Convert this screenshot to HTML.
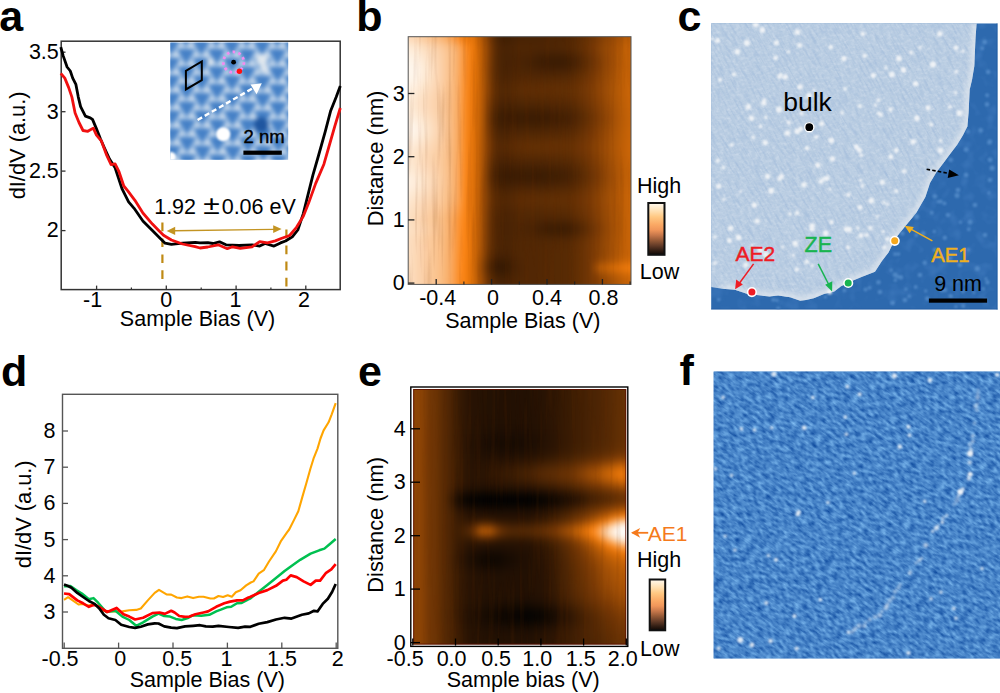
<!DOCTYPE html><html><head><meta charset="utf-8"><style>html,body{margin:0;padding:0;background:#fff;}svg{display:block;}</style></head><body>
<svg width="1000" height="693" viewBox="0 0 1000 693" font-family="'Liberation Sans', Arial, sans-serif">
<rect width="1000" height="693" fill="#fff"/>
<filter id="streak" x="0" y="0" width="100%" height="100%" color-interpolation-filters="sRGB"><feTurbulence type="fractalNoise" baseFrequency="0.25 0.012" numOctaves="2" seed="5"/><feColorMatrix type="matrix" values="0 0 0 0 0.45  0 0 0 0 0.2  0 0 0 0 0  -1.4 0 0 0 0.72"/></filter>
<text x="-0.8" y="30.8" font-size="43.0" font-weight="bold">a</text>
<text x="356.2" y="30.8" font-size="43.0" font-weight="bold">b</text>
<text x="677.6" y="31.0" font-size="43.0" font-weight="bold">c</text>
<text x="0.9" y="386.0" font-size="43.0" font-weight="bold">d</text>
<text x="358.0" y="385.6" font-size="43.0" font-weight="bold">e</text>
<text x="679.6" y="384.9" font-size="43.0" font-weight="bold">f</text>
<rect x="61.2" y="41.2" width="279" height="248.4" fill="none" stroke="#333" stroke-width="1.5"/>
<line x1="96.6" y1="289.6" x2="96.6" y2="285.6" stroke="#333" stroke-width="1.3"/>
<line x1="166.3" y1="289.6" x2="166.3" y2="285.6" stroke="#333" stroke-width="1.3"/>
<line x1="236.1" y1="289.6" x2="236.1" y2="285.6" stroke="#333" stroke-width="1.3"/>
<line x1="305.8" y1="289.6" x2="305.8" y2="285.6" stroke="#333" stroke-width="1.3"/>
<line x1="131.4" y1="289.6" x2="131.4" y2="287.4" stroke="#333" stroke-width="1.2"/>
<line x1="201.2" y1="289.6" x2="201.2" y2="287.4" stroke="#333" stroke-width="1.2"/>
<line x1="270.9" y1="289.6" x2="270.9" y2="287.4" stroke="#333" stroke-width="1.2"/>
<line x1="61.2" y1="230.6" x2="65.5" y2="230.6" stroke="#333" stroke-width="1.3"/>
<line x1="61.2" y1="171.1" x2="65.5" y2="171.1" stroke="#333" stroke-width="1.3"/>
<line x1="61.2" y1="111.7" x2="65.5" y2="111.7" stroke="#333" stroke-width="1.3"/>
<line x1="61.2" y1="52.2" x2="65.5" y2="52.2" stroke="#333" stroke-width="1.3"/>
<text x="92.6" y="307.3" font-size="21.5" text-anchor="middle">-1</text>
<text x="166.3" y="307.3" font-size="21.5" text-anchor="middle">0</text>
<text x="235.6" y="307.3" font-size="21.5" text-anchor="middle">1</text>
<text x="304.0" y="307.3" font-size="21.5" text-anchor="middle">2</text>
<text x="58.8" y="237.4" font-size="21.5" text-anchor="end">2</text>
<text x="58.8" y="177.9" font-size="21.5" text-anchor="end">2.5</text>
<text x="58.8" y="118.5" font-size="21.5" text-anchor="end">3</text>
<text x="58.8" y="59.0" font-size="21.5" text-anchor="end">3.5</text>
<text x="197.5" y="326.2" font-size="21.5" text-anchor="middle">Sample Bias (V)</text>
<text transform="translate(24.6,145.4) rotate(-90)" font-size="21.8" text-anchor="middle">dI/dV (a.u.)</text>
<line x1="162.4" y1="222.6" x2="162.4" y2="280" stroke="#bf8a14" stroke-width="2.2" stroke-dasharray="8.6,7.3"/>
<line x1="286.4" y1="229.4" x2="286.4" y2="287" stroke="#bf8a14" stroke-width="2.2" stroke-dasharray="8.8,7.3"/>
<line x1="174" y1="230.7" x2="274" y2="229.4" stroke="#c39422" stroke-width="1.4"/>
<polygon points="166.7,230.9 175.2,226.7 175.2,235.1" fill="#c39422"/>
<polygon points="281.6,229.1 273.2,225.3 273.2,233.0" fill="#c39422"/>
<text x="154.2" y="213.7" font-size="21.5">1.92</text>
<text transform="translate(203.2,213.6) scale(1.16,1)" font-size="26">±</text>
<text x="221.7" y="213.7" font-size="21.5">0.06 eV</text>
<polyline points="60.8,47.1 63.2,55.9 67.1,67.0 70.3,71.0 72.7,78.1 75.9,84.4 78.3,97.1 80.6,106.7 85.4,116.2 90.2,117.8 92.5,119.4 96.5,128.9 100.5,139.0 104.0,147.0 109.5,159.0 115.1,167.8 122.2,189.2 128.6,201.9 134.1,208.3 142.9,221.0 152.4,230.5 160.3,238.4 165.1,243.2 171.4,244.4 182.5,243.2 195.2,242.4 200.0,242.9 207.8,242.6 213.0,243.5 219.5,241.8 226.0,244.8 239.0,245.5 252.0,244.8 259.7,246.1 265.0,243.5 274.0,246.1 280.5,242.9 285.5,241.0 290.0,238.3 292.3,236.9 297.8,230.0 303.3,213.6 307.4,197.1 312.9,175.2 318.4,156.0 325.3,131.3 330.7,110.7 336.2,97.0 340.3,86.0" fill="none" stroke="#000" stroke-width="2.8" stroke-linejoin="round"/>
<polyline points="60.8,73.3 64.8,78.1 68.7,87.6 71.9,97.1 75.1,113.0 79.0,122.5 83.0,130.5 87.8,131.3 93.3,128.1 96.5,135.2 101.3,140.8 106.3,154.3 111.1,164.6 115.1,163.8 119.0,171.7 123.8,186.0 127.8,190.8 134.9,200.3 142.9,213.0 152.4,224.1 158.7,230.5 163.5,235.2 171.4,240.0 182.5,244.0 195.2,246.7 200.0,248.0 207.8,247.0 218.2,244.8 227.3,248.7 232.5,246.8 240.3,248.3 252.0,246.8 259.7,241.6 267.5,242.9 275.3,240.9 281.8,238.3 289.6,235.5 296.5,227.3 303.3,216.3 308.8,202.6 315.7,183.4 323.9,164.2 329.4,145.0 334.9,125.8 340.3,108.0" fill="none" stroke="#f01010" stroke-width="2.8" stroke-linejoin="round"/>
<clipPath id="cpin"><rect x="170.3" y="42.4" width="117.9" height="117.4"/></clipPath>
<g clip-path="url(#cpin)">
<rect x="170.3" y="42.4" width="117.9" height="117.4" fill="#a2c1e3"/>
<g filter="url(#blin)">
<g fill="#4580c6" stroke="#4580c6" stroke-width="3" stroke-linejoin="round"><path d="M149.0 32.8L162.2 32.8L155.6 43.7Z"/><path d="M149.2 50.4L162.4 50.4L155.8 61.3Z"/><path d="M149.4 68.0L162.6 68.0L156.0 78.9Z"/><path d="M149.6 85.6L162.8 85.6L156.2 96.5Z"/><path d="M149.8 103.2L163.0 103.2L156.4 114.1Z"/><path d="M150.0 120.8L163.2 120.8L156.6 131.7Z"/><path d="M150.2 138.4L163.4 138.4L156.8 149.3Z"/><path d="M150.4 156.0L163.6 156.0L157.0 166.9Z"/><path d="M164.1 24.0L177.3 24.0L170.7 34.9Z"/><path d="M164.3 41.6L177.5 41.6L170.9 52.5Z"/><path d="M164.5 59.2L177.7 59.2L171.1 70.2Z"/><path d="M164.7 76.8L177.9 76.8L171.3 87.8Z"/><path d="M164.9 94.5L178.1 94.5L171.5 105.4Z"/><path d="M165.1 112.1L178.3 112.1L171.7 123.0Z"/><path d="M165.3 129.7L178.5 129.7L171.9 140.6Z"/><path d="M165.5 147.2L178.7 147.2L172.1 158.2Z"/><path d="M165.7 164.9L178.9 164.9L172.3 175.8Z"/><path d="M179.4 32.9L192.6 32.9L186.0 43.8Z"/><path d="M179.6 50.5L192.8 50.5L186.2 61.4Z"/><path d="M179.8 68.1L193.0 68.1L186.4 79.0Z"/><path d="M180.0 85.7L193.2 85.7L186.6 96.6Z"/><path d="M180.2 103.3L193.4 103.3L186.8 114.2Z"/><path d="M180.4 120.9L193.6 120.9L187.0 131.8Z"/><path d="M180.6 138.5L193.8 138.5L187.2 149.4Z"/><path d="M180.8 156.1L194.0 156.1L187.4 167.0Z"/><path d="M194.5 24.1L207.7 24.1L201.1 35.0Z"/><path d="M194.7 41.8L207.9 41.8L201.3 52.6Z"/><path d="M194.9 59.4L208.1 59.4L201.5 70.2Z"/><path d="M195.1 77.0L208.3 77.0L201.7 87.9Z"/><path d="M195.3 94.6L208.5 94.6L201.9 105.5Z"/><path d="M195.5 112.2L208.7 112.2L202.1 123.1Z"/><path d="M195.7 129.8L208.9 129.8L202.3 140.7Z"/><path d="M195.9 147.3L209.1 147.3L202.5 158.2Z"/><path d="M196.1 165.0L209.3 165.0L202.7 175.9Z"/><path d="M209.8 33.0L223.0 33.0L216.4 43.9Z"/><path d="M210.0 50.6L223.2 50.6L216.6 61.5Z"/><path d="M210.2 68.2L223.4 68.2L216.8 79.1Z"/><path d="M210.4 85.8L223.6 85.8L217.0 96.7Z"/><path d="M210.6 103.4L223.8 103.4L217.2 114.3Z"/><path d="M210.8 121.0L224.0 121.0L217.4 131.9Z"/><path d="M211.0 138.6L224.2 138.6L217.6 149.5Z"/><path d="M211.2 156.2L224.4 156.2L217.8 167.1Z"/><path d="M224.9 24.2L238.1 24.2L231.5 35.1Z"/><path d="M225.1 41.8L238.3 41.8L231.7 52.7Z"/><path d="M225.3 59.4L238.5 59.4L231.9 70.3Z"/><path d="M225.5 77.0L238.7 77.0L232.1 88.0Z"/><path d="M225.7 94.7L238.9 94.7L232.3 105.6Z"/><path d="M225.9 112.2L239.1 112.2L232.5 123.2Z"/><path d="M226.1 129.8L239.3 129.8L232.7 140.8Z"/><path d="M226.3 147.4L239.5 147.4L232.9 158.3Z"/><path d="M226.5 165.1L239.7 165.1L233.1 176.0Z"/><path d="M240.2 33.1L253.4 33.1L246.8 44.0Z"/><path d="M240.4 50.7L253.6 50.7L247.0 61.6Z"/><path d="M240.6 68.3L253.8 68.3L247.2 79.2Z"/><path d="M240.8 85.9L254.0 85.9L247.4 96.8Z"/><path d="M241.0 103.5L254.2 103.5L247.6 114.4Z"/><path d="M241.2 121.1L254.4 121.1L247.8 132.0Z"/><path d="M241.4 138.7L254.6 138.7L248.0 149.6Z"/><path d="M241.6 156.3L254.8 156.3L248.2 167.2Z"/><path d="M255.3 24.3L268.5 24.3L261.9 35.2Z"/><path d="M255.5 41.9L268.7 41.9L262.1 52.8Z"/><path d="M255.7 59.5L268.9 59.5L262.3 70.5Z"/><path d="M255.9 77.2L269.1 77.2L262.5 88.1Z"/><path d="M256.1 94.8L269.3 94.8L262.7 105.7Z"/><path d="M256.3 112.3L269.5 112.3L262.9 123.2Z"/><path d="M256.5 129.9L269.7 129.9L263.1 140.8Z"/><path d="M256.7 147.6L269.9 147.6L263.3 158.5Z"/><path d="M256.9 165.2L270.1 165.2L263.5 176.1Z"/><path d="M270.6 33.2L283.8 33.2L277.2 44.1Z"/><path d="M270.8 50.8L284.0 50.8L277.4 61.7Z"/><path d="M271.0 68.4L284.2 68.4L277.6 79.3Z"/><path d="M271.2 86.0L284.4 86.0L277.8 96.9Z"/><path d="M271.4 103.6L284.6 103.6L278.0 114.5Z"/><path d="M271.6 121.2L284.8 121.2L278.2 132.1Z"/><path d="M271.8 138.8L285.0 138.8L278.4 149.7Z"/><path d="M272.0 156.4L285.2 156.4L278.6 167.3Z"/><path d="M285.7 24.4L298.9 24.4L292.3 35.3Z"/><path d="M285.9 42.0L299.1 42.0L292.5 52.9Z"/><path d="M286.1 59.6L299.3 59.6L292.7 70.5Z"/><path d="M286.3 77.2L299.5 77.2L292.9 88.1Z"/><path d="M286.5 94.8L299.7 94.8L293.1 105.8Z"/><path d="M286.7 112.4L299.9 112.4L293.3 123.3Z"/><path d="M286.9 130.0L300.1 130.0L293.5 140.9Z"/><path d="M287.1 147.6L300.3 147.6L293.7 158.5Z"/><path d="M287.3 165.2L300.5 165.2L293.9 176.2Z"/></g>
<g fill="#cddcec"><circle cx="160.7" cy="46.1" r="3.0"/><circle cx="150.5" cy="46.1" r="2.4"/><circle cx="160.9" cy="63.7" r="3.0"/><circle cx="150.7" cy="63.7" r="2.4"/><circle cx="161.1" cy="81.3" r="3.0"/><circle cx="150.9" cy="81.3" r="2.4"/><circle cx="161.3" cy="98.9" r="3.0"/><circle cx="151.1" cy="98.9" r="2.4"/><circle cx="161.5" cy="116.5" r="3.0"/><circle cx="151.3" cy="116.5" r="2.4"/><circle cx="161.7" cy="134.1" r="3.0"/><circle cx="151.5" cy="134.1" r="2.4"/><circle cx="161.9" cy="151.7" r="3.0"/><circle cx="151.7" cy="151.7" r="2.4"/><circle cx="162.1" cy="169.3" r="3.0"/><circle cx="151.9" cy="169.3" r="2.4"/><circle cx="175.8" cy="37.3" r="3.0"/><circle cx="165.6" cy="37.3" r="2.4"/><circle cx="176.0" cy="55.0" r="3.0"/><circle cx="165.8" cy="55.0" r="2.4"/><circle cx="176.2" cy="72.5" r="3.0"/><circle cx="166.0" cy="72.5" r="2.4"/><circle cx="176.4" cy="90.1" r="3.0"/><circle cx="166.2" cy="90.1" r="2.4"/><circle cx="176.6" cy="107.8" r="3.0"/><circle cx="166.4" cy="107.8" r="2.4"/><circle cx="176.8" cy="125.4" r="3.0"/><circle cx="166.6" cy="125.4" r="2.4"/><circle cx="177.0" cy="143.0" r="3.0"/><circle cx="166.8" cy="143.0" r="2.4"/><circle cx="177.2" cy="160.6" r="3.0"/><circle cx="167.0" cy="160.6" r="2.4"/><circle cx="177.4" cy="178.2" r="3.0"/><circle cx="167.2" cy="178.2" r="2.4"/><circle cx="191.1" cy="46.2" r="3.0"/><circle cx="180.9" cy="46.2" r="2.4"/><circle cx="191.3" cy="63.8" r="3.0"/><circle cx="181.1" cy="63.8" r="2.4"/><circle cx="191.5" cy="81.4" r="3.0"/><circle cx="181.3" cy="81.4" r="2.4"/><circle cx="191.7" cy="99.0" r="3.0"/><circle cx="181.5" cy="99.0" r="2.4"/><circle cx="191.9" cy="116.6" r="3.0"/><circle cx="181.7" cy="116.6" r="2.4"/><circle cx="192.1" cy="134.2" r="3.0"/><circle cx="181.9" cy="134.2" r="2.4"/><circle cx="192.3" cy="151.8" r="3.0"/><circle cx="182.1" cy="151.8" r="2.4"/><circle cx="192.5" cy="169.4" r="3.0"/><circle cx="182.3" cy="169.4" r="2.4"/><circle cx="206.2" cy="37.5" r="3.0"/><circle cx="196.0" cy="37.5" r="2.4"/><circle cx="206.4" cy="55.0" r="3.0"/><circle cx="196.2" cy="55.0" r="2.4"/><circle cx="206.6" cy="72.7" r="3.0"/><circle cx="196.4" cy="72.7" r="2.4"/><circle cx="206.8" cy="90.2" r="3.0"/><circle cx="196.6" cy="90.2" r="2.4"/><circle cx="207.0" cy="107.9" r="3.0"/><circle cx="196.8" cy="107.9" r="2.4"/><circle cx="207.2" cy="125.5" r="3.0"/><circle cx="197.0" cy="125.5" r="2.4"/><circle cx="207.4" cy="143.1" r="3.0"/><circle cx="197.2" cy="143.1" r="2.4"/><circle cx="207.6" cy="160.7" r="3.0"/><circle cx="197.4" cy="160.7" r="2.4"/><circle cx="207.8" cy="178.3" r="3.0"/><circle cx="197.6" cy="178.3" r="2.4"/><circle cx="221.5" cy="46.3" r="3.0"/><circle cx="211.3" cy="46.3" r="2.4"/><circle cx="221.7" cy="63.9" r="3.0"/><circle cx="211.5" cy="63.9" r="2.4"/><circle cx="221.9" cy="81.5" r="3.0"/><circle cx="211.7" cy="81.5" r="2.4"/><circle cx="222.1" cy="99.1" r="3.0"/><circle cx="211.9" cy="99.1" r="2.4"/><circle cx="222.3" cy="116.7" r="3.0"/><circle cx="212.1" cy="116.7" r="2.4"/><circle cx="222.5" cy="134.3" r="3.0"/><circle cx="212.3" cy="134.3" r="2.4"/><circle cx="222.7" cy="151.9" r="3.0"/><circle cx="212.5" cy="151.9" r="2.4"/><circle cx="222.9" cy="169.5" r="3.0"/><circle cx="212.7" cy="169.5" r="2.4"/><circle cx="236.6" cy="37.5" r="3.0"/><circle cx="226.4" cy="37.5" r="2.4"/><circle cx="236.8" cy="55.1" r="3.0"/><circle cx="226.6" cy="55.1" r="2.4"/><circle cx="237.0" cy="72.8" r="3.0"/><circle cx="226.8" cy="72.8" r="2.4"/><circle cx="237.2" cy="90.3" r="3.0"/><circle cx="227.0" cy="90.3" r="2.4"/><circle cx="237.4" cy="108.0" r="3.0"/><circle cx="227.2" cy="108.0" r="2.4"/><circle cx="237.6" cy="125.5" r="3.0"/><circle cx="227.4" cy="125.5" r="2.4"/><circle cx="237.8" cy="143.2" r="3.0"/><circle cx="227.6" cy="143.2" r="2.4"/><circle cx="238.0" cy="160.8" r="3.0"/><circle cx="227.8" cy="160.8" r="2.4"/><circle cx="238.2" cy="178.4" r="3.0"/><circle cx="228.0" cy="178.4" r="2.4"/><circle cx="251.9" cy="46.4" r="3.0"/><circle cx="241.7" cy="46.4" r="2.4"/><circle cx="252.1" cy="64.0" r="3.0"/><circle cx="241.9" cy="64.0" r="2.4"/><circle cx="252.3" cy="81.6" r="3.0"/><circle cx="242.1" cy="81.6" r="2.4"/><circle cx="252.5" cy="99.2" r="3.0"/><circle cx="242.3" cy="99.2" r="2.4"/><circle cx="252.7" cy="116.8" r="3.0"/><circle cx="242.5" cy="116.8" r="2.4"/><circle cx="252.9" cy="134.4" r="3.0"/><circle cx="242.7" cy="134.4" r="2.4"/><circle cx="253.1" cy="152.0" r="3.0"/><circle cx="242.9" cy="152.0" r="2.4"/><circle cx="253.3" cy="169.6" r="3.0"/><circle cx="243.1" cy="169.6" r="2.4"/><circle cx="267.0" cy="37.6" r="3.0"/><circle cx="256.8" cy="37.6" r="2.4"/><circle cx="267.2" cy="55.2" r="3.0"/><circle cx="257.0" cy="55.2" r="2.4"/><circle cx="267.4" cy="72.8" r="3.0"/><circle cx="257.2" cy="72.8" r="2.4"/><circle cx="267.6" cy="90.5" r="3.0"/><circle cx="257.4" cy="90.5" r="2.4"/><circle cx="267.8" cy="108.0" r="3.0"/><circle cx="257.6" cy="108.0" r="2.4"/><circle cx="268.0" cy="125.6" r="3.0"/><circle cx="257.8" cy="125.6" r="2.4"/><circle cx="268.2" cy="143.2" r="3.0"/><circle cx="258.0" cy="143.2" r="2.4"/><circle cx="268.4" cy="160.9" r="3.0"/><circle cx="258.2" cy="160.9" r="2.4"/><circle cx="268.6" cy="178.5" r="3.0"/><circle cx="258.4" cy="178.5" r="2.4"/><circle cx="282.3" cy="46.5" r="3.0"/><circle cx="272.1" cy="46.5" r="2.4"/><circle cx="282.5" cy="64.1" r="3.0"/><circle cx="272.3" cy="64.1" r="2.4"/><circle cx="282.7" cy="81.7" r="3.0"/><circle cx="272.5" cy="81.7" r="2.4"/><circle cx="282.9" cy="99.3" r="3.0"/><circle cx="272.7" cy="99.3" r="2.4"/><circle cx="283.1" cy="116.9" r="3.0"/><circle cx="272.9" cy="116.9" r="2.4"/><circle cx="283.3" cy="134.5" r="3.0"/><circle cx="273.1" cy="134.5" r="2.4"/><circle cx="283.5" cy="152.1" r="3.0"/><circle cx="273.3" cy="152.1" r="2.4"/><circle cx="283.7" cy="169.7" r="3.0"/><circle cx="273.5" cy="169.7" r="2.4"/><circle cx="297.4" cy="37.7" r="3.0"/><circle cx="287.2" cy="37.7" r="2.4"/><circle cx="297.6" cy="55.3" r="3.0"/><circle cx="287.4" cy="55.3" r="2.4"/><circle cx="297.8" cy="72.9" r="3.0"/><circle cx="287.6" cy="72.9" r="2.4"/><circle cx="298.0" cy="90.5" r="3.0"/><circle cx="287.8" cy="90.5" r="2.4"/><circle cx="298.2" cy="108.1" r="3.0"/><circle cx="288.0" cy="108.1" r="2.4"/><circle cx="298.4" cy="125.7" r="3.0"/><circle cx="288.2" cy="125.7" r="2.4"/><circle cx="298.6" cy="143.3" r="3.0"/><circle cx="288.4" cy="143.3" r="2.4"/><circle cx="298.8" cy="160.9" r="3.0"/><circle cx="288.6" cy="160.9" r="2.4"/><circle cx="299.0" cy="178.6" r="3.0"/><circle cx="288.8" cy="178.6" r="2.4"/></g>
<circle cx="261.2" cy="124.8" r="7.5" fill="#1f56a0"/>
<circle cx="262" cy="60" r="6" fill="#dfe7ee"/>
<circle cx="264" cy="68" r="4" fill="#dfe7ee"/>
<circle cx="210.8" cy="61.6" r="3.5" fill="#dfe7ee"/>
</g>
<filter id="blin" x="-10%" y="-10%" width="120%" height="120%" color-interpolation-filters="sRGB"><feGaussianBlur stdDeviation="2.0"/></filter>
<circle cx="223.3" cy="134.3" r="7" fill="#fff" filter="url(#blin2)"/>
<circle cx="171" cy="157" r="5" fill="#fff" filter="url(#blin2)"/>
<filter id="blin2" x="-50%" y="-50%" width="200%" height="200%"><feGaussianBlur stdDeviation="1.0"/></filter>
</g>
<polygon points="185.9,70.9 201.8,61.5 201.8,80.1 185.9,89.4" fill="none" stroke="#000" stroke-width="2"/>
<circle cx="233.6" cy="62.2" r="10.3" fill="none" stroke="#f48cf0" stroke-width="2.8" stroke-dasharray="2.6,3.3"/>
<circle cx="233.6" cy="62.2" r="2.4" fill="#000"/>
<circle cx="239.4" cy="71.2" r="2.7" fill="#ff1010"/>
<line x1="197.6" y1="120" x2="254" y2="87.6" stroke="#fff" stroke-width="2.4" stroke-dasharray="5.2,3"/>
<polygon points="261.8,83.2 250.5,84.6 256.6,94.2" fill="#fff"/>
<text x="243.6" y="143.4" font-size="18.5" stroke="#000" stroke-width="0.4">2 nm</text>
<rect x="243.4" y="150.6" width="38.4" height="4.2" fill="#000"/>
<style>.hb{width:6.6px;height:6.6px}</style>
<clipPath id="hbc"><rect x="408.2" y="36.7" width="222.8" height="247.7"/></clipPath>
<g clip-path="url(#hbc)"><g filter="url(#blhb)">
<rect class="hb" x="396.2" y="24.7" fill="#fcd8b7"/><rect class="hb" x="402.2" y="24.7" fill="#fcd8b7"/><rect class="hb" x="408.2" y="24.7" fill="#fcd8b6"/><rect class="hb" x="414.2" y="24.7" fill="#fbd1aa"/><rect class="hb" x="420.2" y="24.7" fill="#fac99a"/><rect class="hb" x="426.2" y="24.7" fill="#fac28d"/><rect class="hb" x="432.2" y="24.7" fill="#f9bb80"/><rect class="hb" x="438.2" y="24.7" fill="#f9b371"/><rect class="hb" x="444.2" y="24.7" fill="#f9a75d"/><rect class="hb" x="450.2" y="24.7" fill="#fa9a42"/><rect class="hb" x="456.2" y="24.7" fill="#fb891f"/><rect class="hb" x="462.2" y="24.7" fill="#e8750a"/><rect class="hb" x="468.2" y="24.7" fill="#e9760a"/><rect class="hb" x="474.2" y="24.7" fill="#cf6705"/><rect class="hb" x="480.2" y="24.7" fill="#a85204"/><rect class="hb" x="486.2" y="24.7" fill="#773803"/><rect class="hb" x="492.2" y="24.7" fill="#502602"/><rect class="hb" x="498.2" y="24.7" fill="#401e01"/><rect class="hb" x="504.2" y="24.7" fill="#3f1d01"/><rect class="hb" x="510.2" y="24.7" fill="#431f02"/><rect class="hb" x="516.2" y="24.7" fill="#462102"/><rect class="hb" x="522.2" y="24.7" fill="#472102"/><rect class="hb" x="528.2" y="24.7" fill="#472102"/><rect class="hb" x="534.2" y="24.7" fill="#472102"/><rect class="hb" x="540.2" y="24.7" fill="#482102"/><rect class="hb" x="546.2" y="24.7" fill="#492202"/><rect class="hb" x="552.2" y="24.7" fill="#4a2302"/><rect class="hb" x="558.2" y="24.7" fill="#4b2302"/><rect class="hb" x="564.2" y="24.7" fill="#4d2402"/><rect class="hb" x="570.2" y="24.7" fill="#512602"/><rect class="hb" x="576.2" y="24.7" fill="#592a02"/><rect class="hb" x="582.2" y="24.7" fill="#612d02"/><rect class="hb" x="588.2" y="24.7" fill="#6b3203"/><rect class="hb" x="594.2" y="24.7" fill="#763703"/><rect class="hb" x="600.2" y="24.7" fill="#823e03"/><rect class="hb" x="606.2" y="24.7" fill="#904503"/><rect class="hb" x="612.2" y="24.7" fill="#9d4c04"/><rect class="hb" x="618.2" y="24.7" fill="#ab5304"/><rect class="hb" x="624.2" y="24.7" fill="#b75a04"/><rect class="hb" x="630.2" y="24.7" fill="#bc5d04"/><rect class="hb" x="636.2" y="24.7" fill="#bc5d04"/><rect class="hb" x="642.2" y="24.7" fill="#bc5d04"/><rect class="hb" x="396.2" y="30.7" fill="#fcd8b7"/><rect class="hb" x="402.2" y="30.7" fill="#fcd8b7"/><rect class="hb" x="408.2" y="30.7" fill="#fcd8b6"/><rect class="hb" x="414.2" y="30.7" fill="#fbd1aa"/><rect class="hb" x="420.2" y="30.7" fill="#fac99a"/><rect class="hb" x="426.2" y="30.7" fill="#fac28d"/><rect class="hb" x="432.2" y="30.7" fill="#f9bb80"/><rect class="hb" x="438.2" y="30.7" fill="#f9b371"/><rect class="hb" x="444.2" y="30.7" fill="#f9a75d"/><rect class="hb" x="450.2" y="30.7" fill="#fa9a42"/><rect class="hb" x="456.2" y="30.7" fill="#fb891f"/><rect class="hb" x="462.2" y="30.7" fill="#e8750a"/><rect class="hb" x="468.2" y="30.7" fill="#e9760a"/><rect class="hb" x="474.2" y="30.7" fill="#cf6705"/><rect class="hb" x="480.2" y="30.7" fill="#a85204"/><rect class="hb" x="486.2" y="30.7" fill="#773803"/><rect class="hb" x="492.2" y="30.7" fill="#502602"/><rect class="hb" x="498.2" y="30.7" fill="#401e01"/><rect class="hb" x="504.2" y="30.7" fill="#3f1d01"/><rect class="hb" x="510.2" y="30.7" fill="#431f02"/><rect class="hb" x="516.2" y="30.7" fill="#462102"/><rect class="hb" x="522.2" y="30.7" fill="#472102"/><rect class="hb" x="528.2" y="30.7" fill="#472102"/><rect class="hb" x="534.2" y="30.7" fill="#472102"/><rect class="hb" x="540.2" y="30.7" fill="#482102"/><rect class="hb" x="546.2" y="30.7" fill="#492202"/><rect class="hb" x="552.2" y="30.7" fill="#4a2302"/><rect class="hb" x="558.2" y="30.7" fill="#4b2302"/><rect class="hb" x="564.2" y="30.7" fill="#4d2402"/><rect class="hb" x="570.2" y="30.7" fill="#512602"/><rect class="hb" x="576.2" y="30.7" fill="#592a02"/><rect class="hb" x="582.2" y="30.7" fill="#612d02"/><rect class="hb" x="588.2" y="30.7" fill="#6b3203"/><rect class="hb" x="594.2" y="30.7" fill="#763703"/><rect class="hb" x="600.2" y="30.7" fill="#823e03"/><rect class="hb" x="606.2" y="30.7" fill="#904503"/><rect class="hb" x="612.2" y="30.7" fill="#9d4c04"/><rect class="hb" x="618.2" y="30.7" fill="#ab5304"/><rect class="hb" x="624.2" y="30.7" fill="#b75a04"/><rect class="hb" x="630.2" y="30.7" fill="#bc5d04"/><rect class="hb" x="636.2" y="30.7" fill="#bc5d04"/><rect class="hb" x="642.2" y="30.7" fill="#bc5d04"/><rect class="hb" x="396.2" y="36.7" fill="#fcdbbb"/><rect class="hb" x="402.2" y="36.7" fill="#fcdbbb"/><rect class="hb" x="408.2" y="36.7" fill="#fcdaba"/><rect class="hb" x="414.2" y="36.7" fill="#fbd4af"/><rect class="hb" x="420.2" y="36.7" fill="#facca1"/><rect class="hb" x="426.2" y="36.7" fill="#fac593"/><rect class="hb" x="432.2" y="36.7" fill="#f9be86"/><rect class="hb" x="438.2" y="36.7" fill="#f9b779"/><rect class="hb" x="444.2" y="36.7" fill="#f9ab64"/><rect class="hb" x="450.2" y="36.7" fill="#f99e4c"/><rect class="hb" x="456.2" y="36.7" fill="#fb8d28"/><rect class="hb" x="462.2" y="36.7" fill="#ec780b"/><rect class="hb" x="468.2" y="36.7" fill="#ea770a"/><rect class="hb" x="474.2" y="36.7" fill="#d16805"/><rect class="hb" x="480.2" y="36.7" fill="#aa5304"/><rect class="hb" x="486.2" y="36.7" fill="#783803"/><rect class="hb" x="492.2" y="36.7" fill="#512602"/><rect class="hb" x="498.2" y="36.7" fill="#411e02"/><rect class="hb" x="504.2" y="36.7" fill="#401e01"/><rect class="hb" x="510.2" y="36.7" fill="#442002"/><rect class="hb" x="516.2" y="36.7" fill="#472102"/><rect class="hb" x="522.2" y="36.7" fill="#482202"/><rect class="hb" x="528.2" y="36.7" fill="#482202"/><rect class="hb" x="534.2" y="36.7" fill="#482202"/><rect class="hb" x="540.2" y="36.7" fill="#492202"/><rect class="hb" x="546.2" y="36.7" fill="#4a2302"/><rect class="hb" x="552.2" y="36.7" fill="#4b2302"/><rect class="hb" x="558.2" y="36.7" fill="#4c2402"/><rect class="hb" x="564.2" y="36.7" fill="#4e2402"/><rect class="hb" x="570.2" y="36.7" fill="#522702"/><rect class="hb" x="576.2" y="36.7" fill="#5a2a02"/><rect class="hb" x="582.2" y="36.7" fill="#622e02"/><rect class="hb" x="588.2" y="36.7" fill="#6c3303"/><rect class="hb" x="594.2" y="36.7" fill="#773803"/><rect class="hb" x="600.2" y="36.7" fill="#843f03"/><rect class="hb" x="606.2" y="36.7" fill="#914604"/><rect class="hb" x="612.2" y="36.7" fill="#9f4d04"/><rect class="hb" x="618.2" y="36.7" fill="#ac5404"/><rect class="hb" x="624.2" y="36.7" fill="#b95b04"/><rect class="hb" x="630.2" y="36.7" fill="#be5e04"/><rect class="hb" x="636.2" y="36.7" fill="#be5e04"/><rect class="hb" x="642.2" y="36.7" fill="#be5e04"/><rect class="hb" x="396.2" y="42.7" fill="#fde8d3"/><rect class="hb" x="402.2" y="42.7" fill="#fde8d3"/><rect class="hb" x="408.2" y="42.7" fill="#fde8d1"/><rect class="hb" x="414.2" y="42.7" fill="#fce2c7"/><rect class="hb" x="420.2" y="42.7" fill="#fcdbbb"/><rect class="hb" x="426.2" y="42.7" fill="#fbd5b0"/><rect class="hb" x="432.2" y="42.7" fill="#fbcea4"/><rect class="hb" x="438.2" y="42.7" fill="#fac798"/><rect class="hb" x="444.2" y="42.7" fill="#f9bf87"/><rect class="hb" x="450.2" y="42.7" fill="#f9b371"/><rect class="hb" x="456.2" y="42.7" fill="#f9a355"/><rect class="hb" x="462.2" y="42.7" fill="#fb891e"/><rect class="hb" x="468.2" y="42.7" fill="#f17b0c"/><rect class="hb" x="474.2" y="42.7" fill="#d86c05"/><rect class="hb" x="480.2" y="42.7" fill="#b25704"/><rect class="hb" x="486.2" y="42.7" fill="#803c03"/><rect class="hb" x="492.2" y="42.7" fill="#572902"/><rect class="hb" x="498.2" y="42.7" fill="#472102"/><rect class="hb" x="504.2" y="42.7" fill="#462102"/><rect class="hb" x="510.2" y="42.7" fill="#4a2202"/><rect class="hb" x="516.2" y="42.7" fill="#4d2402"/><rect class="hb" x="522.2" y="42.7" fill="#4d2402"/><rect class="hb" x="528.2" y="42.7" fill="#4d2402"/><rect class="hb" x="534.2" y="42.7" fill="#4d2402"/><rect class="hb" x="540.2" y="42.7" fill="#4d2402"/><rect class="hb" x="546.2" y="42.7" fill="#4e2402"/><rect class="hb" x="552.2" y="42.7" fill="#4e2502"/><rect class="hb" x="558.2" y="42.7" fill="#502502"/><rect class="hb" x="564.2" y="42.7" fill="#512602"/><rect class="hb" x="570.2" y="42.7" fill="#562802"/><rect class="hb" x="576.2" y="42.7" fill="#5e2c02"/><rect class="hb" x="582.2" y="42.7" fill="#673003"/><rect class="hb" x="588.2" y="42.7" fill="#723503"/><rect class="hb" x="594.2" y="42.7" fill="#7e3b03"/><rect class="hb" x="600.2" y="42.7" fill="#8c4303"/><rect class="hb" x="606.2" y="42.7" fill="#994a04"/><rect class="hb" x="612.2" y="42.7" fill="#a75104"/><rect class="hb" x="618.2" y="42.7" fill="#b55904"/><rect class="hb" x="624.2" y="42.7" fill="#c26005"/><rect class="hb" x="630.2" y="42.7" fill="#c76205"/><rect class="hb" x="636.2" y="42.7" fill="#c76205"/><rect class="hb" x="642.2" y="42.7" fill="#c76205"/><rect class="hb" x="396.2" y="48.7" fill="#feeede"/><rect class="hb" x="402.2" y="48.7" fill="#feeede"/><rect class="hb" x="408.2" y="48.7" fill="#feeedd"/><rect class="hb" x="414.2" y="48.7" fill="#fde9d3"/><rect class="hb" x="420.2" y="48.7" fill="#fce2c7"/><rect class="hb" x="426.2" y="48.7" fill="#fcdbbb"/><rect class="hb" x="432.2" y="48.7" fill="#fbd4af"/><rect class="hb" x="438.2" y="48.7" fill="#fbcda3"/><rect class="hb" x="444.2" y="48.7" fill="#fac491"/><rect class="hb" x="450.2" y="48.7" fill="#f9b97d"/><rect class="hb" x="456.2" y="48.7" fill="#f9a961"/><rect class="hb" x="462.2" y="48.7" fill="#fb8f2c"/><rect class="hb" x="468.2" y="48.7" fill="#f27c0c"/><rect class="hb" x="474.2" y="48.7" fill="#da6d06"/><rect class="hb" x="480.2" y="48.7" fill="#b45804"/><rect class="hb" x="486.2" y="48.7" fill="#813d03"/><rect class="hb" x="492.2" y="48.7" fill="#582902"/><rect class="hb" x="498.2" y="48.7" fill="#492202"/><rect class="hb" x="504.2" y="48.7" fill="#472102"/><rect class="hb" x="510.2" y="48.7" fill="#4a2302"/><rect class="hb" x="516.2" y="48.7" fill="#4c2402"/><rect class="hb" x="522.2" y="48.7" fill="#4c2402"/><rect class="hb" x="528.2" y="48.7" fill="#4b2302"/><rect class="hb" x="534.2" y="48.7" fill="#492202"/><rect class="hb" x="540.2" y="48.7" fill="#482102"/><rect class="hb" x="546.2" y="48.7" fill="#482102"/><rect class="hb" x="552.2" y="48.7" fill="#482102"/><rect class="hb" x="558.2" y="48.7" fill="#492202"/><rect class="hb" x="564.2" y="48.7" fill="#4b2302"/><rect class="hb" x="570.2" y="48.7" fill="#502602"/><rect class="hb" x="576.2" y="48.7" fill="#592a02"/><rect class="hb" x="582.2" y="48.7" fill="#632e02"/><rect class="hb" x="588.2" y="48.7" fill="#6f3403"/><rect class="hb" x="594.2" y="48.7" fill="#7d3b03"/><rect class="hb" x="600.2" y="48.7" fill="#8c4303"/><rect class="hb" x="606.2" y="48.7" fill="#9a4b04"/><rect class="hb" x="612.2" y="48.7" fill="#a95204"/><rect class="hb" x="618.2" y="48.7" fill="#b75a04"/><rect class="hb" x="624.2" y="48.7" fill="#c46105"/><rect class="hb" x="630.2" y="48.7" fill="#c96405"/><rect class="hb" x="636.2" y="48.7" fill="#c96405"/><rect class="hb" x="642.2" y="48.7" fill="#c96405"/><rect class="hb" x="396.2" y="54.7" fill="#fef2e5"/><rect class="hb" x="402.2" y="54.7" fill="#fef2e5"/><rect class="hb" x="408.2" y="54.7" fill="#fef2e4"/><rect class="hb" x="414.2" y="54.7" fill="#fdeddb"/><rect class="hb" x="420.2" y="54.7" fill="#fde6cf"/><rect class="hb" x="426.2" y="54.7" fill="#fcdec1"/><rect class="hb" x="432.2" y="54.7" fill="#fbd6b3"/><rect class="hb" x="438.2" y="54.7" fill="#fbcfa6"/><rect class="hb" x="444.2" y="54.7" fill="#fac592"/><rect class="hb" x="450.2" y="54.7" fill="#f9ba7e"/><rect class="hb" x="456.2" y="54.7" fill="#f9a961"/><rect class="hb" x="462.2" y="54.7" fill="#fb8f2b"/><rect class="hb" x="468.2" y="54.7" fill="#f27c0c"/><rect class="hb" x="474.2" y="54.7" fill="#da6d06"/><rect class="hb" x="480.2" y="54.7" fill="#b35804"/><rect class="hb" x="486.2" y="54.7" fill="#803c03"/><rect class="hb" x="492.2" y="54.7" fill="#572902"/><rect class="hb" x="498.2" y="54.7" fill="#482202"/><rect class="hb" x="504.2" y="54.7" fill="#462102"/><rect class="hb" x="510.2" y="54.7" fill="#482202"/><rect class="hb" x="516.2" y="54.7" fill="#492202"/><rect class="hb" x="522.2" y="54.7" fill="#482102"/><rect class="hb" x="528.2" y="54.7" fill="#452002"/><rect class="hb" x="534.2" y="54.7" fill="#411e02"/><rect class="hb" x="540.2" y="54.7" fill="#3e1d01"/><rect class="hb" x="546.2" y="54.7" fill="#3d1c01"/><rect class="hb" x="552.2" y="54.7" fill="#3c1c01"/><rect class="hb" x="558.2" y="54.7" fill="#3d1c01"/><rect class="hb" x="564.2" y="54.7" fill="#3f1d01"/><rect class="hb" x="570.2" y="54.7" fill="#462002"/><rect class="hb" x="576.2" y="54.7" fill="#502502"/><rect class="hb" x="582.2" y="54.7" fill="#5b2b02"/><rect class="hb" x="588.2" y="54.7" fill="#6a3103"/><rect class="hb" x="594.2" y="54.7" fill="#773803"/><rect class="hb" x="600.2" y="54.7" fill="#884103"/><rect class="hb" x="606.2" y="54.7" fill="#984904"/><rect class="hb" x="612.2" y="54.7" fill="#a85204"/><rect class="hb" x="618.2" y="54.7" fill="#b65a04"/><rect class="hb" x="624.2" y="54.7" fill="#c46105"/><rect class="hb" x="630.2" y="54.7" fill="#c96405"/><rect class="hb" x="636.2" y="54.7" fill="#c96405"/><rect class="hb" x="642.2" y="54.7" fill="#c96405"/><rect class="hb" x="396.2" y="60.7" fill="#fef5eb"/><rect class="hb" x="402.2" y="60.7" fill="#fef5eb"/><rect class="hb" x="408.2" y="60.7" fill="#fef5ea"/><rect class="hb" x="414.2" y="60.7" fill="#fef0e2"/><rect class="hb" x="420.2" y="60.7" fill="#fdead5"/><rect class="hb" x="426.2" y="60.7" fill="#fce1c6"/><rect class="hb" x="432.2" y="60.7" fill="#fcd8b6"/><rect class="hb" x="438.2" y="60.7" fill="#fbd0a8"/><rect class="hb" x="444.2" y="60.7" fill="#fac593"/><rect class="hb" x="450.2" y="60.7" fill="#f9ba7e"/><rect class="hb" x="456.2" y="60.7" fill="#f9a960"/><rect class="hb" x="462.2" y="60.7" fill="#fb8e2a"/><rect class="hb" x="468.2" y="60.7" fill="#f17b0c"/><rect class="hb" x="474.2" y="60.7" fill="#d96d06"/><rect class="hb" x="480.2" y="60.7" fill="#b25704"/><rect class="hb" x="486.2" y="60.7" fill="#7f3c03"/><rect class="hb" x="492.2" y="60.7" fill="#572902"/><rect class="hb" x="498.2" y="60.7" fill="#482202"/><rect class="hb" x="504.2" y="60.7" fill="#462002"/><rect class="hb" x="510.2" y="60.7" fill="#482102"/><rect class="hb" x="516.2" y="60.7" fill="#492202"/><rect class="hb" x="522.2" y="60.7" fill="#462102"/><rect class="hb" x="528.2" y="60.7" fill="#431f02"/><rect class="hb" x="534.2" y="60.7" fill="#3f1d01"/><rect class="hb" x="540.2" y="60.7" fill="#3c1b01"/><rect class="hb" x="546.2" y="60.7" fill="#3a1a01"/><rect class="hb" x="552.2" y="60.7" fill="#391a01"/><rect class="hb" x="558.2" y="60.7" fill="#3a1a01"/><rect class="hb" x="564.2" y="60.7" fill="#3c1c01"/><rect class="hb" x="570.2" y="60.7" fill="#431f02"/><rect class="hb" x="576.2" y="60.7" fill="#4e2402"/><rect class="hb" x="582.2" y="60.7" fill="#592a02"/><rect class="hb" x="588.2" y="60.7" fill="#683103"/><rect class="hb" x="594.2" y="60.7" fill="#763703"/><rect class="hb" x="600.2" y="60.7" fill="#874003"/><rect class="hb" x="606.2" y="60.7" fill="#984904"/><rect class="hb" x="612.2" y="60.7" fill="#a75104"/><rect class="hb" x="618.2" y="60.7" fill="#b65904"/><rect class="hb" x="624.2" y="60.7" fill="#c46105"/><rect class="hb" x="630.2" y="60.7" fill="#c96405"/><rect class="hb" x="636.2" y="60.7" fill="#c96405"/><rect class="hb" x="642.2" y="60.7" fill="#c96405"/><rect class="hb" x="396.2" y="66.7" fill="#fef7ee"/><rect class="hb" x="402.2" y="66.7" fill="#fef7ee"/><rect class="hb" x="408.2" y="66.7" fill="#fef6ed"/><rect class="hb" x="414.2" y="66.7" fill="#fef2e6"/><rect class="hb" x="420.2" y="66.7" fill="#fdecd9"/><rect class="hb" x="426.2" y="66.7" fill="#fde3c9"/><rect class="hb" x="432.2" y="66.7" fill="#fcd9b8"/><rect class="hb" x="438.2" y="66.7" fill="#fbd0a9"/><rect class="hb" x="444.2" y="66.7" fill="#fac593"/><rect class="hb" x="450.2" y="66.7" fill="#f9ba7e"/><rect class="hb" x="456.2" y="66.7" fill="#f9a960"/><rect class="hb" x="462.2" y="66.7" fill="#fb8e29"/><rect class="hb" x="468.2" y="66.7" fill="#f17b0c"/><rect class="hb" x="474.2" y="66.7" fill="#d96c06"/><rect class="hb" x="480.2" y="66.7" fill="#b15704"/><rect class="hb" x="486.2" y="66.7" fill="#7e3b03"/><rect class="hb" x="492.2" y="66.7" fill="#572902"/><rect class="hb" x="498.2" y="66.7" fill="#492202"/><rect class="hb" x="504.2" y="66.7" fill="#472102"/><rect class="hb" x="510.2" y="66.7" fill="#4a2202"/><rect class="hb" x="516.2" y="66.7" fill="#4b2302"/><rect class="hb" x="522.2" y="66.7" fill="#4a2302"/><rect class="hb" x="528.2" y="66.7" fill="#482202"/><rect class="hb" x="534.2" y="66.7" fill="#462002"/><rect class="hb" x="540.2" y="66.7" fill="#441f02"/><rect class="hb" x="546.2" y="66.7" fill="#431f02"/><rect class="hb" x="552.2" y="66.7" fill="#431f02"/><rect class="hb" x="558.2" y="66.7" fill="#441f02"/><rect class="hb" x="564.2" y="66.7" fill="#462002"/><rect class="hb" x="570.2" y="66.7" fill="#4c2302"/><rect class="hb" x="576.2" y="66.7" fill="#552802"/><rect class="hb" x="582.2" y="66.7" fill="#602d02"/><rect class="hb" x="588.2" y="66.7" fill="#6d3303"/><rect class="hb" x="594.2" y="66.7" fill="#7a3903"/><rect class="hb" x="600.2" y="66.7" fill="#8a4203"/><rect class="hb" x="606.2" y="66.7" fill="#9a4a04"/><rect class="hb" x="612.2" y="66.7" fill="#a85204"/><rect class="hb" x="618.2" y="66.7" fill="#b75a04"/><rect class="hb" x="624.2" y="66.7" fill="#c46105"/><rect class="hb" x="630.2" y="66.7" fill="#c96405"/><rect class="hb" x="636.2" y="66.7" fill="#c96405"/><rect class="hb" x="642.2" y="66.7" fill="#c96405"/><rect class="hb" x="396.2" y="72.7" fill="#fef6ed"/><rect class="hb" x="402.2" y="72.7" fill="#fef6ed"/><rect class="hb" x="408.2" y="72.7" fill="#fef6ed"/><rect class="hb" x="414.2" y="72.7" fill="#fef2e5"/><rect class="hb" x="420.2" y="72.7" fill="#fdebd8"/><rect class="hb" x="426.2" y="72.7" fill="#fce2c8"/><rect class="hb" x="432.2" y="72.7" fill="#fcd9b8"/><rect class="hb" x="438.2" y="72.7" fill="#fbd0a9"/><rect class="hb" x="444.2" y="72.7" fill="#fac593"/><rect class="hb" x="450.2" y="72.7" fill="#f9b97d"/><rect class="hb" x="456.2" y="72.7" fill="#f9a85f"/><rect class="hb" x="462.2" y="72.7" fill="#fb8d27"/><rect class="hb" x="468.2" y="72.7" fill="#f07b0c"/><rect class="hb" x="474.2" y="72.7" fill="#d96c05"/><rect class="hb" x="480.2" y="72.7" fill="#b05604"/><rect class="hb" x="486.2" y="72.7" fill="#7e3c03"/><rect class="hb" x="492.2" y="72.7" fill="#572902"/><rect class="hb" x="498.2" y="72.7" fill="#4a2302"/><rect class="hb" x="504.2" y="72.7" fill="#492202"/><rect class="hb" x="510.2" y="72.7" fill="#4d2402"/><rect class="hb" x="516.2" y="72.7" fill="#4f2502"/><rect class="hb" x="522.2" y="72.7" fill="#502502"/><rect class="hb" x="528.2" y="72.7" fill="#4f2502"/><rect class="hb" x="534.2" y="72.7" fill="#4e2502"/><rect class="hb" x="540.2" y="72.7" fill="#4e2402"/><rect class="hb" x="546.2" y="72.7" fill="#4e2502"/><rect class="hb" x="552.2" y="72.7" fill="#4f2502"/><rect class="hb" x="558.2" y="72.7" fill="#502602"/><rect class="hb" x="564.2" y="72.7" fill="#512602"/><rect class="hb" x="570.2" y="72.7" fill="#562902"/><rect class="hb" x="576.2" y="72.7" fill="#5f2d02"/><rect class="hb" x="582.2" y="72.7" fill="#683103"/><rect class="hb" x="588.2" y="72.7" fill="#733603"/><rect class="hb" x="594.2" y="72.7" fill="#803c03"/><rect class="hb" x="600.2" y="72.7" fill="#8e4403"/><rect class="hb" x="606.2" y="72.7" fill="#9c4c04"/><rect class="hb" x="612.2" y="72.7" fill="#aa5304"/><rect class="hb" x="618.2" y="72.7" fill="#b85a04"/><rect class="hb" x="624.2" y="72.7" fill="#c56105"/><rect class="hb" x="630.2" y="72.7" fill="#ca6405"/><rect class="hb" x="636.2" y="72.7" fill="#ca6405"/><rect class="hb" x="642.2" y="72.7" fill="#ca6405"/><rect class="hb" x="396.2" y="78.7" fill="#fef4e9"/><rect class="hb" x="402.2" y="78.7" fill="#fef4e9"/><rect class="hb" x="408.2" y="78.7" fill="#fef4e8"/><rect class="hb" x="414.2" y="78.7" fill="#feefe0"/><rect class="hb" x="420.2" y="78.7" fill="#fde9d3"/><rect class="hb" x="426.2" y="78.7" fill="#fce0c4"/><rect class="hb" x="432.2" y="78.7" fill="#fbd7b5"/><rect class="hb" x="438.2" y="78.7" fill="#fbcfa7"/><rect class="hb" x="444.2" y="78.7" fill="#fac492"/><rect class="hb" x="450.2" y="78.7" fill="#f9b97d"/><rect class="hb" x="456.2" y="78.7" fill="#f9a85e"/><rect class="hb" x="462.2" y="78.7" fill="#fb8d26"/><rect class="hb" x="468.2" y="78.7" fill="#f07a0c"/><rect class="hb" x="474.2" y="78.7" fill="#d86c05"/><rect class="hb" x="480.2" y="78.7" fill="#af5604"/><rect class="hb" x="486.2" y="78.7" fill="#803d03"/><rect class="hb" x="492.2" y="78.7" fill="#5a2a02"/><rect class="hb" x="498.2" y="78.7" fill="#4d2402"/><rect class="hb" x="504.2" y="78.7" fill="#4d2402"/><rect class="hb" x="510.2" y="78.7" fill="#512602"/><rect class="hb" x="516.2" y="78.7" fill="#552802"/><rect class="hb" x="522.2" y="78.7" fill="#562802"/><rect class="hb" x="528.2" y="78.7" fill="#562902"/><rect class="hb" x="534.2" y="78.7" fill="#562902"/><rect class="hb" x="540.2" y="78.7" fill="#572902"/><rect class="hb" x="546.2" y="78.7" fill="#582902"/><rect class="hb" x="552.2" y="78.7" fill="#592a02"/><rect class="hb" x="558.2" y="78.7" fill="#592a02"/><rect class="hb" x="564.2" y="78.7" fill="#5a2a02"/><rect class="hb" x="570.2" y="78.7" fill="#5f2c02"/><rect class="hb" x="576.2" y="78.7" fill="#663002"/><rect class="hb" x="582.2" y="78.7" fill="#6e3303"/><rect class="hb" x="588.2" y="78.7" fill="#783803"/><rect class="hb" x="594.2" y="78.7" fill="#853f03"/><rect class="hb" x="600.2" y="78.7" fill="#924604"/><rect class="hb" x="606.2" y="78.7" fill="#9f4d04"/><rect class="hb" x="612.2" y="78.7" fill="#ac5404"/><rect class="hb" x="618.2" y="78.7" fill="#b95b04"/><rect class="hb" x="624.2" y="78.7" fill="#c56205"/><rect class="hb" x="630.2" y="78.7" fill="#cb6405"/><rect class="hb" x="636.2" y="78.7" fill="#cb6405"/><rect class="hb" x="642.2" y="78.7" fill="#cb6405"/><rect class="hb" x="396.2" y="84.7" fill="#fef1e3"/><rect class="hb" x="402.2" y="84.7" fill="#fef1e3"/><rect class="hb" x="408.2" y="84.7" fill="#fef0e2"/><rect class="hb" x="414.2" y="84.7" fill="#fdebd8"/><rect class="hb" x="420.2" y="84.7" fill="#fde5cc"/><rect class="hb" x="426.2" y="84.7" fill="#fcddbf"/><rect class="hb" x="432.2" y="84.7" fill="#fbd5b2"/><rect class="hb" x="438.2" y="84.7" fill="#fbcea4"/><rect class="hb" x="444.2" y="84.7" fill="#fac490"/><rect class="hb" x="450.2" y="84.7" fill="#f9b87c"/><rect class="hb" x="456.2" y="84.7" fill="#f9a75d"/><rect class="hb" x="462.2" y="84.7" fill="#fb8c24"/><rect class="hb" x="468.2" y="84.7" fill="#ef7a0c"/><rect class="hb" x="474.2" y="84.7" fill="#d86b05"/><rect class="hb" x="480.2" y="84.7" fill="#af5504"/><rect class="hb" x="486.2" y="84.7" fill="#833e03"/><rect class="hb" x="492.2" y="84.7" fill="#5c2b02"/><rect class="hb" x="498.2" y="84.7" fill="#512602"/><rect class="hb" x="504.2" y="84.7" fill="#512602"/><rect class="hb" x="510.2" y="84.7" fill="#562802"/><rect class="hb" x="516.2" y="84.7" fill="#5a2a02"/><rect class="hb" x="522.2" y="84.7" fill="#5c2b02"/><rect class="hb" x="528.2" y="84.7" fill="#5d2b02"/><rect class="hb" x="534.2" y="84.7" fill="#5d2c02"/><rect class="hb" x="540.2" y="84.7" fill="#5e2c02"/><rect class="hb" x="546.2" y="84.7" fill="#5f2c02"/><rect class="hb" x="552.2" y="84.7" fill="#5f2d02"/><rect class="hb" x="558.2" y="84.7" fill="#602d02"/><rect class="hb" x="564.2" y="84.7" fill="#602d02"/><rect class="hb" x="570.2" y="84.7" fill="#642f02"/><rect class="hb" x="576.2" y="84.7" fill="#6b3203"/><rect class="hb" x="582.2" y="84.7" fill="#723503"/><rect class="hb" x="588.2" y="84.7" fill="#7c3a03"/><rect class="hb" x="594.2" y="84.7" fill="#884103"/><rect class="hb" x="600.2" y="84.7" fill="#944704"/><rect class="hb" x="606.2" y="84.7" fill="#a14e04"/><rect class="hb" x="612.2" y="84.7" fill="#ad5504"/><rect class="hb" x="618.2" y="84.7" fill="#ba5c04"/><rect class="hb" x="624.2" y="84.7" fill="#c66205"/><rect class="hb" x="630.2" y="84.7" fill="#cb6505"/><rect class="hb" x="636.2" y="84.7" fill="#cb6505"/><rect class="hb" x="642.2" y="84.7" fill="#cb6505"/><rect class="hb" x="396.2" y="90.7" fill="#feeedd"/><rect class="hb" x="402.2" y="90.7" fill="#feeedd"/><rect class="hb" x="408.2" y="90.7" fill="#fdeddb"/><rect class="hb" x="414.2" y="90.7" fill="#fde7d1"/><rect class="hb" x="420.2" y="90.7" fill="#fce1c5"/><rect class="hb" x="426.2" y="90.7" fill="#fcdab9"/><rect class="hb" x="432.2" y="90.7" fill="#fbd3ae"/><rect class="hb" x="438.2" y="90.7" fill="#facca1"/><rect class="hb" x="444.2" y="90.7" fill="#fac38f"/><rect class="hb" x="450.2" y="90.7" fill="#f9b87a"/><rect class="hb" x="456.2" y="90.7" fill="#f9a75c"/><rect class="hb" x="462.2" y="90.7" fill="#fb8b23"/><rect class="hb" x="468.2" y="90.7" fill="#ef7a0b"/><rect class="hb" x="474.2" y="90.7" fill="#d76b05"/><rect class="hb" x="480.2" y="90.7" fill="#ae5504"/><rect class="hb" x="486.2" y="90.7" fill="#813d03"/><rect class="hb" x="492.2" y="90.7" fill="#5b2b02"/><rect class="hb" x="498.2" y="90.7" fill="#502602"/><rect class="hb" x="504.2" y="90.7" fill="#502602"/><rect class="hb" x="510.2" y="90.7" fill="#552802"/><rect class="hb" x="516.2" y="90.7" fill="#592a02"/><rect class="hb" x="522.2" y="90.7" fill="#5b2b02"/><rect class="hb" x="528.2" y="90.7" fill="#5b2b02"/><rect class="hb" x="534.2" y="90.7" fill="#5c2b02"/><rect class="hb" x="540.2" y="90.7" fill="#5c2b02"/><rect class="hb" x="546.2" y="90.7" fill="#5d2c02"/><rect class="hb" x="552.2" y="90.7" fill="#5e2c02"/><rect class="hb" x="558.2" y="90.7" fill="#5f2d02"/><rect class="hb" x="564.2" y="90.7" fill="#5f2d02"/><rect class="hb" x="570.2" y="90.7" fill="#632f02"/><rect class="hb" x="576.2" y="90.7" fill="#6a3203"/><rect class="hb" x="582.2" y="90.7" fill="#713503"/><rect class="hb" x="588.2" y="90.7" fill="#7b3a03"/><rect class="hb" x="594.2" y="90.7" fill="#884003"/><rect class="hb" x="600.2" y="90.7" fill="#944704"/><rect class="hb" x="606.2" y="90.7" fill="#a04e04"/><rect class="hb" x="612.2" y="90.7" fill="#ad5504"/><rect class="hb" x="618.2" y="90.7" fill="#ba5b04"/><rect class="hb" x="624.2" y="90.7" fill="#c66205"/><rect class="hb" x="630.2" y="90.7" fill="#cb6505"/><rect class="hb" x="636.2" y="90.7" fill="#cb6505"/><rect class="hb" x="642.2" y="90.7" fill="#cb6505"/><rect class="hb" x="396.2" y="96.7" fill="#fdecd9"/><rect class="hb" x="402.2" y="96.7" fill="#fdecd9"/><rect class="hb" x="408.2" y="96.7" fill="#fdead6"/><rect class="hb" x="414.2" y="96.7" fill="#fde4cc"/><rect class="hb" x="420.2" y="96.7" fill="#fcdec1"/><rect class="hb" x="426.2" y="96.7" fill="#fcd8b6"/><rect class="hb" x="432.2" y="96.7" fill="#fbd2ac"/><rect class="hb" x="438.2" y="96.7" fill="#facb9f"/><rect class="hb" x="444.2" y="96.7" fill="#fac28e"/><rect class="hb" x="450.2" y="96.7" fill="#f9b77a"/><rect class="hb" x="456.2" y="96.7" fill="#f9a75c"/><rect class="hb" x="462.2" y="96.7" fill="#fb8b22"/><rect class="hb" x="468.2" y="96.7" fill="#ee790b"/><rect class="hb" x="474.2" y="96.7" fill="#d76b05"/><rect class="hb" x="480.2" y="96.7" fill="#ad5404"/><rect class="hb" x="486.2" y="96.7" fill="#7b3a03"/><rect class="hb" x="492.2" y="96.7" fill="#562902"/><rect class="hb" x="498.2" y="96.7" fill="#4c2302"/><rect class="hb" x="504.2" y="96.7" fill="#4b2302"/><rect class="hb" x="510.2" y="96.7" fill="#4f2502"/><rect class="hb" x="516.2" y="96.7" fill="#522702"/><rect class="hb" x="522.2" y="96.7" fill="#532702"/><rect class="hb" x="528.2" y="96.7" fill="#542702"/><rect class="hb" x="534.2" y="96.7" fill="#542702"/><rect class="hb" x="540.2" y="96.7" fill="#542802"/><rect class="hb" x="546.2" y="96.7" fill="#562802"/><rect class="hb" x="552.2" y="96.7" fill="#572902"/><rect class="hb" x="558.2" y="96.7" fill="#582902"/><rect class="hb" x="564.2" y="96.7" fill="#592a02"/><rect class="hb" x="570.2" y="96.7" fill="#5e2c02"/><rect class="hb" x="576.2" y="96.7" fill="#652f02"/><rect class="hb" x="582.2" y="96.7" fill="#6d3303"/><rect class="hb" x="588.2" y="96.7" fill="#773803"/><rect class="hb" x="594.2" y="96.7" fill="#843e03"/><rect class="hb" x="600.2" y="96.7" fill="#914503"/><rect class="hb" x="606.2" y="96.7" fill="#9e4d04"/><rect class="hb" x="612.2" y="96.7" fill="#ab5404"/><rect class="hb" x="618.2" y="96.7" fill="#b85b04"/><rect class="hb" x="624.2" y="96.7" fill="#c56105"/><rect class="hb" x="630.2" y="96.7" fill="#ca6405"/><rect class="hb" x="636.2" y="96.7" fill="#ca6405"/><rect class="hb" x="642.2" y="96.7" fill="#ca6405"/><rect class="hb" x="396.2" y="102.7" fill="#fdebd8"/><rect class="hb" x="402.2" y="102.7" fill="#fdebd8"/><rect class="hb" x="408.2" y="102.7" fill="#fdead5"/><rect class="hb" x="414.2" y="102.7" fill="#fde4cb"/><rect class="hb" x="420.2" y="102.7" fill="#fcddc0"/><rect class="hb" x="426.2" y="102.7" fill="#fbd7b5"/><rect class="hb" x="432.2" y="102.7" fill="#fbd1ab"/><rect class="hb" x="438.2" y="102.7" fill="#facb9f"/><rect class="hb" x="444.2" y="102.7" fill="#fac28d"/><rect class="hb" x="450.2" y="102.7" fill="#f9b779"/><rect class="hb" x="456.2" y="102.7" fill="#f9a65b"/><rect class="hb" x="462.2" y="102.7" fill="#fb8a21"/><rect class="hb" x="468.2" y="102.7" fill="#ee790b"/><rect class="hb" x="474.2" y="102.7" fill="#d66b05"/><rect class="hb" x="480.2" y="102.7" fill="#ac5404"/><rect class="hb" x="486.2" y="102.7" fill="#753703"/><rect class="hb" x="492.2" y="102.7" fill="#512602"/><rect class="hb" x="498.2" y="102.7" fill="#462002"/><rect class="hb" x="504.2" y="102.7" fill="#442002"/><rect class="hb" x="510.2" y="102.7" fill="#472102"/><rect class="hb" x="516.2" y="102.7" fill="#4a2302"/><rect class="hb" x="522.2" y="102.7" fill="#4b2302"/><rect class="hb" x="528.2" y="102.7" fill="#4b2302"/><rect class="hb" x="534.2" y="102.7" fill="#4b2302"/><rect class="hb" x="540.2" y="102.7" fill="#4b2302"/><rect class="hb" x="546.2" y="102.7" fill="#4d2402"/><rect class="hb" x="552.2" y="102.7" fill="#4e2502"/><rect class="hb" x="558.2" y="102.7" fill="#502502"/><rect class="hb" x="564.2" y="102.7" fill="#512602"/><rect class="hb" x="570.2" y="102.7" fill="#562902"/><rect class="hb" x="576.2" y="102.7" fill="#5f2d02"/><rect class="hb" x="582.2" y="102.7" fill="#683003"/><rect class="hb" x="588.2" y="102.7" fill="#733603"/><rect class="hb" x="594.2" y="102.7" fill="#7f3c03"/><rect class="hb" x="600.2" y="102.7" fill="#8d4303"/><rect class="hb" x="606.2" y="102.7" fill="#9b4b04"/><rect class="hb" x="612.2" y="102.7" fill="#a95204"/><rect class="hb" x="618.2" y="102.7" fill="#b75a04"/><rect class="hb" x="624.2" y="102.7" fill="#c46105"/><rect class="hb" x="630.2" y="102.7" fill="#c96405"/><rect class="hb" x="636.2" y="102.7" fill="#c96405"/><rect class="hb" x="642.2" y="102.7" fill="#c96405"/><rect class="hb" x="396.2" y="108.7" fill="#feeddc"/><rect class="hb" x="402.2" y="108.7" fill="#feeddc"/><rect class="hb" x="408.2" y="108.7" fill="#fdecd9"/><rect class="hb" x="414.2" y="108.7" fill="#fde6cf"/><rect class="hb" x="420.2" y="108.7" fill="#fcdfc3"/><rect class="hb" x="426.2" y="108.7" fill="#fcd9b8"/><rect class="hb" x="432.2" y="108.7" fill="#fbd3ad"/><rect class="hb" x="438.2" y="108.7" fill="#facca0"/><rect class="hb" x="444.2" y="108.7" fill="#fac28e"/><rect class="hb" x="450.2" y="108.7" fill="#f9b779"/><rect class="hb" x="456.2" y="108.7" fill="#f9a65a"/><rect class="hb" x="462.2" y="108.7" fill="#fb8a20"/><rect class="hb" x="468.2" y="108.7" fill="#ed790b"/><rect class="hb" x="474.2" y="108.7" fill="#d56a05"/><rect class="hb" x="480.2" y="108.7" fill="#ab5304"/><rect class="hb" x="486.2" y="108.7" fill="#6f3403"/><rect class="hb" x="492.2" y="108.7" fill="#4a2302"/><rect class="hb" x="498.2" y="108.7" fill="#3f1d01"/><rect class="hb" x="504.2" y="108.7" fill="#3c1c01"/><rect class="hb" x="510.2" y="108.7" fill="#3f1d01"/><rect class="hb" x="516.2" y="108.7" fill="#411e01"/><rect class="hb" x="522.2" y="108.7" fill="#401e01"/><rect class="hb" x="528.2" y="108.7" fill="#401d01"/><rect class="hb" x="534.2" y="108.7" fill="#401d01"/><rect class="hb" x="540.2" y="108.7" fill="#401e01"/><rect class="hb" x="546.2" y="108.7" fill="#421e02"/><rect class="hb" x="552.2" y="108.7" fill="#441f02"/><rect class="hb" x="558.2" y="108.7" fill="#462102"/><rect class="hb" x="564.2" y="108.7" fill="#492202"/><rect class="hb" x="570.2" y="108.7" fill="#4e2502"/><rect class="hb" x="576.2" y="108.7" fill="#572902"/><rect class="hb" x="582.2" y="108.7" fill="#612e02"/><rect class="hb" x="588.2" y="108.7" fill="#6d3303"/><rect class="hb" x="594.2" y="108.7" fill="#7a3903"/><rect class="hb" x="600.2" y="108.7" fill="#894103"/><rect class="hb" x="606.2" y="108.7" fill="#984904"/><rect class="hb" x="612.2" y="108.7" fill="#a65104"/><rect class="hb" x="618.2" y="108.7" fill="#b55904"/><rect class="hb" x="624.2" y="108.7" fill="#c26005"/><rect class="hb" x="630.2" y="108.7" fill="#c86305"/><rect class="hb" x="636.2" y="108.7" fill="#c86305"/><rect class="hb" x="642.2" y="108.7" fill="#c86305"/><rect class="hb" x="396.2" y="114.7" fill="#fef1e2"/><rect class="hb" x="402.2" y="114.7" fill="#fef1e2"/><rect class="hb" x="408.2" y="114.7" fill="#feefe0"/><rect class="hb" x="414.2" y="114.7" fill="#fdebd7"/><rect class="hb" x="420.2" y="114.7" fill="#fde4cb"/><rect class="hb" x="426.2" y="114.7" fill="#fcdcbe"/><rect class="hb" x="432.2" y="114.7" fill="#fbd5b1"/><rect class="hb" x="438.2" y="114.7" fill="#fbcda3"/><rect class="hb" x="444.2" y="114.7" fill="#fac38f"/><rect class="hb" x="450.2" y="114.7" fill="#f9b779"/><rect class="hb" x="456.2" y="114.7" fill="#f9a65a"/><rect class="hb" x="462.2" y="114.7" fill="#fb8a1f"/><rect class="hb" x="468.2" y="114.7" fill="#ec780b"/><rect class="hb" x="474.2" y="114.7" fill="#d46a05"/><rect class="hb" x="480.2" y="114.7" fill="#aa5304"/><rect class="hb" x="486.2" y="114.7" fill="#6b3203"/><rect class="hb" x="492.2" y="114.7" fill="#462102"/><rect class="hb" x="498.2" y="114.7" fill="#3b1b01"/><rect class="hb" x="504.2" y="114.7" fill="#381901"/><rect class="hb" x="510.2" y="114.7" fill="#391a01"/><rect class="hb" x="516.2" y="114.7" fill="#3b1b01"/><rect class="hb" x="522.2" y="114.7" fill="#3a1b01"/><rect class="hb" x="528.2" y="114.7" fill="#3a1a01"/><rect class="hb" x="534.2" y="114.7" fill="#391a01"/><rect class="hb" x="540.2" y="114.7" fill="#3a1a01"/><rect class="hb" x="546.2" y="114.7" fill="#3b1b01"/><rect class="hb" x="552.2" y="114.7" fill="#3e1c01"/><rect class="hb" x="558.2" y="114.7" fill="#401e01"/><rect class="hb" x="564.2" y="114.7" fill="#431f02"/><rect class="hb" x="570.2" y="114.7" fill="#4a2202"/><rect class="hb" x="576.2" y="114.7" fill="#532702"/><rect class="hb" x="582.2" y="114.7" fill="#5d2c02"/><rect class="hb" x="588.2" y="114.7" fill="#6a3203"/><rect class="hb" x="594.2" y="114.7" fill="#773703"/><rect class="hb" x="600.2" y="114.7" fill="#864003"/><rect class="hb" x="606.2" y="114.7" fill="#964804"/><rect class="hb" x="612.2" y="114.7" fill="#a55004"/><rect class="hb" x="618.2" y="114.7" fill="#b45804"/><rect class="hb" x="624.2" y="114.7" fill="#c16005"/><rect class="hb" x="630.2" y="114.7" fill="#c76305"/><rect class="hb" x="636.2" y="114.7" fill="#c76305"/><rect class="hb" x="642.2" y="114.7" fill="#c76305"/><rect class="hb" x="396.2" y="120.7" fill="#fef4ea"/><rect class="hb" x="402.2" y="120.7" fill="#fef4ea"/><rect class="hb" x="408.2" y="120.7" fill="#fef4e8"/><rect class="hb" x="414.2" y="120.7" fill="#feefe0"/><rect class="hb" x="420.2" y="120.7" fill="#fde9d3"/><rect class="hb" x="426.2" y="120.7" fill="#fce0c4"/><rect class="hb" x="432.2" y="120.7" fill="#fbd7b5"/><rect class="hb" x="438.2" y="120.7" fill="#fbcfa5"/><rect class="hb" x="444.2" y="120.7" fill="#fac390"/><rect class="hb" x="450.2" y="120.7" fill="#f9b779"/><rect class="hb" x="456.2" y="120.7" fill="#f9a559"/><rect class="hb" x="462.2" y="120.7" fill="#fb891f"/><rect class="hb" x="468.2" y="120.7" fill="#ec780b"/><rect class="hb" x="474.2" y="120.7" fill="#d46905"/><rect class="hb" x="480.2" y="120.7" fill="#a95304"/><rect class="hb" x="486.2" y="120.7" fill="#6d3303"/><rect class="hb" x="492.2" y="120.7" fill="#492202"/><rect class="hb" x="498.2" y="120.7" fill="#3e1d01"/><rect class="hb" x="504.2" y="120.7" fill="#3c1b01"/><rect class="hb" x="510.2" y="120.7" fill="#3e1c01"/><rect class="hb" x="516.2" y="120.7" fill="#401d01"/><rect class="hb" x="522.2" y="120.7" fill="#3f1d01"/><rect class="hb" x="528.2" y="120.7" fill="#3f1d01"/><rect class="hb" x="534.2" y="120.7" fill="#3e1d01"/><rect class="hb" x="540.2" y="120.7" fill="#3f1d01"/><rect class="hb" x="546.2" y="120.7" fill="#411e01"/><rect class="hb" x="552.2" y="120.7" fill="#431f02"/><rect class="hb" x="558.2" y="120.7" fill="#452002"/><rect class="hb" x="564.2" y="120.7" fill="#482102"/><rect class="hb" x="570.2" y="120.7" fill="#4e2402"/><rect class="hb" x="576.2" y="120.7" fill="#572902"/><rect class="hb" x="582.2" y="120.7" fill="#612d02"/><rect class="hb" x="588.2" y="120.7" fill="#6d3303"/><rect class="hb" x="594.2" y="120.7" fill="#793903"/><rect class="hb" x="600.2" y="120.7" fill="#884103"/><rect class="hb" x="606.2" y="120.7" fill="#974904"/><rect class="hb" x="612.2" y="120.7" fill="#a65104"/><rect class="hb" x="618.2" y="120.7" fill="#b55904"/><rect class="hb" x="624.2" y="120.7" fill="#c26005"/><rect class="hb" x="630.2" y="120.7" fill="#c86305"/><rect class="hb" x="636.2" y="120.7" fill="#c86305"/><rect class="hb" x="642.2" y="120.7" fill="#c86305"/><rect class="hb" x="396.2" y="126.7" fill="#fef6ed"/><rect class="hb" x="402.2" y="126.7" fill="#fef6ed"/><rect class="hb" x="408.2" y="126.7" fill="#fef5ec"/><rect class="hb" x="414.2" y="126.7" fill="#fef1e4"/><rect class="hb" x="420.2" y="126.7" fill="#fdebd7"/><rect class="hb" x="426.2" y="126.7" fill="#fce2c7"/><rect class="hb" x="432.2" y="126.7" fill="#fcd8b7"/><rect class="hb" x="438.2" y="126.7" fill="#fbcfa7"/><rect class="hb" x="444.2" y="126.7" fill="#fac390"/><rect class="hb" x="450.2" y="126.7" fill="#f9b779"/><rect class="hb" x="456.2" y="126.7" fill="#f9a559"/><rect class="hb" x="462.2" y="126.7" fill="#fb891e"/><rect class="hb" x="468.2" y="126.7" fill="#eb780b"/><rect class="hb" x="474.2" y="126.7" fill="#d36905"/><rect class="hb" x="480.2" y="126.7" fill="#a85204"/><rect class="hb" x="486.2" y="126.7" fill="#723503"/><rect class="hb" x="492.2" y="126.7" fill="#4e2502"/><rect class="hb" x="498.2" y="126.7" fill="#452002"/><rect class="hb" x="504.2" y="126.7" fill="#431f02"/><rect class="hb" x="510.2" y="126.7" fill="#472102"/><rect class="hb" x="516.2" y="126.7" fill="#492202"/><rect class="hb" x="522.2" y="126.7" fill="#4a2202"/><rect class="hb" x="528.2" y="126.7" fill="#4a2202"/><rect class="hb" x="534.2" y="126.7" fill="#4a2202"/><rect class="hb" x="540.2" y="126.7" fill="#4a2302"/><rect class="hb" x="546.2" y="126.7" fill="#4c2302"/><rect class="hb" x="552.2" y="126.7" fill="#4d2402"/><rect class="hb" x="558.2" y="126.7" fill="#4f2502"/><rect class="hb" x="564.2" y="126.7" fill="#512602"/><rect class="hb" x="570.2" y="126.7" fill="#562802"/><rect class="hb" x="576.2" y="126.7" fill="#5e2c02"/><rect class="hb" x="582.2" y="126.7" fill="#673003"/><rect class="hb" x="588.2" y="126.7" fill="#723503"/><rect class="hb" x="594.2" y="126.7" fill="#7f3c03"/><rect class="hb" x="600.2" y="126.7" fill="#8d4303"/><rect class="hb" x="606.2" y="126.7" fill="#9b4b04"/><rect class="hb" x="612.2" y="126.7" fill="#a95204"/><rect class="hb" x="618.2" y="126.7" fill="#b75a04"/><rect class="hb" x="624.2" y="126.7" fill="#c46105"/><rect class="hb" x="630.2" y="126.7" fill="#c96405"/><rect class="hb" x="636.2" y="126.7" fill="#c96405"/><rect class="hb" x="642.2" y="126.7" fill="#c96405"/><rect class="hb" x="396.2" y="132.7" fill="#fef4ea"/><rect class="hb" x="402.2" y="132.7" fill="#fef4ea"/><rect class="hb" x="408.2" y="132.7" fill="#fef4e8"/><rect class="hb" x="414.2" y="132.7" fill="#feefe0"/><rect class="hb" x="420.2" y="132.7" fill="#fde9d4"/><rect class="hb" x="426.2" y="132.7" fill="#fce0c4"/><rect class="hb" x="432.2" y="132.7" fill="#fbd7b5"/><rect class="hb" x="438.2" y="132.7" fill="#fbcea5"/><rect class="hb" x="444.2" y="132.7" fill="#fac38f"/><rect class="hb" x="450.2" y="132.7" fill="#f9b778"/><rect class="hb" x="456.2" y="132.7" fill="#f9a558"/><rect class="hb" x="462.2" y="132.7" fill="#fb891d"/><rect class="hb" x="468.2" y="132.7" fill="#eb770a"/><rect class="hb" x="474.2" y="132.7" fill="#d26805"/><rect class="hb" x="480.2" y="132.7" fill="#a75204"/><rect class="hb" x="486.2" y="132.7" fill="#753703"/><rect class="hb" x="492.2" y="132.7" fill="#532702"/><rect class="hb" x="498.2" y="132.7" fill="#4b2302"/><rect class="hb" x="504.2" y="132.7" fill="#4a2302"/><rect class="hb" x="510.2" y="132.7" fill="#4e2502"/><rect class="hb" x="516.2" y="132.7" fill="#522602"/><rect class="hb" x="522.2" y="132.7" fill="#532702"/><rect class="hb" x="528.2" y="132.7" fill="#532702"/><rect class="hb" x="534.2" y="132.7" fill="#532702"/><rect class="hb" x="540.2" y="132.7" fill="#542702"/><rect class="hb" x="546.2" y="132.7" fill="#552802"/><rect class="hb" x="552.2" y="132.7" fill="#562902"/><rect class="hb" x="558.2" y="132.7" fill="#572902"/><rect class="hb" x="564.2" y="132.7" fill="#592a02"/><rect class="hb" x="570.2" y="132.7" fill="#5d2c02"/><rect class="hb" x="576.2" y="132.7" fill="#652f02"/><rect class="hb" x="582.2" y="132.7" fill="#6d3303"/><rect class="hb" x="588.2" y="132.7" fill="#773703"/><rect class="hb" x="594.2" y="132.7" fill="#843e03"/><rect class="hb" x="600.2" y="132.7" fill="#914503"/><rect class="hb" x="606.2" y="132.7" fill="#9e4c04"/><rect class="hb" x="612.2" y="132.7" fill="#ab5404"/><rect class="hb" x="618.2" y="132.7" fill="#b85b04"/><rect class="hb" x="624.2" y="132.7" fill="#c56105"/><rect class="hb" x="630.2" y="132.7" fill="#ca6405"/><rect class="hb" x="636.2" y="132.7" fill="#ca6405"/><rect class="hb" x="642.2" y="132.7" fill="#ca6405"/><rect class="hb" x="396.2" y="138.7" fill="#fef0e2"/><rect class="hb" x="402.2" y="138.7" fill="#fef0e2"/><rect class="hb" x="408.2" y="138.7" fill="#feefe0"/><rect class="hb" x="414.2" y="138.7" fill="#fdead6"/><rect class="hb" x="420.2" y="138.7" fill="#fde4cb"/><rect class="hb" x="426.2" y="138.7" fill="#fcdcbd"/><rect class="hb" x="432.2" y="138.7" fill="#fbd5b0"/><rect class="hb" x="438.2" y="138.7" fill="#fbcda2"/><rect class="hb" x="444.2" y="138.7" fill="#fac28e"/><rect class="hb" x="450.2" y="138.7" fill="#f9b677"/><rect class="hb" x="456.2" y="138.7" fill="#f9a457"/><rect class="hb" x="462.2" y="138.7" fill="#fb881c"/><rect class="hb" x="468.2" y="138.7" fill="#ea770a"/><rect class="hb" x="474.2" y="138.7" fill="#d16805"/><rect class="hb" x="480.2" y="138.7" fill="#a65104"/><rect class="hb" x="486.2" y="138.7" fill="#7a3903"/><rect class="hb" x="492.2" y="138.7" fill="#582902"/><rect class="hb" x="498.2" y="138.7" fill="#512602"/><rect class="hb" x="504.2" y="138.7" fill="#512602"/><rect class="hb" x="510.2" y="138.7" fill="#562802"/><rect class="hb" x="516.2" y="138.7" fill="#5b2b02"/><rect class="hb" x="522.2" y="138.7" fill="#5c2b02"/><rect class="hb" x="528.2" y="138.7" fill="#5d2c02"/><rect class="hb" x="534.2" y="138.7" fill="#5d2c02"/><rect class="hb" x="540.2" y="138.7" fill="#5e2c02"/><rect class="hb" x="546.2" y="138.7" fill="#5f2d02"/><rect class="hb" x="552.2" y="138.7" fill="#602d02"/><rect class="hb" x="558.2" y="138.7" fill="#602d02"/><rect class="hb" x="564.2" y="138.7" fill="#612d02"/><rect class="hb" x="570.2" y="138.7" fill="#642f02"/><rect class="hb" x="576.2" y="138.7" fill="#6b3203"/><rect class="hb" x="582.2" y="138.7" fill="#723503"/><rect class="hb" x="588.2" y="138.7" fill="#7c3a03"/><rect class="hb" x="594.2" y="138.7" fill="#884103"/><rect class="hb" x="600.2" y="138.7" fill="#944704"/><rect class="hb" x="606.2" y="138.7" fill="#a14e04"/><rect class="hb" x="612.2" y="138.7" fill="#ad5504"/><rect class="hb" x="618.2" y="138.7" fill="#ba5c04"/><rect class="hb" x="624.2" y="138.7" fill="#c66205"/><rect class="hb" x="630.2" y="138.7" fill="#cb6505"/><rect class="hb" x="636.2" y="138.7" fill="#cb6505"/><rect class="hb" x="642.2" y="138.7" fill="#cb6505"/><rect class="hb" x="396.2" y="144.7" fill="#fdecda"/><rect class="hb" x="402.2" y="144.7" fill="#fdecda"/><rect class="hb" x="408.2" y="144.7" fill="#fdead7"/><rect class="hb" x="414.2" y="144.7" fill="#fde5cd"/><rect class="hb" x="420.2" y="144.7" fill="#fcdec2"/><rect class="hb" x="426.2" y="144.7" fill="#fcd8b6"/><rect class="hb" x="432.2" y="144.7" fill="#fbd2ac"/><rect class="hb" x="438.2" y="144.7" fill="#facb9e"/><rect class="hb" x="444.2" y="144.7" fill="#f9c18c"/><rect class="hb" x="450.2" y="144.7" fill="#f9b576"/><rect class="hb" x="456.2" y="144.7" fill="#f9a456"/><rect class="hb" x="462.2" y="144.7" fill="#fb881c"/><rect class="hb" x="468.2" y="144.7" fill="#ea770a"/><rect class="hb" x="474.2" y="144.7" fill="#d06705"/><rect class="hb" x="480.2" y="144.7" fill="#a65104"/><rect class="hb" x="486.2" y="144.7" fill="#7b3a03"/><rect class="hb" x="492.2" y="144.7" fill="#5a2a02"/><rect class="hb" x="498.2" y="144.7" fill="#542702"/><rect class="hb" x="504.2" y="144.7" fill="#542802"/><rect class="hb" x="510.2" y="144.7" fill="#5a2a02"/><rect class="hb" x="516.2" y="144.7" fill="#5e2c02"/><rect class="hb" x="522.2" y="144.7" fill="#612d02"/><rect class="hb" x="528.2" y="144.7" fill="#622e02"/><rect class="hb" x="534.2" y="144.7" fill="#622e02"/><rect class="hb" x="540.2" y="144.7" fill="#632e02"/><rect class="hb" x="546.2" y="144.7" fill="#642f02"/><rect class="hb" x="552.2" y="144.7" fill="#642f02"/><rect class="hb" x="558.2" y="144.7" fill="#642f02"/><rect class="hb" x="564.2" y="144.7" fill="#642f02"/><rect class="hb" x="570.2" y="144.7" fill="#683103"/><rect class="hb" x="576.2" y="144.7" fill="#6e3303"/><rect class="hb" x="582.2" y="144.7" fill="#743603"/><rect class="hb" x="588.2" y="144.7" fill="#7f3c03"/><rect class="hb" x="594.2" y="144.7" fill="#8a4203"/><rect class="hb" x="600.2" y="144.7" fill="#964804"/><rect class="hb" x="606.2" y="144.7" fill="#a24f04"/><rect class="hb" x="612.2" y="144.7" fill="#ae5504"/><rect class="hb" x="618.2" y="144.7" fill="#bb5c04"/><rect class="hb" x="624.2" y="144.7" fill="#c76205"/><rect class="hb" x="630.2" y="144.7" fill="#cc6505"/><rect class="hb" x="636.2" y="144.7" fill="#cc6505"/><rect class="hb" x="642.2" y="144.7" fill="#cc6505"/><rect class="hb" x="396.2" y="150.7" fill="#fde9d4"/><rect class="hb" x="402.2" y="150.7" fill="#fde9d4"/><rect class="hb" x="408.2" y="150.7" fill="#fde7d1"/><rect class="hb" x="414.2" y="150.7" fill="#fce1c6"/><rect class="hb" x="420.2" y="150.7" fill="#fcdbbb"/><rect class="hb" x="426.2" y="150.7" fill="#fbd5b1"/><rect class="hb" x="432.2" y="150.7" fill="#fbd0a7"/><rect class="hb" x="438.2" y="150.7" fill="#fac99b"/><rect class="hb" x="444.2" y="150.7" fill="#f9c08b"/><rect class="hb" x="450.2" y="150.7" fill="#f9b575"/><rect class="hb" x="456.2" y="150.7" fill="#f9a355"/><rect class="hb" x="462.2" y="150.7" fill="#fb881b"/><rect class="hb" x="468.2" y="150.7" fill="#e9760a"/><rect class="hb" x="474.2" y="150.7" fill="#d06705"/><rect class="hb" x="480.2" y="150.7" fill="#a55004"/><rect class="hb" x="486.2" y="150.7" fill="#773703"/><rect class="hb" x="492.2" y="150.7" fill="#562802"/><rect class="hb" x="498.2" y="150.7" fill="#502502"/><rect class="hb" x="504.2" y="150.7" fill="#502502"/><rect class="hb" x="510.2" y="150.7" fill="#542802"/><rect class="hb" x="516.2" y="150.7" fill="#592a02"/><rect class="hb" x="522.2" y="150.7" fill="#5a2a02"/><rect class="hb" x="528.2" y="150.7" fill="#5b2b02"/><rect class="hb" x="534.2" y="150.7" fill="#5b2b02"/><rect class="hb" x="540.2" y="150.7" fill="#5c2b02"/><rect class="hb" x="546.2" y="150.7" fill="#5d2c02"/><rect class="hb" x="552.2" y="150.7" fill="#5e2c02"/><rect class="hb" x="558.2" y="150.7" fill="#5e2c02"/><rect class="hb" x="564.2" y="150.7" fill="#5f2d02"/><rect class="hb" x="570.2" y="150.7" fill="#632e02"/><rect class="hb" x="576.2" y="150.7" fill="#6a3103"/><rect class="hb" x="582.2" y="150.7" fill="#713503"/><rect class="hb" x="588.2" y="150.7" fill="#7b3a03"/><rect class="hb" x="594.2" y="150.7" fill="#874003"/><rect class="hb" x="600.2" y="150.7" fill="#944704"/><rect class="hb" x="606.2" y="150.7" fill="#a04e04"/><rect class="hb" x="612.2" y="150.7" fill="#ad5404"/><rect class="hb" x="618.2" y="150.7" fill="#ba5b04"/><rect class="hb" x="624.2" y="150.7" fill="#c66205"/><rect class="hb" x="630.2" y="150.7" fill="#cb6505"/><rect class="hb" x="636.2" y="150.7" fill="#cb6505"/><rect class="hb" x="642.2" y="150.7" fill="#cb6505"/><rect class="hb" x="396.2" y="156.7" fill="#fde8d3"/><rect class="hb" x="402.2" y="156.7" fill="#fde8d3"/><rect class="hb" x="408.2" y="156.7" fill="#fde6cf"/><rect class="hb" x="414.2" y="156.7" fill="#fce0c4"/><rect class="hb" x="420.2" y="156.7" fill="#fcdaba"/><rect class="hb" x="426.2" y="156.7" fill="#fbd4b0"/><rect class="hb" x="432.2" y="156.7" fill="#fbcfa6"/><rect class="hb" x="438.2" y="156.7" fill="#fac99a"/><rect class="hb" x="444.2" y="156.7" fill="#f9c08a"/><rect class="hb" x="450.2" y="156.7" fill="#f9b474"/><rect class="hb" x="456.2" y="156.7" fill="#f9a355"/><rect class="hb" x="462.2" y="156.7" fill="#fb871a"/><rect class="hb" x="468.2" y="156.7" fill="#e9760a"/><rect class="hb" x="474.2" y="156.7" fill="#cf6705"/><rect class="hb" x="480.2" y="156.7" fill="#a45004"/><rect class="hb" x="486.2" y="156.7" fill="#713503"/><rect class="hb" x="492.2" y="156.7" fill="#512602"/><rect class="hb" x="498.2" y="156.7" fill="#4a2202"/><rect class="hb" x="504.2" y="156.7" fill="#492202"/><rect class="hb" x="510.2" y="156.7" fill="#4d2402"/><rect class="hb" x="516.2" y="156.7" fill="#502502"/><rect class="hb" x="522.2" y="156.7" fill="#512602"/><rect class="hb" x="528.2" y="156.7" fill="#512602"/><rect class="hb" x="534.2" y="156.7" fill="#512602"/><rect class="hb" x="540.2" y="156.7" fill="#522602"/><rect class="hb" x="546.2" y="156.7" fill="#532702"/><rect class="hb" x="552.2" y="156.7" fill="#542802"/><rect class="hb" x="558.2" y="156.7" fill="#552802"/><rect class="hb" x="564.2" y="156.7" fill="#572902"/><rect class="hb" x="570.2" y="156.7" fill="#5b2b02"/><rect class="hb" x="576.2" y="156.7" fill="#632f02"/><rect class="hb" x="582.2" y="156.7" fill="#6b3203"/><rect class="hb" x="588.2" y="156.7" fill="#763703"/><rect class="hb" x="594.2" y="156.7" fill="#823e03"/><rect class="hb" x="600.2" y="156.7" fill="#904503"/><rect class="hb" x="606.2" y="156.7" fill="#9d4c04"/><rect class="hb" x="612.2" y="156.7" fill="#aa5304"/><rect class="hb" x="618.2" y="156.7" fill="#b85a04"/><rect class="hb" x="624.2" y="156.7" fill="#c56105"/><rect class="hb" x="630.2" y="156.7" fill="#ca6405"/><rect class="hb" x="636.2" y="156.7" fill="#ca6405"/><rect class="hb" x="642.2" y="156.7" fill="#ca6405"/><rect class="hb" x="396.2" y="162.7" fill="#fde9d5"/><rect class="hb" x="402.2" y="162.7" fill="#fde9d5"/><rect class="hb" x="408.2" y="162.7" fill="#fde8d1"/><rect class="hb" x="414.2" y="162.7" fill="#fce1c7"/><rect class="hb" x="420.2" y="162.7" fill="#fcdbbc"/><rect class="hb" x="426.2" y="162.7" fill="#fbd5b2"/><rect class="hb" x="432.2" y="162.7" fill="#fbd0a8"/><rect class="hb" x="438.2" y="162.7" fill="#fac99b"/><rect class="hb" x="444.2" y="162.7" fill="#f9c08a"/><rect class="hb" x="450.2" y="162.7" fill="#f9b474"/><rect class="hb" x="456.2" y="162.7" fill="#f9a254"/><rect class="hb" x="462.2" y="162.7" fill="#fc8719"/><rect class="hb" x="468.2" y="162.7" fill="#e8760a"/><rect class="hb" x="474.2" y="162.7" fill="#ce6605"/><rect class="hb" x="480.2" y="162.7" fill="#a34f04"/><rect class="hb" x="486.2" y="162.7" fill="#6b3203"/><rect class="hb" x="492.2" y="162.7" fill="#4b2302"/><rect class="hb" x="498.2" y="162.7" fill="#431f02"/><rect class="hb" x="504.2" y="162.7" fill="#421e02"/><rect class="hb" x="510.2" y="162.7" fill="#442002"/><rect class="hb" x="516.2" y="162.7" fill="#472102"/><rect class="hb" x="522.2" y="162.7" fill="#472102"/><rect class="hb" x="528.2" y="162.7" fill="#472102"/><rect class="hb" x="534.2" y="162.7" fill="#472102"/><rect class="hb" x="540.2" y="162.7" fill="#482102"/><rect class="hb" x="546.2" y="162.7" fill="#492202"/><rect class="hb" x="552.2" y="162.7" fill="#4b2302"/><rect class="hb" x="558.2" y="162.7" fill="#4d2402"/><rect class="hb" x="564.2" y="162.7" fill="#4e2502"/><rect class="hb" x="570.2" y="162.7" fill="#542702"/><rect class="hb" x="576.2" y="162.7" fill="#5c2b02"/><rect class="hb" x="582.2" y="162.7" fill="#653002"/><rect class="hb" x="588.2" y="162.7" fill="#713503"/><rect class="hb" x="594.2" y="162.7" fill="#7d3b03"/><rect class="hb" x="600.2" y="162.7" fill="#8c4303"/><rect class="hb" x="606.2" y="162.7" fill="#9a4a04"/><rect class="hb" x="612.2" y="162.7" fill="#a85204"/><rect class="hb" x="618.2" y="162.7" fill="#b65904"/><rect class="hb" x="624.2" y="162.7" fill="#c36105"/><rect class="hb" x="630.2" y="162.7" fill="#c96305"/><rect class="hb" x="636.2" y="162.7" fill="#c96305"/><rect class="hb" x="642.2" y="162.7" fill="#c96305"/><rect class="hb" x="396.2" y="168.7" fill="#fdecda"/><rect class="hb" x="402.2" y="168.7" fill="#fdecda"/><rect class="hb" x="408.2" y="168.7" fill="#fdebd7"/><rect class="hb" x="414.2" y="168.7" fill="#fde5ce"/><rect class="hb" x="420.2" y="168.7" fill="#fcdfc3"/><rect class="hb" x="426.2" y="168.7" fill="#fcd8b7"/><rect class="hb" x="432.2" y="168.7" fill="#fbd2ac"/><rect class="hb" x="438.2" y="168.7" fill="#faca9d"/><rect class="hb" x="444.2" y="168.7" fill="#f9c18b"/><rect class="hb" x="450.2" y="168.7" fill="#f9b474"/><rect class="hb" x="456.2" y="168.7" fill="#f9a254"/><rect class="hb" x="462.2" y="168.7" fill="#fc8619"/><rect class="hb" x="468.2" y="168.7" fill="#e8750a"/><rect class="hb" x="474.2" y="168.7" fill="#cd6605"/><rect class="hb" x="480.2" y="168.7" fill="#a24f04"/><rect class="hb" x="486.2" y="168.7" fill="#652f02"/><rect class="hb" x="492.2" y="168.7" fill="#452002"/><rect class="hb" x="498.2" y="168.7" fill="#3d1c01"/><rect class="hb" x="504.2" y="168.7" fill="#3a1a01"/><rect class="hb" x="510.2" y="168.7" fill="#3c1b01"/><rect class="hb" x="516.2" y="168.7" fill="#3e1c01"/><rect class="hb" x="522.2" y="168.7" fill="#3d1c01"/><rect class="hb" x="528.2" y="168.7" fill="#3d1c01"/><rect class="hb" x="534.2" y="168.7" fill="#3c1c01"/><rect class="hb" x="540.2" y="168.7" fill="#3d1c01"/><rect class="hb" x="546.2" y="168.7" fill="#3f1d01"/><rect class="hb" x="552.2" y="168.7" fill="#411e01"/><rect class="hb" x="558.2" y="168.7" fill="#431f02"/><rect class="hb" x="564.2" y="168.7" fill="#462002"/><rect class="hb" x="570.2" y="168.7" fill="#4c2402"/><rect class="hb" x="576.2" y="168.7" fill="#552802"/><rect class="hb" x="582.2" y="168.7" fill="#5f2d02"/><rect class="hb" x="588.2" y="168.7" fill="#6c3203"/><rect class="hb" x="594.2" y="168.7" fill="#783803"/><rect class="hb" x="600.2" y="168.7" fill="#884003"/><rect class="hb" x="606.2" y="168.7" fill="#974904"/><rect class="hb" x="612.2" y="168.7" fill="#a65104"/><rect class="hb" x="618.2" y="168.7" fill="#b45804"/><rect class="hb" x="624.2" y="168.7" fill="#c26005"/><rect class="hb" x="630.2" y="168.7" fill="#c86305"/><rect class="hb" x="636.2" y="168.7" fill="#c86305"/><rect class="hb" x="642.2" y="168.7" fill="#c86305"/><rect class="hb" x="396.2" y="174.7" fill="#feefe0"/><rect class="hb" x="402.2" y="174.7" fill="#feefe0"/><rect class="hb" x="408.2" y="174.7" fill="#feeede"/><rect class="hb" x="414.2" y="174.7" fill="#fde9d5"/><rect class="hb" x="420.2" y="174.7" fill="#fde3c9"/><rect class="hb" x="426.2" y="174.7" fill="#fcdbbc"/><rect class="hb" x="432.2" y="174.7" fill="#fbd4af"/><rect class="hb" x="438.2" y="174.7" fill="#facb9f"/><rect class="hb" x="444.2" y="174.7" fill="#f9c18c"/><rect class="hb" x="450.2" y="174.7" fill="#f9b474"/><rect class="hb" x="456.2" y="174.7" fill="#f9a253"/><rect class="hb" x="462.2" y="174.7" fill="#fc8618"/><rect class="hb" x="468.2" y="174.7" fill="#e77509"/><rect class="hb" x="474.2" y="174.7" fill="#cc6505"/><rect class="hb" x="480.2" y="174.7" fill="#a14e04"/><rect class="hb" x="486.2" y="174.7" fill="#632e02"/><rect class="hb" x="492.2" y="174.7" fill="#441f02"/><rect class="hb" x="498.2" y="174.7" fill="#3b1b01"/><rect class="hb" x="504.2" y="174.7" fill="#381a01"/><rect class="hb" x="510.2" y="174.7" fill="#3a1a01"/><rect class="hb" x="516.2" y="174.7" fill="#3b1b01"/><rect class="hb" x="522.2" y="174.7" fill="#3b1b01"/><rect class="hb" x="528.2" y="174.7" fill="#3a1b01"/><rect class="hb" x="534.2" y="174.7" fill="#3a1a01"/><rect class="hb" x="540.2" y="174.7" fill="#3a1b01"/><rect class="hb" x="546.2" y="174.7" fill="#3c1c01"/><rect class="hb" x="552.2" y="174.7" fill="#3e1d01"/><rect class="hb" x="558.2" y="174.7" fill="#411e01"/><rect class="hb" x="564.2" y="174.7" fill="#441f02"/><rect class="hb" x="570.2" y="174.7" fill="#4a2302"/><rect class="hb" x="576.2" y="174.7" fill="#542702"/><rect class="hb" x="582.2" y="174.7" fill="#5e2c02"/><rect class="hb" x="588.2" y="174.7" fill="#6a3203"/><rect class="hb" x="594.2" y="174.7" fill="#773803"/><rect class="hb" x="600.2" y="174.7" fill="#864003"/><rect class="hb" x="606.2" y="174.7" fill="#964804"/><rect class="hb" x="612.2" y="174.7" fill="#a55004"/><rect class="hb" x="618.2" y="174.7" fill="#b45804"/><rect class="hb" x="624.2" y="174.7" fill="#c26005"/><rect class="hb" x="630.2" y="174.7" fill="#c76305"/><rect class="hb" x="636.2" y="174.7" fill="#c76305"/><rect class="hb" x="642.2" y="174.7" fill="#c76305"/><rect class="hb" x="396.2" y="180.7" fill="#fef0e1"/><rect class="hb" x="402.2" y="180.7" fill="#fef0e1"/><rect class="hb" x="408.2" y="180.7" fill="#feefdf"/><rect class="hb" x="414.2" y="180.7" fill="#fdead6"/><rect class="hb" x="420.2" y="180.7" fill="#fde4cb"/><rect class="hb" x="426.2" y="180.7" fill="#fcdcbd"/><rect class="hb" x="432.2" y="180.7" fill="#fbd4b0"/><rect class="hb" x="438.2" y="180.7" fill="#facca0"/><rect class="hb" x="444.2" y="180.7" fill="#f9c18c"/><rect class="hb" x="450.2" y="180.7" fill="#f9b474"/><rect class="hb" x="456.2" y="180.7" fill="#f9a152"/><rect class="hb" x="462.2" y="180.7" fill="#fc8617"/><rect class="hb" x="468.2" y="180.7" fill="#e77509"/><rect class="hb" x="474.2" y="180.7" fill="#cc6505"/><rect class="hb" x="480.2" y="180.7" fill="#a04e04"/><rect class="hb" x="486.2" y="180.7" fill="#673003"/><rect class="hb" x="492.2" y="180.7" fill="#492202"/><rect class="hb" x="498.2" y="180.7" fill="#411e01"/><rect class="hb" x="504.2" y="180.7" fill="#3f1d01"/><rect class="hb" x="510.2" y="180.7" fill="#411e02"/><rect class="hb" x="516.2" y="180.7" fill="#431f02"/><rect class="hb" x="522.2" y="180.7" fill="#431f02"/><rect class="hb" x="528.2" y="180.7" fill="#431f02"/><rect class="hb" x="534.2" y="180.7" fill="#431f02"/><rect class="hb" x="540.2" y="180.7" fill="#431f02"/><rect class="hb" x="546.2" y="180.7" fill="#452002"/><rect class="hb" x="552.2" y="180.7" fill="#472102"/><rect class="hb" x="558.2" y="180.7" fill="#492202"/><rect class="hb" x="564.2" y="180.7" fill="#4b2302"/><rect class="hb" x="570.2" y="180.7" fill="#512602"/><rect class="hb" x="576.2" y="180.7" fill="#5a2a02"/><rect class="hb" x="582.2" y="180.7" fill="#632e02"/><rect class="hb" x="588.2" y="180.7" fill="#6f3403"/><rect class="hb" x="594.2" y="180.7" fill="#7b3a03"/><rect class="hb" x="600.2" y="180.7" fill="#8a4203"/><rect class="hb" x="606.2" y="180.7" fill="#994a04"/><rect class="hb" x="612.2" y="180.7" fill="#a75104"/><rect class="hb" x="618.2" y="180.7" fill="#b55904"/><rect class="hb" x="624.2" y="180.7" fill="#c36005"/><rect class="hb" x="630.2" y="180.7" fill="#c86305"/><rect class="hb" x="636.2" y="180.7" fill="#c86305"/><rect class="hb" x="642.2" y="180.7" fill="#c86305"/><rect class="hb" x="396.2" y="186.7" fill="#feeedd"/><rect class="hb" x="402.2" y="186.7" fill="#feeedd"/><rect class="hb" x="408.2" y="186.7" fill="#fdecda"/><rect class="hb" x="414.2" y="186.7" fill="#fde7d0"/><rect class="hb" x="420.2" y="186.7" fill="#fce1c5"/><rect class="hb" x="426.2" y="186.7" fill="#fcd9b9"/><rect class="hb" x="432.2" y="186.7" fill="#fbd3ad"/><rect class="hb" x="438.2" y="186.7" fill="#faca9d"/><rect class="hb" x="444.2" y="186.7" fill="#f9c08a"/><rect class="hb" x="450.2" y="186.7" fill="#f9b473"/><rect class="hb" x="456.2" y="186.7" fill="#f9a152"/><rect class="hb" x="462.2" y="186.7" fill="#fc8516"/><rect class="hb" x="468.2" y="186.7" fill="#e77509"/><rect class="hb" x="474.2" y="186.7" fill="#cb6405"/><rect class="hb" x="480.2" y="186.7" fill="#9f4d04"/><rect class="hb" x="486.2" y="186.7" fill="#6c3303"/><rect class="hb" x="492.2" y="186.7" fill="#4f2502"/><rect class="hb" x="498.2" y="186.7" fill="#492202"/><rect class="hb" x="504.2" y="186.7" fill="#482102"/><rect class="hb" x="510.2" y="186.7" fill="#4b2302"/><rect class="hb" x="516.2" y="186.7" fill="#4f2502"/><rect class="hb" x="522.2" y="186.7" fill="#4f2502"/><rect class="hb" x="528.2" y="186.7" fill="#502502"/><rect class="hb" x="534.2" y="186.7" fill="#502502"/><rect class="hb" x="540.2" y="186.7" fill="#502602"/><rect class="hb" x="546.2" y="186.7" fill="#512602"/><rect class="hb" x="552.2" y="186.7" fill="#532702"/><rect class="hb" x="558.2" y="186.7" fill="#542702"/><rect class="hb" x="564.2" y="186.7" fill="#552802"/><rect class="hb" x="570.2" y="186.7" fill="#5a2a02"/><rect class="hb" x="576.2" y="186.7" fill="#622e02"/><rect class="hb" x="582.2" y="186.7" fill="#6a3203"/><rect class="hb" x="588.2" y="186.7" fill="#753703"/><rect class="hb" x="594.2" y="186.7" fill="#823d03"/><rect class="hb" x="600.2" y="186.7" fill="#8f4503"/><rect class="hb" x="606.2" y="186.7" fill="#9d4c04"/><rect class="hb" x="612.2" y="186.7" fill="#aa5304"/><rect class="hb" x="618.2" y="186.7" fill="#b85a04"/><rect class="hb" x="624.2" y="186.7" fill="#c46105"/><rect class="hb" x="630.2" y="186.7" fill="#ca6405"/><rect class="hb" x="636.2" y="186.7" fill="#ca6405"/><rect class="hb" x="642.2" y="186.7" fill="#ca6405"/><rect class="hb" x="396.2" y="192.7" fill="#fdead6"/><rect class="hb" x="402.2" y="192.7" fill="#fdead6"/><rect class="hb" x="408.2" y="192.7" fill="#fde8d2"/><rect class="hb" x="414.2" y="192.7" fill="#fce2c8"/><rect class="hb" x="420.2" y="192.7" fill="#fcdcbe"/><rect class="hb" x="426.2" y="192.7" fill="#fbd6b3"/><rect class="hb" x="432.2" y="192.7" fill="#fbd0a8"/><rect class="hb" x="438.2" y="192.7" fill="#fac99a"/><rect class="hb" x="444.2" y="192.7" fill="#f9c089"/><rect class="hb" x="450.2" y="192.7" fill="#f9b372"/><rect class="hb" x="456.2" y="192.7" fill="#f9a051"/><rect class="hb" x="462.2" y="192.7" fill="#fc8516"/><rect class="hb" x="468.2" y="192.7" fill="#e67409"/><rect class="hb" x="474.2" y="192.7" fill="#ca6405"/><rect class="hb" x="480.2" y="192.7" fill="#9e4d04"/><rect class="hb" x="486.2" y="192.7" fill="#703503"/><rect class="hb" x="492.2" y="192.7" fill="#552802"/><rect class="hb" x="498.2" y="192.7" fill="#4f2502"/><rect class="hb" x="504.2" y="192.7" fill="#4f2502"/><rect class="hb" x="510.2" y="192.7" fill="#542702"/><rect class="hb" x="516.2" y="192.7" fill="#582902"/><rect class="hb" x="522.2" y="192.7" fill="#592a02"/><rect class="hb" x="528.2" y="192.7" fill="#5a2a02"/><rect class="hb" x="534.2" y="192.7" fill="#5a2a02"/><rect class="hb" x="540.2" y="192.7" fill="#5b2b02"/><rect class="hb" x="546.2" y="192.7" fill="#5c2b02"/><rect class="hb" x="552.2" y="192.7" fill="#5d2c02"/><rect class="hb" x="558.2" y="192.7" fill="#5e2c02"/><rect class="hb" x="564.2" y="192.7" fill="#5e2c02"/><rect class="hb" x="570.2" y="192.7" fill="#622e02"/><rect class="hb" x="576.2" y="192.7" fill="#693103"/><rect class="hb" x="582.2" y="192.7" fill="#703403"/><rect class="hb" x="588.2" y="192.7" fill="#7a3903"/><rect class="hb" x="594.2" y="192.7" fill="#874003"/><rect class="hb" x="600.2" y="192.7" fill="#934704"/><rect class="hb" x="606.2" y="192.7" fill="#a04e04"/><rect class="hb" x="612.2" y="192.7" fill="#ad5404"/><rect class="hb" x="618.2" y="192.7" fill="#ba5b04"/><rect class="hb" x="624.2" y="192.7" fill="#c66205"/><rect class="hb" x="630.2" y="192.7" fill="#cb6505"/><rect class="hb" x="636.2" y="192.7" fill="#cb6505"/><rect class="hb" x="642.2" y="192.7" fill="#cb6505"/><rect class="hb" x="396.2" y="198.7" fill="#fde7d0"/><rect class="hb" x="402.2" y="198.7" fill="#fde7d0"/><rect class="hb" x="408.2" y="198.7" fill="#fde5cc"/><rect class="hb" x="414.2" y="198.7" fill="#fcdec1"/><rect class="hb" x="420.2" y="198.7" fill="#fcd8b7"/><rect class="hb" x="426.2" y="198.7" fill="#fbd3ad"/><rect class="hb" x="432.2" y="198.7" fill="#fbcda3"/><rect class="hb" x="438.2" y="198.7" fill="#fac797"/><rect class="hb" x="444.2" y="198.7" fill="#f9be86"/><rect class="hb" x="450.2" y="198.7" fill="#f9b16f"/><rect class="hb" x="456.2" y="198.7" fill="#f99f4d"/><rect class="hb" x="462.2" y="198.7" fill="#fc8515"/><rect class="hb" x="468.2" y="198.7" fill="#e67409"/><rect class="hb" x="474.2" y="198.7" fill="#c96405"/><rect class="hb" x="480.2" y="198.7" fill="#9e4c04"/><rect class="hb" x="486.2" y="198.7" fill="#713503"/><rect class="hb" x="492.2" y="198.7" fill="#562902"/><rect class="hb" x="498.2" y="198.7" fill="#512602"/><rect class="hb" x="504.2" y="198.7" fill="#512602"/><rect class="hb" x="510.2" y="198.7" fill="#562802"/><rect class="hb" x="516.2" y="198.7" fill="#5a2a02"/><rect class="hb" x="522.2" y="198.7" fill="#5c2b02"/><rect class="hb" x="528.2" y="198.7" fill="#5d2c02"/><rect class="hb" x="534.2" y="198.7" fill="#5d2c02"/><rect class="hb" x="540.2" y="198.7" fill="#5e2c02"/><rect class="hb" x="546.2" y="198.7" fill="#5f2d02"/><rect class="hb" x="552.2" y="198.7" fill="#602d02"/><rect class="hb" x="558.2" y="198.7" fill="#602d02"/><rect class="hb" x="564.2" y="198.7" fill="#612d02"/><rect class="hb" x="570.2" y="198.7" fill="#642f02"/><rect class="hb" x="576.2" y="198.7" fill="#6b3203"/><rect class="hb" x="582.2" y="198.7" fill="#723503"/><rect class="hb" x="588.2" y="198.7" fill="#7c3a03"/><rect class="hb" x="594.2" y="198.7" fill="#884103"/><rect class="hb" x="600.2" y="198.7" fill="#944704"/><rect class="hb" x="606.2" y="198.7" fill="#a14e04"/><rect class="hb" x="612.2" y="198.7" fill="#ad5504"/><rect class="hb" x="618.2" y="198.7" fill="#ba5c04"/><rect class="hb" x="624.2" y="198.7" fill="#c66205"/><rect class="hb" x="630.2" y="198.7" fill="#cb6505"/><rect class="hb" x="636.2" y="198.7" fill="#cb6505"/><rect class="hb" x="642.2" y="198.7" fill="#cb6505"/><rect class="hb" x="396.2" y="204.7" fill="#fde3ca"/><rect class="hb" x="402.2" y="204.7" fill="#fde3ca"/><rect class="hb" x="408.2" y="204.7" fill="#fce1c6"/><rect class="hb" x="414.2" y="204.7" fill="#fcdbbb"/><rect class="hb" x="420.2" y="204.7" fill="#fbd5b1"/><rect class="hb" x="426.2" y="204.7" fill="#fbcfa7"/><rect class="hb" x="432.2" y="204.7" fill="#faca9d"/><rect class="hb" x="438.2" y="204.7" fill="#fac491"/><rect class="hb" x="444.2" y="204.7" fill="#f9bb80"/><rect class="hb" x="450.2" y="204.7" fill="#f9ad68"/><rect class="hb" x="456.2" y="204.7" fill="#fa9a44"/><rect class="hb" x="462.2" y="204.7" fill="#fc8414"/><rect class="hb" x="468.2" y="204.7" fill="#e57409"/><rect class="hb" x="474.2" y="204.7" fill="#c86305"/><rect class="hb" x="480.2" y="204.7" fill="#9d4c04"/><rect class="hb" x="486.2" y="204.7" fill="#6e3303"/><rect class="hb" x="492.2" y="204.7" fill="#542702"/><rect class="hb" x="498.2" y="204.7" fill="#4e2402"/><rect class="hb" x="504.2" y="204.7" fill="#4d2402"/><rect class="hb" x="510.2" y="204.7" fill="#522602"/><rect class="hb" x="516.2" y="204.7" fill="#562802"/><rect class="hb" x="522.2" y="204.7" fill="#572902"/><rect class="hb" x="528.2" y="204.7" fill="#582902"/><rect class="hb" x="534.2" y="204.7" fill="#582902"/><rect class="hb" x="540.2" y="204.7" fill="#582a02"/><rect class="hb" x="546.2" y="204.7" fill="#5a2a02"/><rect class="hb" x="552.2" y="204.7" fill="#5b2b02"/><rect class="hb" x="558.2" y="204.7" fill="#5b2b02"/><rect class="hb" x="564.2" y="204.7" fill="#5c2b02"/><rect class="hb" x="570.2" y="204.7" fill="#602d02"/><rect class="hb" x="576.2" y="204.7" fill="#683103"/><rect class="hb" x="582.2" y="204.7" fill="#6f3403"/><rect class="hb" x="588.2" y="204.7" fill="#793903"/><rect class="hb" x="594.2" y="204.7" fill="#863f03"/><rect class="hb" x="600.2" y="204.7" fill="#924604"/><rect class="hb" x="606.2" y="204.7" fill="#9f4d04"/><rect class="hb" x="612.2" y="204.7" fill="#ac5404"/><rect class="hb" x="618.2" y="204.7" fill="#b95b04"/><rect class="hb" x="624.2" y="204.7" fill="#c56205"/><rect class="hb" x="630.2" y="204.7" fill="#cb6405"/><rect class="hb" x="636.2" y="204.7" fill="#cb6405"/><rect class="hb" x="642.2" y="204.7" fill="#cb6405"/><rect class="hb" x="396.2" y="210.7" fill="#fce1c6"/><rect class="hb" x="402.2" y="210.7" fill="#fce1c6"/><rect class="hb" x="408.2" y="210.7" fill="#fcdfc2"/><rect class="hb" x="414.2" y="210.7" fill="#fcd8b7"/><rect class="hb" x="420.2" y="210.7" fill="#fbd3ad"/><rect class="hb" x="426.2" y="210.7" fill="#facca1"/><rect class="hb" x="432.2" y="210.7" fill="#fac797"/><rect class="hb" x="438.2" y="210.7" fill="#f9c18c"/><rect class="hb" x="444.2" y="210.7" fill="#f9b779"/><rect class="hb" x="450.2" y="210.7" fill="#f9a961"/><rect class="hb" x="456.2" y="210.7" fill="#fa963a"/><rect class="hb" x="462.2" y="210.7" fill="#fc8413"/><rect class="hb" x="468.2" y="210.7" fill="#e57409"/><rect class="hb" x="474.2" y="210.7" fill="#c86305"/><rect class="hb" x="480.2" y="210.7" fill="#9c4b04"/><rect class="hb" x="486.2" y="210.7" fill="#6b3203"/><rect class="hb" x="492.2" y="210.7" fill="#512602"/><rect class="hb" x="498.2" y="210.7" fill="#4b2302"/><rect class="hb" x="504.2" y="210.7" fill="#4a2202"/><rect class="hb" x="510.2" y="210.7" fill="#4e2402"/><rect class="hb" x="516.2" y="210.7" fill="#512602"/><rect class="hb" x="522.2" y="210.7" fill="#522702"/><rect class="hb" x="528.2" y="210.7" fill="#522702"/><rect class="hb" x="534.2" y="210.7" fill="#522702"/><rect class="hb" x="540.2" y="210.7" fill="#532702"/><rect class="hb" x="546.2" y="210.7" fill="#542702"/><rect class="hb" x="552.2" y="210.7" fill="#552802"/><rect class="hb" x="558.2" y="210.7" fill="#562802"/><rect class="hb" x="564.2" y="210.7" fill="#572902"/><rect class="hb" x="570.2" y="210.7" fill="#5c2b02"/><rect class="hb" x="576.2" y="210.7" fill="#642f02"/><rect class="hb" x="582.2" y="210.7" fill="#6c3203"/><rect class="hb" x="588.2" y="210.7" fill="#763703"/><rect class="hb" x="594.2" y="210.7" fill="#833e03"/><rect class="hb" x="600.2" y="210.7" fill="#904503"/><rect class="hb" x="606.2" y="210.7" fill="#9d4c04"/><rect class="hb" x="612.2" y="210.7" fill="#ab5304"/><rect class="hb" x="618.2" y="210.7" fill="#b85b04"/><rect class="hb" x="624.2" y="210.7" fill="#c56105"/><rect class="hb" x="630.2" y="210.7" fill="#ca6405"/><rect class="hb" x="636.2" y="210.7" fill="#ca6405"/><rect class="hb" x="642.2" y="210.7" fill="#ca6405"/><rect class="hb" x="396.2" y="216.7" fill="#fcdfc2"/><rect class="hb" x="402.2" y="216.7" fill="#fcdfc2"/><rect class="hb" x="408.2" y="216.7" fill="#fcddbe"/><rect class="hb" x="414.2" y="216.7" fill="#fbd6b3"/><rect class="hb" x="420.2" y="216.7" fill="#fbd0a8"/><rect class="hb" x="426.2" y="216.7" fill="#faca9c"/><rect class="hb" x="432.2" y="216.7" fill="#fac592"/><rect class="hb" x="438.2" y="216.7" fill="#f9be86"/><rect class="hb" x="444.2" y="216.7" fill="#f9b372"/><rect class="hb" x="450.2" y="216.7" fill="#f9a65a"/><rect class="hb" x="456.2" y="216.7" fill="#fa9130"/><rect class="hb" x="462.2" y="216.7" fill="#fc8413"/><rect class="hb" x="468.2" y="216.7" fill="#e47309"/><rect class="hb" x="474.2" y="216.7" fill="#c76205"/><rect class="hb" x="480.2" y="216.7" fill="#9b4b04"/><rect class="hb" x="486.2" y="216.7" fill="#6a3203"/><rect class="hb" x="492.2" y="216.7" fill="#502502"/><rect class="hb" x="498.2" y="216.7" fill="#4a2202"/><rect class="hb" x="504.2" y="216.7" fill="#492202"/><rect class="hb" x="510.2" y="216.7" fill="#4c2402"/><rect class="hb" x="516.2" y="216.7" fill="#4f2502"/><rect class="hb" x="522.2" y="216.7" fill="#4f2502"/><rect class="hb" x="528.2" y="216.7" fill="#4e2502"/><rect class="hb" x="534.2" y="216.7" fill="#4d2402"/><rect class="hb" x="540.2" y="216.7" fill="#4c2402"/><rect class="hb" x="546.2" y="216.7" fill="#4c2402"/><rect class="hb" x="552.2" y="216.7" fill="#4c2402"/><rect class="hb" x="558.2" y="216.7" fill="#4d2402"/><rect class="hb" x="564.2" y="216.7" fill="#4e2502"/><rect class="hb" x="570.2" y="216.7" fill="#532702"/><rect class="hb" x="576.2" y="216.7" fill="#5c2b02"/><rect class="hb" x="582.2" y="216.7" fill="#663002"/><rect class="hb" x="588.2" y="216.7" fill="#723503"/><rect class="hb" x="594.2" y="216.7" fill="#7f3c03"/><rect class="hb" x="600.2" y="216.7" fill="#8e4403"/><rect class="hb" x="606.2" y="216.7" fill="#9c4b04"/><rect class="hb" x="612.2" y="216.7" fill="#aa5304"/><rect class="hb" x="618.2" y="216.7" fill="#b85a04"/><rect class="hb" x="624.2" y="216.7" fill="#c46105"/><rect class="hb" x="630.2" y="216.7" fill="#ca6405"/><rect class="hb" x="636.2" y="216.7" fill="#ca6405"/><rect class="hb" x="642.2" y="216.7" fill="#ca6405"/><rect class="hb" x="396.2" y="222.7" fill="#fce1c6"/><rect class="hb" x="402.2" y="222.7" fill="#fce1c6"/><rect class="hb" x="408.2" y="222.7" fill="#fcdfc2"/><rect class="hb" x="414.2" y="222.7" fill="#fcd9b7"/><rect class="hb" x="420.2" y="222.7" fill="#fbd3ad"/><rect class="hb" x="426.2" y="222.7" fill="#facca0"/><rect class="hb" x="432.2" y="222.7" fill="#fac695"/><rect class="hb" x="438.2" y="222.7" fill="#f9bf88"/><rect class="hb" x="444.2" y="222.7" fill="#f9b373"/><rect class="hb" x="450.2" y="222.7" fill="#f9a55a"/><rect class="hb" x="456.2" y="222.7" fill="#fb902e"/><rect class="hb" x="462.2" y="222.7" fill="#fc8312"/><rect class="hb" x="468.2" y="222.7" fill="#e47308"/><rect class="hb" x="474.2" y="222.7" fill="#c66205"/><rect class="hb" x="480.2" y="222.7" fill="#9a4a04"/><rect class="hb" x="486.2" y="222.7" fill="#693103"/><rect class="hb" x="492.2" y="222.7" fill="#502502"/><rect class="hb" x="498.2" y="222.7" fill="#492202"/><rect class="hb" x="504.2" y="222.7" fill="#482102"/><rect class="hb" x="510.2" y="222.7" fill="#4b2302"/><rect class="hb" x="516.2" y="222.7" fill="#4d2402"/><rect class="hb" x="522.2" y="222.7" fill="#4b2302"/><rect class="hb" x="528.2" y="222.7" fill="#492202"/><rect class="hb" x="534.2" y="222.7" fill="#452002"/><rect class="hb" x="540.2" y="222.7" fill="#421e02"/><rect class="hb" x="546.2" y="222.7" fill="#3f1d01"/><rect class="hb" x="552.2" y="222.7" fill="#3d1c01"/><rect class="hb" x="558.2" y="222.7" fill="#3d1c01"/><rect class="hb" x="564.2" y="222.7" fill="#3f1d01"/><rect class="hb" x="570.2" y="222.7" fill="#452002"/><rect class="hb" x="576.2" y="222.7" fill="#502502"/><rect class="hb" x="582.2" y="222.7" fill="#5b2b02"/><rect class="hb" x="588.2" y="222.7" fill="#6a3203"/><rect class="hb" x="594.2" y="222.7" fill="#783803"/><rect class="hb" x="600.2" y="222.7" fill="#894103"/><rect class="hb" x="606.2" y="222.7" fill="#994a04"/><rect class="hb" x="612.2" y="222.7" fill="#a85204"/><rect class="hb" x="618.2" y="222.7" fill="#b75a04"/><rect class="hb" x="624.2" y="222.7" fill="#c46105"/><rect class="hb" x="630.2" y="222.7" fill="#ca6405"/><rect class="hb" x="636.2" y="222.7" fill="#ca6405"/><rect class="hb" x="642.2" y="222.7" fill="#ca6405"/><rect class="hb" x="396.2" y="228.7" fill="#fce2c7"/><rect class="hb" x="402.2" y="228.7" fill="#fce2c7"/><rect class="hb" x="408.2" y="228.7" fill="#fce0c3"/><rect class="hb" x="414.2" y="228.7" fill="#fcd9b9"/><rect class="hb" x="420.2" y="228.7" fill="#fbd4af"/><rect class="hb" x="426.2" y="228.7" fill="#fbcda2"/><rect class="hb" x="432.2" y="228.7" fill="#fac696"/><rect class="hb" x="438.2" y="228.7" fill="#f9bf88"/><rect class="hb" x="444.2" y="228.7" fill="#f9b372"/><rect class="hb" x="450.2" y="228.7" fill="#f9a559"/><rect class="hb" x="456.2" y="228.7" fill="#fb902d"/><rect class="hb" x="462.2" y="228.7" fill="#fc8311"/><rect class="hb" x="468.2" y="228.7" fill="#e37308"/><rect class="hb" x="474.2" y="228.7" fill="#c56105"/><rect class="hb" x="480.2" y="228.7" fill="#994a04"/><rect class="hb" x="486.2" y="228.7" fill="#693103"/><rect class="hb" x="492.2" y="228.7" fill="#502502"/><rect class="hb" x="498.2" y="228.7" fill="#492202"/><rect class="hb" x="504.2" y="228.7" fill="#482102"/><rect class="hb" x="510.2" y="228.7" fill="#4b2302"/><rect class="hb" x="516.2" y="228.7" fill="#4c2402"/><rect class="hb" x="522.2" y="228.7" fill="#4b2302"/><rect class="hb" x="528.2" y="228.7" fill="#482202"/><rect class="hb" x="534.2" y="228.7" fill="#442002"/><rect class="hb" x="540.2" y="228.7" fill="#411e01"/><rect class="hb" x="546.2" y="228.7" fill="#3e1d01"/><rect class="hb" x="552.2" y="228.7" fill="#3c1c01"/><rect class="hb" x="558.2" y="228.7" fill="#3c1c01"/><rect class="hb" x="564.2" y="228.7" fill="#3e1c01"/><rect class="hb" x="570.2" y="228.7" fill="#442002"/><rect class="hb" x="576.2" y="228.7" fill="#4f2502"/><rect class="hb" x="582.2" y="228.7" fill="#5b2b02"/><rect class="hb" x="588.2" y="228.7" fill="#6a3103"/><rect class="hb" x="594.2" y="228.7" fill="#783803"/><rect class="hb" x="600.2" y="228.7" fill="#894103"/><rect class="hb" x="606.2" y="228.7" fill="#994a04"/><rect class="hb" x="612.2" y="228.7" fill="#a85204"/><rect class="hb" x="618.2" y="228.7" fill="#b75a04"/><rect class="hb" x="624.2" y="228.7" fill="#c46105"/><rect class="hb" x="630.2" y="228.7" fill="#ca6405"/><rect class="hb" x="636.2" y="228.7" fill="#ca6405"/><rect class="hb" x="642.2" y="228.7" fill="#ca6405"/><rect class="hb" x="396.2" y="234.7" fill="#fcdec1"/><rect class="hb" x="402.2" y="234.7" fill="#fcdec1"/><rect class="hb" x="408.2" y="234.7" fill="#fcdcbe"/><rect class="hb" x="414.2" y="234.7" fill="#fbd6b2"/><rect class="hb" x="420.2" y="234.7" fill="#fbd0a7"/><rect class="hb" x="426.2" y="234.7" fill="#fac99b"/><rect class="hb" x="432.2" y="234.7" fill="#fac492"/><rect class="hb" x="438.2" y="234.7" fill="#f9be85"/><rect class="hb" x="444.2" y="234.7" fill="#f9b271"/><rect class="hb" x="450.2" y="234.7" fill="#f9a558"/><rect class="hb" x="456.2" y="234.7" fill="#fb8f2b"/><rect class="hb" x="462.2" y="234.7" fill="#fc8311"/><rect class="hb" x="468.2" y="234.7" fill="#e37208"/><rect class="hb" x="474.2" y="234.7" fill="#c46105"/><rect class="hb" x="480.2" y="234.7" fill="#984904"/><rect class="hb" x="486.2" y="234.7" fill="#683103"/><rect class="hb" x="492.2" y="234.7" fill="#502502"/><rect class="hb" x="498.2" y="234.7" fill="#4a2202"/><rect class="hb" x="504.2" y="234.7" fill="#482202"/><rect class="hb" x="510.2" y="234.7" fill="#4c2302"/><rect class="hb" x="516.2" y="234.7" fill="#4e2502"/><rect class="hb" x="522.2" y="234.7" fill="#4f2502"/><rect class="hb" x="528.2" y="234.7" fill="#4e2402"/><rect class="hb" x="534.2" y="234.7" fill="#4c2402"/><rect class="hb" x="540.2" y="234.7" fill="#4b2302"/><rect class="hb" x="546.2" y="234.7" fill="#4b2302"/><rect class="hb" x="552.2" y="234.7" fill="#4b2302"/><rect class="hb" x="558.2" y="234.7" fill="#4b2302"/><rect class="hb" x="564.2" y="234.7" fill="#4d2402"/><rect class="hb" x="570.2" y="234.7" fill="#522702"/><rect class="hb" x="576.2" y="234.7" fill="#5b2b02"/><rect class="hb" x="582.2" y="234.7" fill="#652f02"/><rect class="hb" x="588.2" y="234.7" fill="#713503"/><rect class="hb" x="594.2" y="234.7" fill="#7e3b03"/><rect class="hb" x="600.2" y="234.7" fill="#8d4303"/><rect class="hb" x="606.2" y="234.7" fill="#9c4b04"/><rect class="hb" x="612.2" y="234.7" fill="#aa5304"/><rect class="hb" x="618.2" y="234.7" fill="#b85a04"/><rect class="hb" x="624.2" y="234.7" fill="#c46105"/><rect class="hb" x="630.2" y="234.7" fill="#ca6405"/><rect class="hb" x="636.2" y="234.7" fill="#ca6405"/><rect class="hb" x="642.2" y="234.7" fill="#ca6405"/><rect class="hb" x="396.2" y="240.7" fill="#fcdec1"/><rect class="hb" x="402.2" y="240.7" fill="#fcdec1"/><rect class="hb" x="408.2" y="240.7" fill="#fcdcbd"/><rect class="hb" x="414.2" y="240.7" fill="#fbd5b2"/><rect class="hb" x="420.2" y="240.7" fill="#fbcfa7"/><rect class="hb" x="426.2" y="240.7" fill="#fac99b"/><rect class="hb" x="432.2" y="240.7" fill="#fac491"/><rect class="hb" x="438.2" y="240.7" fill="#f9be85"/><rect class="hb" x="444.2" y="240.7" fill="#f9b270"/><rect class="hb" x="450.2" y="240.7" fill="#f9a458"/><rect class="hb" x="456.2" y="240.7" fill="#fb8e2a"/><rect class="hb" x="462.2" y="240.7" fill="#fc8210"/><rect class="hb" x="468.2" y="240.7" fill="#e37208"/><rect class="hb" x="474.2" y="240.7" fill="#c36105"/><rect class="hb" x="480.2" y="240.7" fill="#974904"/><rect class="hb" x="486.2" y="240.7" fill="#683103"/><rect class="hb" x="492.2" y="240.7" fill="#502502"/><rect class="hb" x="498.2" y="240.7" fill="#4a2202"/><rect class="hb" x="504.2" y="240.7" fill="#492202"/><rect class="hb" x="510.2" y="240.7" fill="#4c2402"/><rect class="hb" x="516.2" y="240.7" fill="#502502"/><rect class="hb" x="522.2" y="240.7" fill="#502602"/><rect class="hb" x="528.2" y="240.7" fill="#502602"/><rect class="hb" x="534.2" y="240.7" fill="#502602"/><rect class="hb" x="540.2" y="240.7" fill="#512602"/><rect class="hb" x="546.2" y="240.7" fill="#522602"/><rect class="hb" x="552.2" y="240.7" fill="#532702"/><rect class="hb" x="558.2" y="240.7" fill="#542702"/><rect class="hb" x="564.2" y="240.7" fill="#552802"/><rect class="hb" x="570.2" y="240.7" fill="#5a2a02"/><rect class="hb" x="576.2" y="240.7" fill="#622e02"/><rect class="hb" x="582.2" y="240.7" fill="#6a3203"/><rect class="hb" x="588.2" y="240.7" fill="#753703"/><rect class="hb" x="594.2" y="240.7" fill="#823d03"/><rect class="hb" x="600.2" y="240.7" fill="#8f4503"/><rect class="hb" x="606.2" y="240.7" fill="#9d4c04"/><rect class="hb" x="612.2" y="240.7" fill="#aa5304"/><rect class="hb" x="618.2" y="240.7" fill="#b85a04"/><rect class="hb" x="624.2" y="240.7" fill="#c56105"/><rect class="hb" x="630.2" y="240.7" fill="#ca6405"/><rect class="hb" x="636.2" y="240.7" fill="#ca6405"/><rect class="hb" x="642.2" y="240.7" fill="#ca6405"/><rect class="hb" x="396.2" y="246.7" fill="#fcdec1"/><rect class="hb" x="402.2" y="246.7" fill="#fcdec1"/><rect class="hb" x="408.2" y="246.7" fill="#fcdcbd"/><rect class="hb" x="414.2" y="246.7" fill="#fbd5b2"/><rect class="hb" x="420.2" y="246.7" fill="#fbcfa7"/><rect class="hb" x="426.2" y="246.7" fill="#fac99b"/><rect class="hb" x="432.2" y="246.7" fill="#fac491"/><rect class="hb" x="438.2" y="246.7" fill="#f9bd85"/><rect class="hb" x="444.2" y="246.7" fill="#f9b270"/><rect class="hb" x="450.2" y="246.7" fill="#f9a457"/><rect class="hb" x="456.2" y="246.7" fill="#fb8e29"/><rect class="hb" x="462.2" y="246.7" fill="#fc820f"/><rect class="hb" x="468.2" y="246.7" fill="#e27208"/><rect class="hb" x="474.2" y="246.7" fill="#c26005"/><rect class="hb" x="480.2" y="246.7" fill="#964804"/><rect class="hb" x="486.2" y="246.7" fill="#663002"/><rect class="hb" x="492.2" y="246.7" fill="#4e2502"/><rect class="hb" x="498.2" y="246.7" fill="#492202"/><rect class="hb" x="504.2" y="246.7" fill="#482102"/><rect class="hb" x="510.2" y="246.7" fill="#4c2402"/><rect class="hb" x="516.2" y="246.7" fill="#502502"/><rect class="hb" x="522.2" y="246.7" fill="#512602"/><rect class="hb" x="528.2" y="246.7" fill="#512602"/><rect class="hb" x="534.2" y="246.7" fill="#512602"/><rect class="hb" x="540.2" y="246.7" fill="#522602"/><rect class="hb" x="546.2" y="246.7" fill="#532702"/><rect class="hb" x="552.2" y="246.7" fill="#542702"/><rect class="hb" x="558.2" y="246.7" fill="#552802"/><rect class="hb" x="564.2" y="246.7" fill="#562902"/><rect class="hb" x="570.2" y="246.7" fill="#5b2b02"/><rect class="hb" x="576.2" y="246.7" fill="#632e02"/><rect class="hb" x="582.2" y="246.7" fill="#6b3203"/><rect class="hb" x="588.2" y="246.7" fill="#763703"/><rect class="hb" x="594.2" y="246.7" fill="#823e03"/><rect class="hb" x="600.2" y="246.7" fill="#904503"/><rect class="hb" x="606.2" y="246.7" fill="#9d4c04"/><rect class="hb" x="612.2" y="246.7" fill="#aa5304"/><rect class="hb" x="618.2" y="246.7" fill="#b85a04"/><rect class="hb" x="624.2" y="246.7" fill="#c56105"/><rect class="hb" x="630.2" y="246.7" fill="#ca6405"/><rect class="hb" x="636.2" y="246.7" fill="#ca6405"/><rect class="hb" x="642.2" y="246.7" fill="#ca6405"/><rect class="hb" x="396.2" y="252.7" fill="#fcdec1"/><rect class="hb" x="402.2" y="252.7" fill="#fcdec1"/><rect class="hb" x="408.2" y="252.7" fill="#fcdcbd"/><rect class="hb" x="414.2" y="252.7" fill="#fbd5b1"/><rect class="hb" x="420.2" y="252.7" fill="#fbcfa7"/><rect class="hb" x="426.2" y="252.7" fill="#fac99a"/><rect class="hb" x="432.2" y="252.7" fill="#fac491"/><rect class="hb" x="438.2" y="252.7" fill="#f9bd84"/><rect class="hb" x="444.2" y="252.7" fill="#f9b16f"/><rect class="hb" x="450.2" y="252.7" fill="#f9a456"/><rect class="hb" x="456.2" y="252.7" fill="#fb8d27"/><rect class="hb" x="462.2" y="252.7" fill="#fb820f"/><rect class="hb" x="468.2" y="252.7" fill="#e17108"/><rect class="hb" x="474.2" y="252.7" fill="#bf5e04"/><rect class="hb" x="480.2" y="252.7" fill="#914503"/><rect class="hb" x="486.2" y="252.7" fill="#612d02"/><rect class="hb" x="492.2" y="252.7" fill="#492202"/><rect class="hb" x="498.2" y="252.7" fill="#441f02"/><rect class="hb" x="504.2" y="252.7" fill="#442002"/><rect class="hb" x="510.2" y="252.7" fill="#4a2202"/><rect class="hb" x="516.2" y="252.7" fill="#4f2502"/><rect class="hb" x="522.2" y="252.7" fill="#502602"/><rect class="hb" x="528.2" y="252.7" fill="#512602"/><rect class="hb" x="534.2" y="252.7" fill="#512602"/><rect class="hb" x="540.2" y="252.7" fill="#522602"/><rect class="hb" x="546.2" y="252.7" fill="#532702"/><rect class="hb" x="552.2" y="252.7" fill="#542802"/><rect class="hb" x="558.2" y="252.7" fill="#552802"/><rect class="hb" x="564.2" y="252.7" fill="#572902"/><rect class="hb" x="570.2" y="252.7" fill="#5b2b02"/><rect class="hb" x="576.2" y="252.7" fill="#632f02"/><rect class="hb" x="582.2" y="252.7" fill="#6b3203"/><rect class="hb" x="588.2" y="252.7" fill="#763703"/><rect class="hb" x="594.2" y="252.7" fill="#833e03"/><rect class="hb" x="600.2" y="252.7" fill="#904503"/><rect class="hb" x="606.2" y="252.7" fill="#9e4c04"/><rect class="hb" x="612.2" y="252.7" fill="#ab5304"/><rect class="hb" x="618.2" y="252.7" fill="#b85b04"/><rect class="hb" x="624.2" y="252.7" fill="#c56105"/><rect class="hb" x="630.2" y="252.7" fill="#ca6405"/><rect class="hb" x="636.2" y="252.7" fill="#ca6405"/><rect class="hb" x="642.2" y="252.7" fill="#ca6405"/><rect class="hb" x="396.2" y="258.7" fill="#fcdec0"/><rect class="hb" x="402.2" y="258.7" fill="#fcdec0"/><rect class="hb" x="408.2" y="258.7" fill="#fcdcbd"/><rect class="hb" x="414.2" y="258.7" fill="#fbd5b1"/><rect class="hb" x="420.2" y="258.7" fill="#fbcfa6"/><rect class="hb" x="426.2" y="258.7" fill="#fac99a"/><rect class="hb" x="432.2" y="258.7" fill="#fac491"/><rect class="hb" x="438.2" y="258.7" fill="#f9bd84"/><rect class="hb" x="444.2" y="258.7" fill="#f9b16f"/><rect class="hb" x="450.2" y="258.7" fill="#f9a356"/><rect class="hb" x="456.2" y="258.7" fill="#fb8c26"/><rect class="hb" x="462.2" y="258.7" fill="#fa810f"/><rect class="hb" x="468.2" y="258.7" fill="#df7007"/><rect class="hb" x="474.2" y="258.7" fill="#bb5c04"/><rect class="hb" x="480.2" y="258.7" fill="#884103"/><rect class="hb" x="486.2" y="258.7" fill="#562902"/><rect class="hb" x="492.2" y="258.7" fill="#3e1c01"/><rect class="hb" x="498.2" y="258.7" fill="#391a01"/><rect class="hb" x="504.2" y="258.7" fill="#3c1c01"/><rect class="hb" x="510.2" y="258.7" fill="#452002"/><rect class="hb" x="516.2" y="258.7" fill="#4d2402"/><rect class="hb" x="522.2" y="258.7" fill="#502502"/><rect class="hb" x="528.2" y="258.7" fill="#512602"/><rect class="hb" x="534.2" y="258.7" fill="#512602"/><rect class="hb" x="540.2" y="258.7" fill="#522602"/><rect class="hb" x="546.2" y="258.7" fill="#532702"/><rect class="hb" x="552.2" y="258.7" fill="#542802"/><rect class="hb" x="558.2" y="258.7" fill="#552802"/><rect class="hb" x="564.2" y="258.7" fill="#572902"/><rect class="hb" x="570.2" y="258.7" fill="#5b2b02"/><rect class="hb" x="576.2" y="258.7" fill="#632f02"/><rect class="hb" x="582.2" y="258.7" fill="#6b3203"/><rect class="hb" x="588.2" y="258.7" fill="#763703"/><rect class="hb" x="594.2" y="258.7" fill="#914503"/><rect class="hb" x="600.2" y="258.7" fill="#9e4d04"/><rect class="hb" x="606.2" y="258.7" fill="#ac5404"/><rect class="hb" x="612.2" y="258.7" fill="#b95b04"/><rect class="hb" x="618.2" y="258.7" fill="#c76205"/><rect class="hb" x="624.2" y="258.7" fill="#d36905"/><rect class="hb" x="630.2" y="258.7" fill="#d86c05"/><rect class="hb" x="636.2" y="258.7" fill="#d86c05"/><rect class="hb" x="642.2" y="258.7" fill="#d86c05"/><rect class="hb" x="396.2" y="264.7" fill="#fcdec0"/><rect class="hb" x="402.2" y="264.7" fill="#fcdec0"/><rect class="hb" x="408.2" y="264.7" fill="#fcdcbc"/><rect class="hb" x="414.2" y="264.7" fill="#fbd5b1"/><rect class="hb" x="420.2" y="264.7" fill="#fbcfa6"/><rect class="hb" x="426.2" y="264.7" fill="#fac99a"/><rect class="hb" x="432.2" y="264.7" fill="#fac491"/><rect class="hb" x="438.2" y="264.7" fill="#f9bd84"/><rect class="hb" x="444.2" y="264.7" fill="#f9b16e"/><rect class="hb" x="450.2" y="264.7" fill="#f9a355"/><rect class="hb" x="456.2" y="264.7" fill="#fb8c24"/><rect class="hb" x="462.2" y="264.7" fill="#fa800e"/><rect class="hb" x="468.2" y="264.7" fill="#de6f07"/><rect class="hb" x="474.2" y="264.7" fill="#b85a04"/><rect class="hb" x="480.2" y="264.7" fill="#833e03"/><rect class="hb" x="486.2" y="264.7" fill="#512602"/><rect class="hb" x="492.2" y="264.7" fill="#381901"/><rect class="hb" x="498.2" y="264.7" fill="#331701"/><rect class="hb" x="504.2" y="264.7" fill="#381a01"/><rect class="hb" x="510.2" y="264.7" fill="#431f02"/><rect class="hb" x="516.2" y="264.7" fill="#4b2302"/><rect class="hb" x="522.2" y="264.7" fill="#4f2502"/><rect class="hb" x="528.2" y="264.7" fill="#512602"/><rect class="hb" x="534.2" y="264.7" fill="#512602"/><rect class="hb" x="540.2" y="264.7" fill="#522602"/><rect class="hb" x="546.2" y="264.7" fill="#532702"/><rect class="hb" x="552.2" y="264.7" fill="#542802"/><rect class="hb" x="558.2" y="264.7" fill="#552802"/><rect class="hb" x="564.2" y="264.7" fill="#572902"/><rect class="hb" x="570.2" y="264.7" fill="#5b2b02"/><rect class="hb" x="576.2" y="264.7" fill="#632f02"/><rect class="hb" x="582.2" y="264.7" fill="#6b3203"/><rect class="hb" x="588.2" y="264.7" fill="#763703"/><rect class="hb" x="594.2" y="264.7" fill="#b45904"/><rect class="hb" x="600.2" y="264.7" fill="#c26005"/><rect class="hb" x="606.2" y="264.7" fill="#cf6705"/><rect class="hb" x="612.2" y="264.7" fill="#dc6e06"/><rect class="hb" x="618.2" y="264.7" fill="#e77509"/><rect class="hb" x="624.2" y="264.7" fill="#f17b0c"/><rect class="hb" x="630.2" y="264.7" fill="#f67e0d"/><rect class="hb" x="636.2" y="264.7" fill="#f67e0d"/><rect class="hb" x="642.2" y="264.7" fill="#f67e0d"/><rect class="hb" x="396.2" y="270.7" fill="#fcdec0"/><rect class="hb" x="402.2" y="270.7" fill="#fcdec0"/><rect class="hb" x="408.2" y="270.7" fill="#fcdbbc"/><rect class="hb" x="414.2" y="270.7" fill="#fbd5b1"/><rect class="hb" x="420.2" y="270.7" fill="#fbcfa6"/><rect class="hb" x="426.2" y="270.7" fill="#fac99a"/><rect class="hb" x="432.2" y="270.7" fill="#fac490"/><rect class="hb" x="438.2" y="270.7" fill="#f9bd83"/><rect class="hb" x="444.2" y="270.7" fill="#f9b16e"/><rect class="hb" x="450.2" y="270.7" fill="#f9a254"/><rect class="hb" x="456.2" y="270.7" fill="#fb8b23"/><rect class="hb" x="462.2" y="270.7" fill="#f9800e"/><rect class="hb" x="468.2" y="270.7" fill="#df7007"/><rect class="hb" x="474.2" y="270.7" fill="#ba5c04"/><rect class="hb" x="480.2" y="270.7" fill="#884103"/><rect class="hb" x="486.2" y="270.7" fill="#582902"/><rect class="hb" x="492.2" y="270.7" fill="#401e01"/><rect class="hb" x="498.2" y="270.7" fill="#3b1b01"/><rect class="hb" x="504.2" y="270.7" fill="#3e1d01"/><rect class="hb" x="510.2" y="270.7" fill="#462102"/><rect class="hb" x="516.2" y="270.7" fill="#4d2402"/><rect class="hb" x="522.2" y="270.7" fill="#502502"/><rect class="hb" x="528.2" y="270.7" fill="#512602"/><rect class="hb" x="534.2" y="270.7" fill="#512602"/><rect class="hb" x="540.2" y="270.7" fill="#522602"/><rect class="hb" x="546.2" y="270.7" fill="#532702"/><rect class="hb" x="552.2" y="270.7" fill="#542802"/><rect class="hb" x="558.2" y="270.7" fill="#552802"/><rect class="hb" x="564.2" y="270.7" fill="#572902"/><rect class="hb" x="570.2" y="270.7" fill="#5b2b02"/><rect class="hb" x="576.2" y="270.7" fill="#632f02"/><rect class="hb" x="582.2" y="270.7" fill="#6b3203"/><rect class="hb" x="588.2" y="270.7" fill="#763703"/><rect class="hb" x="594.2" y="270.7" fill="#954704"/><rect class="hb" x="600.2" y="270.7" fill="#a24f04"/><rect class="hb" x="606.2" y="270.7" fill="#af5604"/><rect class="hb" x="612.2" y="270.7" fill="#bd5d04"/><rect class="hb" x="618.2" y="270.7" fill="#ca6405"/><rect class="hb" x="624.2" y="270.7" fill="#d76b05"/><rect class="hb" x="630.2" y="270.7" fill="#db6e06"/><rect class="hb" x="636.2" y="270.7" fill="#db6e06"/><rect class="hb" x="642.2" y="270.7" fill="#db6e06"/><rect class="hb" x="396.2" y="276.7" fill="#fcddc0"/><rect class="hb" x="402.2" y="276.7" fill="#fcddc0"/><rect class="hb" x="408.2" y="276.7" fill="#fcdbbc"/><rect class="hb" x="414.2" y="276.7" fill="#fbd5b1"/><rect class="hb" x="420.2" y="276.7" fill="#fbcfa6"/><rect class="hb" x="426.2" y="276.7" fill="#fac89a"/><rect class="hb" x="432.2" y="276.7" fill="#fac390"/><rect class="hb" x="438.2" y="276.7" fill="#f9bd83"/><rect class="hb" x="444.2" y="276.7" fill="#f9b06d"/><rect class="hb" x="450.2" y="276.7" fill="#f9a254"/><rect class="hb" x="456.2" y="276.7" fill="#fb8b22"/><rect class="hb" x="462.2" y="276.7" fill="#f9800e"/><rect class="hb" x="468.2" y="276.7" fill="#df7007"/><rect class="hb" x="474.2" y="276.7" fill="#bd5d04"/><rect class="hb" x="480.2" y="276.7" fill="#8f4403"/><rect class="hb" x="486.2" y="276.7" fill="#612d02"/><rect class="hb" x="492.2" y="276.7" fill="#4b2302"/><rect class="hb" x="498.2" y="276.7" fill="#452002"/><rect class="hb" x="504.2" y="276.7" fill="#462002"/><rect class="hb" x="510.2" y="276.7" fill="#4b2302"/><rect class="hb" x="516.2" y="276.7" fill="#4f2502"/><rect class="hb" x="522.2" y="276.7" fill="#512602"/><rect class="hb" x="528.2" y="276.7" fill="#512602"/><rect class="hb" x="534.2" y="276.7" fill="#512602"/><rect class="hb" x="540.2" y="276.7" fill="#522602"/><rect class="hb" x="546.2" y="276.7" fill="#532702"/><rect class="hb" x="552.2" y="276.7" fill="#542802"/><rect class="hb" x="558.2" y="276.7" fill="#552802"/><rect class="hb" x="564.2" y="276.7" fill="#572902"/><rect class="hb" x="570.2" y="276.7" fill="#5b2b02"/><rect class="hb" x="576.2" y="276.7" fill="#632f02"/><rect class="hb" x="582.2" y="276.7" fill="#6b3203"/><rect class="hb" x="588.2" y="276.7" fill="#763703"/><rect class="hb" x="594.2" y="276.7" fill="#833e03"/><rect class="hb" x="600.2" y="276.7" fill="#904503"/><rect class="hb" x="606.2" y="276.7" fill="#9e4c04"/><rect class="hb" x="612.2" y="276.7" fill="#ab5404"/><rect class="hb" x="618.2" y="276.7" fill="#b95b04"/><rect class="hb" x="624.2" y="276.7" fill="#c56205"/><rect class="hb" x="630.2" y="276.7" fill="#cb6405"/><rect class="hb" x="636.2" y="276.7" fill="#cb6405"/><rect class="hb" x="642.2" y="276.7" fill="#cb6405"/><rect class="hb" x="396.2" y="282.7" fill="#fcddc0"/><rect class="hb" x="402.2" y="282.7" fill="#fcddc0"/><rect class="hb" x="408.2" y="282.7" fill="#fcdbbc"/><rect class="hb" x="414.2" y="282.7" fill="#fbd5b0"/><rect class="hb" x="420.2" y="282.7" fill="#fbcfa5"/><rect class="hb" x="426.2" y="282.7" fill="#fac89a"/><rect class="hb" x="432.2" y="282.7" fill="#fac390"/><rect class="hb" x="438.2" y="282.7" fill="#f9bc83"/><rect class="hb" x="444.2" y="282.7" fill="#f9b06d"/><rect class="hb" x="450.2" y="282.7" fill="#f9a253"/><rect class="hb" x="456.2" y="282.7" fill="#fb8a21"/><rect class="hb" x="462.2" y="282.7" fill="#f9800e"/><rect class="hb" x="468.2" y="282.7" fill="#df7007"/><rect class="hb" x="474.2" y="282.7" fill="#be5d04"/><rect class="hb" x="480.2" y="282.7" fill="#904503"/><rect class="hb" x="486.2" y="282.7" fill="#632e02"/><rect class="hb" x="492.2" y="282.7" fill="#4e2402"/><rect class="hb" x="498.2" y="282.7" fill="#482202"/><rect class="hb" x="504.2" y="282.7" fill="#482102"/><rect class="hb" x="510.2" y="282.7" fill="#4c2302"/><rect class="hb" x="516.2" y="282.7" fill="#502502"/><rect class="hb" x="522.2" y="282.7" fill="#512602"/><rect class="hb" x="528.2" y="282.7" fill="#512602"/><rect class="hb" x="534.2" y="282.7" fill="#512602"/><rect class="hb" x="540.2" y="282.7" fill="#522602"/><rect class="hb" x="546.2" y="282.7" fill="#532702"/><rect class="hb" x="552.2" y="282.7" fill="#542802"/><rect class="hb" x="558.2" y="282.7" fill="#552802"/><rect class="hb" x="564.2" y="282.7" fill="#572902"/><rect class="hb" x="570.2" y="282.7" fill="#5b2b02"/><rect class="hb" x="576.2" y="282.7" fill="#632f02"/><rect class="hb" x="582.2" y="282.7" fill="#6b3203"/><rect class="hb" x="588.2" y="282.7" fill="#763703"/><rect class="hb" x="594.2" y="282.7" fill="#823e03"/><rect class="hb" x="600.2" y="282.7" fill="#904503"/><rect class="hb" x="606.2" y="282.7" fill="#9d4c04"/><rect class="hb" x="612.2" y="282.7" fill="#aa5304"/><rect class="hb" x="618.2" y="282.7" fill="#b85a04"/><rect class="hb" x="624.2" y="282.7" fill="#c56105"/><rect class="hb" x="630.2" y="282.7" fill="#ca6405"/><rect class="hb" x="636.2" y="282.7" fill="#ca6405"/><rect class="hb" x="642.2" y="282.7" fill="#ca6405"/><rect class="hb" x="396.2" y="288.7" fill="#fcddc0"/><rect class="hb" x="402.2" y="288.7" fill="#fcddc0"/><rect class="hb" x="408.2" y="288.7" fill="#fcdbbc"/><rect class="hb" x="414.2" y="288.7" fill="#fbd5b0"/><rect class="hb" x="420.2" y="288.7" fill="#fbcfa5"/><rect class="hb" x="426.2" y="288.7" fill="#fac89a"/><rect class="hb" x="432.2" y="288.7" fill="#fac390"/><rect class="hb" x="438.2" y="288.7" fill="#f9bc83"/><rect class="hb" x="444.2" y="288.7" fill="#f9b06d"/><rect class="hb" x="450.2" y="288.7" fill="#f9a253"/><rect class="hb" x="456.2" y="288.7" fill="#fb8a21"/><rect class="hb" x="462.2" y="288.7" fill="#f9800e"/><rect class="hb" x="468.2" y="288.7" fill="#df7007"/><rect class="hb" x="474.2" y="288.7" fill="#be5d04"/><rect class="hb" x="480.2" y="288.7" fill="#904503"/><rect class="hb" x="486.2" y="288.7" fill="#632e02"/><rect class="hb" x="492.2" y="288.7" fill="#4e2402"/><rect class="hb" x="498.2" y="288.7" fill="#482202"/><rect class="hb" x="504.2" y="288.7" fill="#482102"/><rect class="hb" x="510.2" y="288.7" fill="#4c2302"/><rect class="hb" x="516.2" y="288.7" fill="#502502"/><rect class="hb" x="522.2" y="288.7" fill="#512602"/><rect class="hb" x="528.2" y="288.7" fill="#512602"/><rect class="hb" x="534.2" y="288.7" fill="#512602"/><rect class="hb" x="540.2" y="288.7" fill="#522602"/><rect class="hb" x="546.2" y="288.7" fill="#532702"/><rect class="hb" x="552.2" y="288.7" fill="#542802"/><rect class="hb" x="558.2" y="288.7" fill="#552802"/><rect class="hb" x="564.2" y="288.7" fill="#572902"/><rect class="hb" x="570.2" y="288.7" fill="#5b2b02"/><rect class="hb" x="576.2" y="288.7" fill="#632f02"/><rect class="hb" x="582.2" y="288.7" fill="#6b3203"/><rect class="hb" x="588.2" y="288.7" fill="#763703"/><rect class="hb" x="594.2" y="288.7" fill="#823e03"/><rect class="hb" x="600.2" y="288.7" fill="#904503"/><rect class="hb" x="606.2" y="288.7" fill="#9d4c04"/><rect class="hb" x="612.2" y="288.7" fill="#aa5304"/><rect class="hb" x="618.2" y="288.7" fill="#b85a04"/><rect class="hb" x="624.2" y="288.7" fill="#c56105"/><rect class="hb" x="630.2" y="288.7" fill="#ca6405"/><rect class="hb" x="636.2" y="288.7" fill="#ca6405"/><rect class="hb" x="642.2" y="288.7" fill="#ca6405"/><rect class="hb" x="396.2" y="294.7" fill="#fcddc0"/><rect class="hb" x="402.2" y="294.7" fill="#fcddc0"/><rect class="hb" x="408.2" y="294.7" fill="#fcdbbc"/><rect class="hb" x="414.2" y="294.7" fill="#fbd5b0"/><rect class="hb" x="420.2" y="294.7" fill="#fbcfa5"/><rect class="hb" x="426.2" y="294.7" fill="#fac89a"/><rect class="hb" x="432.2" y="294.7" fill="#fac390"/><rect class="hb" x="438.2" y="294.7" fill="#f9bc83"/><rect class="hb" x="444.2" y="294.7" fill="#f9b06d"/><rect class="hb" x="450.2" y="294.7" fill="#f9a253"/><rect class="hb" x="456.2" y="294.7" fill="#fb8a21"/><rect class="hb" x="462.2" y="294.7" fill="#f9800e"/><rect class="hb" x="468.2" y="294.7" fill="#df7007"/><rect class="hb" x="474.2" y="294.7" fill="#be5d04"/><rect class="hb" x="480.2" y="294.7" fill="#904503"/><rect class="hb" x="486.2" y="294.7" fill="#632e02"/><rect class="hb" x="492.2" y="294.7" fill="#4e2402"/><rect class="hb" x="498.2" y="294.7" fill="#482202"/><rect class="hb" x="504.2" y="294.7" fill="#482102"/><rect class="hb" x="510.2" y="294.7" fill="#4c2302"/><rect class="hb" x="516.2" y="294.7" fill="#502502"/><rect class="hb" x="522.2" y="294.7" fill="#512602"/><rect class="hb" x="528.2" y="294.7" fill="#512602"/><rect class="hb" x="534.2" y="294.7" fill="#512602"/><rect class="hb" x="540.2" y="294.7" fill="#522602"/><rect class="hb" x="546.2" y="294.7" fill="#532702"/><rect class="hb" x="552.2" y="294.7" fill="#542802"/><rect class="hb" x="558.2" y="294.7" fill="#552802"/><rect class="hb" x="564.2" y="294.7" fill="#572902"/><rect class="hb" x="570.2" y="294.7" fill="#5b2b02"/><rect class="hb" x="576.2" y="294.7" fill="#632f02"/><rect class="hb" x="582.2" y="294.7" fill="#6b3203"/><rect class="hb" x="588.2" y="294.7" fill="#763703"/><rect class="hb" x="594.2" y="294.7" fill="#823e03"/><rect class="hb" x="600.2" y="294.7" fill="#904503"/><rect class="hb" x="606.2" y="294.7" fill="#9d4c04"/><rect class="hb" x="612.2" y="294.7" fill="#aa5304"/><rect class="hb" x="618.2" y="294.7" fill="#b85a04"/><rect class="hb" x="624.2" y="294.7" fill="#c56105"/><rect class="hb" x="630.2" y="294.7" fill="#ca6405"/><rect class="hb" x="636.2" y="294.7" fill="#ca6405"/><rect class="hb" x="642.2" y="294.7" fill="#ca6405"/>
</g>
<rect x="408.2" y="36.7" width="222.8" height="247.7" filter="url(#streak)" opacity="0.28"/>
</g>
<filter id="blhb" x="-10%" y="-10%" width="120%" height="120%" color-interpolation-filters="sRGB"><feGaussianBlur stdDeviation="3"/></filter>
<rect x="408.2" y="36.7" width="222.8" height="247.7" fill="none" stroke="#555" stroke-width="1"/>
<line x1="436.2" y1="284.4" x2="436.2" y2="279" stroke="#222" stroke-width="1.3"/>
<line x1="491.6" y1="284.4" x2="491.6" y2="279" stroke="#222" stroke-width="1.3"/>
<line x1="547.0" y1="284.4" x2="547.0" y2="279" stroke="#222" stroke-width="1.3"/>
<line x1="602.4" y1="284.4" x2="602.4" y2="279" stroke="#222" stroke-width="1.3"/>
<line x1="463.9" y1="284.4" x2="463.9" y2="281.5" stroke="#222" stroke-width="1.1"/>
<line x1="519.3" y1="284.4" x2="519.3" y2="281.5" stroke="#222" stroke-width="1.1"/>
<line x1="574.7" y1="284.4" x2="574.7" y2="281.5" stroke="#222" stroke-width="1.1"/>
<line x1="630.1" y1="284.4" x2="630.1" y2="281.5" stroke="#222" stroke-width="1.1"/>
<line x1="408.2" y1="283.1" x2="414.4" y2="283.1" stroke="#222" stroke-width="1.3"/>
<line x1="408.2" y1="219.9" x2="414.4" y2="219.9" stroke="#222" stroke-width="1.3"/>
<line x1="408.2" y1="156.7" x2="414.4" y2="156.7" stroke="#222" stroke-width="1.3"/>
<line x1="408.2" y1="93.5" x2="414.4" y2="93.5" stroke="#222" stroke-width="1.3"/>
<text x="437.7" y="304.8" font-size="21.5" text-anchor="middle">-0.4</text>
<text x="493.1" y="304.8" font-size="21.5" text-anchor="middle">0</text>
<text x="547.0" y="304.8" font-size="21.5" text-anchor="middle">0.4</text>
<text x="603.4" y="304.8" font-size="21.5" text-anchor="middle">0.8</text>
<text x="404.8" y="290.1" font-size="21.5" text-anchor="end">0</text>
<text x="404.8" y="226.9" font-size="21.5" text-anchor="end">1</text>
<text x="404.8" y="163.7" font-size="21.5" text-anchor="end">2</text>
<text x="404.8" y="100.5" font-size="21.5" text-anchor="end">3</text>
<text x="522.8" y="328.0" font-size="21.5" text-anchor="middle">Sample Bias (V)</text>
<text transform="translate(383.3,158.5) rotate(-90)" font-size="21.8" text-anchor="middle">Distance (nm)</text>
<linearGradient id="cb202" x1="0" y1="0" x2="0" y2="1"><stop offset="0.00" stop-color="#fffaf0"/><stop offset="0.15" stop-color="#ffe1b4"/><stop offset="0.27" stop-color="#ffc882"/><stop offset="0.42" stop-color="#faa864"/><stop offset="0.52" stop-color="#f0965a"/><stop offset="0.62" stop-color="#c8784b"/><stop offset="0.72" stop-color="#965a37"/><stop offset="0.82" stop-color="#643c28"/><stop offset="0.92" stop-color="#321e14"/><stop offset="1.00" stop-color="#0f0805"/></linearGradient>
<rect x="648.3" y="203.0" width="16.2" height="51.8" fill="url(#cb202)" stroke="#111" stroke-width="2"/>
<text x="659.0" y="193.4" font-size="21.5" text-anchor="middle">High</text>
<text x="659.5" y="278.8" font-size="21.5" text-anchor="middle">Low</text>
<clipPath id="cpc"><rect x="711.1" y="23.3" width="286.5" height="286.3"/></clipPath>
<g clip-path="url(#cpc)">
<rect x="711.1" y="23.3" width="286.5" height="286.3" fill="#2d69ae"/>
<clipPath id="cpl"><polygon points="976.6,20.0 976.6,23.5 975.5,38.5 974.3,66.2 972.0,80.1 969.7,89.4 968.6,112.5 967.4,126.4 962.8,135.6 957.0,144.9 950.1,154.1 943.1,163.4 936.2,172.6 930.0,183.1 925.4,196.9 916.2,213.1 904.6,227.0 895.4,238.5 888.5,252.4 881.6,261.6 875.0,271.8 861.5,276.9 851.3,281.2 841.0,286.3 834.3,291.4 824.0,293.9 813.8,298.2 806.0,300.0 800.2,300.7 790.0,297.3 778.1,295.6 769.6,296.5 761.1,295.6 747.5,293.9 734.8,289.7 722.0,288.8 711.0,287.1 705.0,287.0 705.0,20.0"/></clipPath>
<clipPath id="cpd"><path clip-rule="evenodd" d="M700 10H1000V320H700Z M976.6 20.0 L976.6 23.5 L975.5 38.5 L974.3 66.2 L972.0 80.1 L969.7 89.4 L968.6 112.5 L967.4 126.4 L962.8 135.6 L957.0 144.9 L950.1 154.1 L943.1 163.4 L936.2 172.6 L930.0 183.1 L925.4 196.9 L916.2 213.1 L904.6 227.0 L895.4 238.5 L888.5 252.4 L881.6 261.6 L875.0 271.8 L861.5 276.9 L851.3 281.2 L841.0 286.3 L834.3 291.4 L824.0 293.9 L813.8 298.2 L806.0 300.0 L800.2 300.7 L790.0 297.3 L778.1 295.6 L769.6 296.5 L761.1 295.6 L747.5 293.9 L734.8 289.7 L722.0 288.8 L711.0 287.1 L705.0 287.0 L705.0 20.0 Z"/></clipPath>
<polygon points="976.6,20.0 976.6,23.5 975.5,38.5 974.3,66.2 972.0,80.1 969.7,89.4 968.6,112.5 967.4,126.4 962.8,135.6 957.0,144.9 950.1,154.1 943.1,163.4 936.2,172.6 930.0,183.1 925.4,196.9 916.2,213.1 904.6,227.0 895.4,238.5 888.5,252.4 881.6,261.6 875.0,271.8 861.5,276.9 851.3,281.2 841.0,286.3 834.3,291.4 824.0,293.9 813.8,298.2 806.0,300.0 800.2,300.7 790.0,297.3 778.1,295.6 769.6,296.5 761.1,295.6 747.5,293.9 734.8,289.7 722.0,288.8 711.0,287.1 705.0,287.0 705.0,20.0" fill="#b8cce2"/>
<g clip-path="url(#cpl)">
<rect x="711.1" y="23.3" width="286.5" height="286.3" filter="url(#turbc)" opacity="0.4"/>
<g transform="rotate(60 855 166)"><rect x="640" y="-50" width="430" height="432" filter="url(#turbc3)" opacity="0.3"/></g>
<polyline points="976.6,23.5 975.5,38.5 974.3,66.2 972.0,80.1 969.7,89.4 968.6,112.5 967.4,126.4 962.8,135.6 957.0,144.9 950.1,154.1 943.1,163.4 936.2,172.6 930.0,183.1 925.4,196.9 916.2,213.1 904.6,227.0 895.4,238.5 888.5,252.4 881.6,261.6 875.0,271.8 861.5,276.9 851.3,281.2 841.0,286.3 834.3,291.4 824.0,293.9 813.8,298.2 806.0,300.0 800.2,300.7 790.0,297.3 778.1,295.6 769.6,296.5 761.1,295.6 747.5,293.9 734.8,289.7 722.0,288.8" fill="none" stroke="#dfe6ee" stroke-width="9" stroke-linejoin="round" opacity="0.75" filter="url(#blrim)"/>
</g>
<filter id="blrim" x="-10%" y="-10%" width="120%" height="120%"><feGaussianBlur stdDeviation="2.5"/></filter>
<rect x="711.1" y="23.3" width="286.5" height="286.3" filter="url(#turbc2)" opacity="0.25" clip-path="url(#cpd)"/>
<g fill="#f4f6f8" opacity="0.9" filter="url(#bldot)"><circle cx="779.3" cy="179.1" r="2.2"/><circle cx="884.1" cy="202.4" r="1.7"/><circle cx="714.9" cy="263.1" r="2.0"/><circle cx="754.3" cy="205.1" r="2.9"/><circle cx="861.0" cy="235.5" r="2.6"/><circle cx="729.4" cy="240.4" r="2.5"/><circle cx="797.4" cy="32.2" r="2.9"/><circle cx="846.5" cy="229.1" r="2.9"/><circle cx="940.6" cy="150.6" r="3.0"/><circle cx="962.9" cy="51.2" r="1.8"/><circle cx="890.6" cy="109.5" r="2.4"/><circle cx="821.7" cy="123.8" r="2.5"/><circle cx="903.4" cy="70.0" r="2.9"/><circle cx="915.6" cy="83.7" r="2.8"/><circle cx="875.4" cy="104.9" r="1.7"/><circle cx="940.5" cy="140.8" r="1.8"/><circle cx="795.3" cy="243.4" r="2.9"/><circle cx="723.8" cy="199.2" r="1.7"/><circle cx="916.9" cy="118.1" r="2.9"/><circle cx="799.8" cy="45.3" r="2.5"/><circle cx="720.1" cy="79.8" r="2.2"/><circle cx="886.0" cy="68.0" r="1.7"/><circle cx="959.7" cy="113.1" r="3.0"/><circle cx="860.1" cy="207.6" r="2.5"/><circle cx="871.3" cy="200.8" r="3.0"/><circle cx="856.4" cy="146.8" r="2.7"/><circle cx="779.2" cy="109.5" r="3.1"/><circle cx="860.4" cy="180.3" r="1.6"/><circle cx="830.1" cy="189.3" r="1.6"/><circle cx="887.5" cy="204.3" r="1.7"/><circle cx="890.8" cy="156.8" r="2.6"/><circle cx="812.1" cy="225.7" r="2.7"/><circle cx="717.5" cy="40.6" r="2.6"/><circle cx="880.9" cy="114.9" r="2.1"/><circle cx="800.7" cy="129.0" r="2.5"/><circle cx="797.2" cy="131.3" r="2.8"/><circle cx="718.8" cy="186.3" r="2.7"/><circle cx="799.9" cy="87.0" r="2.8"/><circle cx="779.5" cy="77.0" r="2.3"/><circle cx="911.1" cy="52.5" r="2.1"/><circle cx="806.7" cy="261.9" r="2.3"/><circle cx="956.2" cy="71.8" r="2.1"/><circle cx="775.6" cy="57.9" r="2.4"/><circle cx="765.8" cy="254.3" r="2.9"/><circle cx="763.7" cy="103.1" r="2.8"/><circle cx="748.3" cy="106.9" r="2.8"/><circle cx="788.8" cy="122.5" r="2.2"/><circle cx="831.4" cy="140.5" r="3.0"/><circle cx="755.8" cy="24.6" r="3.0"/><circle cx="859.8" cy="106.1" r="2.1"/><circle cx="776.3" cy="42.8" r="2.5"/><circle cx="793.3" cy="255.3" r="1.7"/><circle cx="714.9" cy="236.7" r="1.9"/><circle cx="797.0" cy="213.1" r="2.4"/><circle cx="829.6" cy="292.1" r="2.5"/><circle cx="808.9" cy="95.6" r="2.9"/><circle cx="847.8" cy="247.3" r="2.1"/><circle cx="767.6" cy="176.4" r="2.8"/><circle cx="760.2" cy="250.0" r="3.0"/><circle cx="788.9" cy="100.2" r="2.4"/><circle cx="832.3" cy="158.7" r="2.8"/><circle cx="711.6" cy="39.0" r="1.8"/><circle cx="746.8" cy="42.9" r="3.1"/><circle cx="955.9" cy="48.0" r="2.4"/><circle cx="801.6" cy="113.4" r="2.1"/><circle cx="896.4" cy="191.2" r="2.1"/><circle cx="765.8" cy="117.4" r="1.8"/><circle cx="870.3" cy="228.3" r="2.2"/><circle cx="734.0" cy="74.4" r="2.2"/><circle cx="884.3" cy="247.4" r="2.2"/><circle cx="817.8" cy="165.3" r="2.7"/><circle cx="831.6" cy="222.0" r="2.3"/><circle cx="781.3" cy="176.7" r="2.6"/><circle cx="731.6" cy="144.9" r="2.2"/><circle cx="844.1" cy="58.6" r="2.8"/><circle cx="740.6" cy="191.6" r="1.6"/><circle cx="752.2" cy="245.0" r="1.7"/><circle cx="737.4" cy="51.7" r="2.9"/><circle cx="762.4" cy="30.0" r="2.9"/><circle cx="745.8" cy="264.9" r="2.6"/><circle cx="939.9" cy="33.7" r="2.8"/><circle cx="857.6" cy="228.0" r="1.8"/><circle cx="804.0" cy="184.8" r="2.8"/><circle cx="780.5" cy="74.8" r="2.0"/><circle cx="887.6" cy="239.0" r="2.2"/><circle cx="816.4" cy="136.9" r="2.1"/><circle cx="830.9" cy="47.1" r="2.4"/><circle cx="757.1" cy="221.1" r="2.7"/><circle cx="904.2" cy="171.3" r="2.3"/><circle cx="738.6" cy="237.5" r="3.0"/><circle cx="859.3" cy="150.1" r="2.7"/><circle cx="764.4" cy="99.8" r="1.9"/><circle cx="878.9" cy="113.4" r="1.9"/><circle cx="913.2" cy="141.6" r="2.9"/><circle cx="878.6" cy="99.8" r="1.9"/><circle cx="717.7" cy="160.6" r="2.2"/><circle cx="760.4" cy="126.5" r="2.1"/><circle cx="932.9" cy="64.4" r="3.1"/><circle cx="848.5" cy="194.8" r="2.3"/><circle cx="849.0" cy="229.6" r="2.9"/><circle cx="825.8" cy="233.3" r="3.0"/><circle cx="845.0" cy="89.0" r="2.0"/><circle cx="955.7" cy="92.6" r="1.9"/><circle cx="785.2" cy="76.9" r="2.7"/><circle cx="959.0" cy="113.0" r="2.2"/><circle cx="919.9" cy="47.9" r="1.7"/><circle cx="950.0" cy="106.8" r="2.1"/><circle cx="877.4" cy="216.7" r="1.6"/><circle cx="807.0" cy="148.2" r="2.3"/><circle cx="771.3" cy="190.8" r="3.0"/><circle cx="823.1" cy="179.1" r="1.8"/><circle cx="789.8" cy="213.8" r="1.8"/><circle cx="928.1" cy="107.9" r="2.6"/><circle cx="864.7" cy="55.7" r="2.3"/><circle cx="812.0" cy="228.9" r="2.6"/><circle cx="873.4" cy="75.4" r="2.6"/><circle cx="891.8" cy="74.6" r="2.9"/><circle cx="898.9" cy="58.6" r="3.0"/><circle cx="751.6" cy="118.2" r="2.7"/><circle cx="882.3" cy="182.2" r="2.6"/><circle cx="842.2" cy="112.8" r="1.9"/><circle cx="730.8" cy="228.2" r="2.7"/><circle cx="866.7" cy="235.1" r="2.1"/><circle cx="787.3" cy="133.1" r="2.9"/><circle cx="723.2" cy="167.8" r="2.0"/><circle cx="931.4" cy="124.7" r="2.1"/><circle cx="826.7" cy="178.3" r="2.8"/><circle cx="812.2" cy="265.8" r="1.8"/><circle cx="788.6" cy="51.8" r="1.8"/><circle cx="765.3" cy="142.6" r="2.7"/><circle cx="753.1" cy="137.4" r="1.9"/><circle cx="862.3" cy="186.0" r="1.9"/><circle cx="782.8" cy="247.1" r="1.6"/><circle cx="820.9" cy="181.5" r="2.5"/><circle cx="796.9" cy="269.5" r="2.3"/><circle cx="883.4" cy="231.4" r="1.6"/><circle cx="861.1" cy="155.2" r="1.9"/><circle cx="862.8" cy="33.9" r="2.4"/><circle cx="896.2" cy="150.5" r="2.4"/><circle cx="814.2" cy="90.1" r="1.7"/></g>
<g fill="#5f95d0" opacity="0.7" filter="url(#bldot)"><circle cx="778.2" cy="308.4" r="2.0"/><circle cx="950.7" cy="159.7" r="2.2"/><circle cx="915.7" cy="287.0" r="1.9"/><circle cx="773.3" cy="299.7" r="2.0"/><circle cx="878.5" cy="282.2" r="2.3"/><circle cx="977.2" cy="268.5" r="2.6"/><circle cx="987.5" cy="282.3" r="2.1"/><circle cx="955.8" cy="306.7" r="1.6"/><circle cx="992.1" cy="168.0" r="2.6"/><circle cx="968.0" cy="131.5" r="2.0"/><circle cx="987.1" cy="95.2" r="2.0"/><circle cx="897.4" cy="276.6" r="2.0"/><circle cx="895.0" cy="254.1" r="1.9"/><circle cx="963.2" cy="305.9" r="2.0"/><circle cx="983.3" cy="288.8" r="1.7"/><circle cx="924.7" cy="262.8" r="2.2"/><circle cx="970.0" cy="221.9" r="2.5"/><circle cx="968.0" cy="280.9" r="2.1"/><circle cx="942.0" cy="259.1" r="1.5"/><circle cx="891.2" cy="270.2" r="1.6"/><circle cx="940.6" cy="201.6" r="2.0"/><circle cx="963.1" cy="291.4" r="1.9"/><circle cx="968.3" cy="249.7" r="1.8"/><circle cx="900.8" cy="277.3" r="2.4"/><circle cx="902.4" cy="233.4" r="2.1"/><circle cx="950.7" cy="296.0" r="2.1"/><circle cx="925.7" cy="290.9" r="1.6"/><circle cx="989.9" cy="141.5" r="2.3"/><circle cx="895.3" cy="280.2" r="1.7"/><circle cx="909.1" cy="296.3" r="1.8"/><circle cx="950.2" cy="258.5" r="2.1"/><circle cx="916.7" cy="216.7" r="2.6"/><circle cx="957.1" cy="280.9" r="1.8"/><circle cx="965.3" cy="283.5" r="1.6"/><circle cx="980.8" cy="130.4" r="2.3"/><circle cx="898.5" cy="254.1" r="1.8"/><circle cx="927.2" cy="298.5" r="2.2"/><circle cx="934.3" cy="231.5" r="1.7"/><circle cx="944.8" cy="237.7" r="2.2"/><circle cx="941.2" cy="278.5" r="2.5"/><circle cx="892.6" cy="303.0" r="2.3"/><circle cx="931.8" cy="212.8" r="2.0"/><circle cx="985.9" cy="278.7" r="1.6"/><circle cx="938.1" cy="201.7" r="1.6"/><circle cx="865.5" cy="289.5" r="1.9"/><circle cx="960.5" cy="222.2" r="1.6"/><circle cx="957.0" cy="195.4" r="2.5"/><circle cx="916.2" cy="235.1" r="1.9"/><circle cx="942.2" cy="290.1" r="2.4"/><circle cx="968.8" cy="229.3" r="1.9"/><circle cx="718.7" cy="299.7" r="1.7"/><circle cx="844.4" cy="290.4" r="1.8"/><circle cx="944.5" cy="203.4" r="1.9"/><circle cx="988.8" cy="192.9" r="1.5"/><circle cx="990.1" cy="159.8" r="2.4"/><circle cx="973.9" cy="292.4" r="1.5"/><circle cx="982.3" cy="48.4" r="1.8"/><circle cx="905.9" cy="289.1" r="1.7"/><circle cx="923.1" cy="233.4" r="2.4"/><circle cx="869.6" cy="287.7" r="1.9"/><circle cx="895.1" cy="274.8" r="2.5"/><circle cx="825.5" cy="296.9" r="1.6"/><circle cx="777.0" cy="300.2" r="1.7"/><circle cx="934.9" cy="196.3" r="2.4"/><circle cx="984.7" cy="42.0" r="2.3"/><circle cx="988.2" cy="72.0" r="2.3"/><circle cx="987.0" cy="104.4" r="2.3"/><circle cx="989.4" cy="142.5" r="2.3"/><circle cx="966.2" cy="149.5" r="2.3"/><circle cx="966.2" cy="175.0" r="2.3"/><circle cx="958.0" cy="190.0" r="2.3"/><circle cx="975.0" cy="205.0" r="2.3"/><circle cx="948.0" cy="215.0" r="2.3"/><circle cx="985.0" cy="235.0" r="2.3"/><circle cx="935.0" cy="250.0" r="2.3"/><circle cx="960.0" cy="265.0" r="2.3"/><circle cx="920.0" cy="275.0" r="2.3"/><circle cx="945.0" cy="290.0" r="2.3"/><circle cx="905.0" cy="300.0" r="2.3"/><circle cx="880.0" cy="292.0" r="2.3"/><circle cx="985.0" cy="300.0" r="2.3"/><circle cx="990.0" cy="180.0" r="2.3"/></g>
</g>
<filter id="bldot" x="-5%" y="-5%" width="110%" height="110%"><feGaussianBlur stdDeviation="0.8"/></filter>
<filter id="turbc2" x="0" y="0" width="100%" height="100%" color-interpolation-filters="sRGB"><feTurbulence type="fractalNoise" baseFrequency="0.08" numOctaves="2" seed="12"/><feColorMatrix type="matrix" values="0 0 0 0 0.5  0 0 0 0 0.7  0 0 0 0 0.95  1.6 0 0 0 -0.75"/></filter>
<filter id="turbc3" x="0" y="0" width="100%" height="100%" color-interpolation-filters="sRGB"><feTurbulence type="fractalNoise" baseFrequency="0.06 0.45" numOctaves="2" seed="21"/><feColorMatrix type="matrix" values="0 0 0 0 0.45  0 0 0 0 0.6  0 0 0 0 0.8  -2.0 0 0 0 1.1"/></filter>
<filter id="turbc" x="0" y="0" width="100%" height="100%" color-interpolation-filters="sRGB"><feTurbulence type="fractalNoise" baseFrequency="0.25 0.35" numOctaves="2" seed="4"/><feColorMatrix type="matrix" values="0 0 0 0 1  0 0 0 0 1  0 0 0 0 1  1.2 0 0 0 -0.45"/></filter>
<rect x="996.6" y="23.3" width="1" height="286.3" fill="#1a559c" opacity="0.7"/>
<rect x="711.1" y="308.6" width="286.5" height="1" fill="#1a559c" opacity="0.6"/>
<text x="783.2" y="110.5" font-size="26.5">bulk</text>
<circle cx="809.3" cy="127.2" r="4.6" fill="#000" stroke="#fff" stroke-width="1.4"/>
<line x1="926.6" y1="169.2" x2="950" y2="173.6" stroke="#000" stroke-width="1.6" stroke-dasharray="3.5,2.2"/>
<polygon points="958.9,175.2 949.2,169.5 947.7,178.0" fill="#000"/>
<circle cx="894.7" cy="240.8" r="4.3" fill="#f6a81e" stroke="#fff" stroke-width="1.6"/>
<circle cx="848.2" cy="283.0" r="4.3" fill="#18b450" stroke="#fff" stroke-width="1.6"/>
<circle cx="751.9" cy="292.1" r="4.3" fill="#ee1c24" stroke="#fff" stroke-width="1.6"/>
<line x1="932.4" y1="240.8" x2="910" y2="228.6" stroke="#f0b020" stroke-width="1.5"/>
<polygon points="904.6,225.8 913.8,226.9 909.6,233.3" fill="#f0b020"/>
<text x="931.2" y="261.6" font-size="20.3" fill="#f0b020" stroke="#f0b020" stroke-width="0.45">AE1</text>
<line x1="753.6" y1="263.9" x2="739.2" y2="283.5" stroke="#ee1c24" stroke-width="1.5"/>
<polygon points="735.1,289.3 736.2,279.6 742.8,284.4" fill="#ee1c24"/>
<text x="735.6" y="260.9" font-size="21.0" fill="#ee1c24" stroke="#ee1c24" stroke-width="0.45">AE2</text>
<line x1="818.2" y1="263.9" x2="829.2" y2="285.5" stroke="#18b450" stroke-width="1.5"/>
<polygon points="832.1,291.6 825.2,284.8 832.3,281.3" fill="#18b450"/>
<text x="804.6" y="252.4" font-size="21.5" fill="#18b450" stroke="#18b450" stroke-width="0.45">ZE</text>
<text x="934.2" y="290.5" font-size="21.5">9 nm</text>
<rect x="928.9" y="298.5" width="58.2" height="4.2" fill="#000"/>
<rect x="62.5" y="394.3" width="275.3" height="254" fill="none" stroke="#555" stroke-width="1.4"/>
<line x1="64.2" y1="648.3" x2="64.2" y2="642.6" stroke="#555" stroke-width="1.3"/>
<line x1="118.6" y1="648.3" x2="118.6" y2="642.6" stroke="#555" stroke-width="1.3"/>
<line x1="173.0" y1="648.3" x2="173.0" y2="642.6" stroke="#555" stroke-width="1.3"/>
<line x1="227.4" y1="648.3" x2="227.4" y2="642.6" stroke="#555" stroke-width="1.3"/>
<line x1="281.8" y1="648.3" x2="281.8" y2="642.6" stroke="#555" stroke-width="1.3"/>
<line x1="336.2" y1="648.3" x2="336.2" y2="642.6" stroke="#555" stroke-width="1.3"/>
<line x1="62.5" y1="612.0" x2="68" y2="612.0" stroke="#555" stroke-width="1.3"/>
<line x1="62.5" y1="575.8" x2="68" y2="575.8" stroke="#555" stroke-width="1.3"/>
<line x1="62.5" y1="539.6" x2="68" y2="539.6" stroke="#555" stroke-width="1.3"/>
<line x1="62.5" y1="503.4" x2="68" y2="503.4" stroke="#555" stroke-width="1.3"/>
<line x1="62.5" y1="467.2" x2="68" y2="467.2" stroke="#555" stroke-width="1.3"/>
<line x1="62.5" y1="431.0" x2="68" y2="431.0" stroke="#555" stroke-width="1.3"/>
<text x="60.0" y="665.8" font-size="21.5" text-anchor="middle">-0.5</text>
<text x="120.3" y="665.8" font-size="21.5" text-anchor="middle">0</text>
<text x="177.3" y="665.8" font-size="21.5" text-anchor="middle">0.5</text>
<text x="226.5" y="665.8" font-size="21.5" text-anchor="middle">1</text>
<text x="282.0" y="665.8" font-size="21.5" text-anchor="middle">1.5</text>
<text x="337.8" y="665.8" font-size="21.5" text-anchor="middle">2</text>
<text x="55.4" y="619.0" font-size="21.5" text-anchor="end">3</text>
<text x="55.4" y="582.8" font-size="21.5" text-anchor="end">4</text>
<text x="55.4" y="546.6" font-size="21.5" text-anchor="end">5</text>
<text x="55.4" y="510.4" font-size="21.5" text-anchor="end">6</text>
<text x="55.4" y="474.2" font-size="21.5" text-anchor="end">7</text>
<text x="55.4" y="438.0" font-size="21.5" text-anchor="end">8</text>
<text x="207.3" y="687.0" font-size="21.5" text-anchor="middle">Sample Bias (V)</text>
<text transform="translate(31.4,514.3) rotate(-90)" font-size="21.8" text-anchor="middle">dI/dV (a.u.)</text>
<polyline points="64.0,599.8 68.1,597.2 72.7,600.4 78.5,604.5 83.1,603.9 87.7,605.6 94.6,604.5 103.9,610.8 112.0,611.5 122.4,611.4 129.3,610.2 136.2,609.9 140.8,608.5 147.8,600.4 154.7,592.9 159.0,589.8 166.5,594.4 171.2,594.6 176.9,597.5 181.6,598.1 187.3,596.4 193.1,598.1 198.9,596.7 203.5,596.7 210.4,598.5 213.9,598.5 218.5,596.0 223.1,597.0 227.7,595.2 231.8,596.7 235.8,592.3 240.5,590.3 246.2,585.4 250.8,582.5 253.5,581.4 258.7,573.6 263.8,570.2 269.0,561.5 276.0,551.1 281.1,540.8 287.2,532.1 289.2,529.5 294.3,519.4 298.3,511.3 302.3,497.1 306.4,483.0 310.4,468.8 313.5,458.7 317.5,448.6 320.5,438.5 323.6,430.4 328.6,422.3 331.7,414.3 335.7,403.1" fill="none" stroke="#ffa500" stroke-width="2.1" stroke-linejoin="round"/>
<polyline points="64.0,586.3 70.4,586.0 76.2,590.0 81.9,593.5 88.9,599.3 93.5,598.1 98.1,602.7 106.2,612.0 115.4,610.8 122.4,616.6 129.3,620.0 136.2,625.8 143.1,622.4 152.4,616.6 158.5,613.7 164.2,616.0 170.0,616.6 175.8,618.9 181.6,620.0 188.5,617.7 193.1,615.2 201.2,615.8 209.3,614.8 216.2,611.4 220.8,609.7 226.6,607.3 231.2,606.8 237.0,603.3 241.6,603.0 247.4,599.8 250.0,598.7 258.7,591.8 267.3,584.9 276.0,578.0 284.6,571.0 291.5,565.9 300.2,559.8 310.6,553.7 319.2,550.3 324.4,548.6 329.6,544.2 335.7,539.0" fill="none" stroke="#00c050" stroke-width="2.5" stroke-linejoin="round"/>
<polyline points="64.0,593.5 69.2,594.1 77.3,600.4 83.1,603.3 88.9,606.8 94.6,604.5 101.6,608.5 107.3,612.0 116.6,607.9 123.5,614.3 129.3,616.6 135.1,619.5 143.1,617.7 152.4,613.1 159.6,612.5 164.8,613.9 171.2,610.8 174.6,612.5 179.2,616.0 185.0,616.9 189.6,616.6 195.4,614.3 203.5,612.5 208.1,611.4 216.2,606.8 224.3,603.3 230.1,601.6 237.0,600.4 242.8,600.4 248.5,597.5 250.0,597.0 258.7,593.0 267.3,590.1 276.0,585.8 282.9,580.6 286.3,579.7 290.7,575.4 296.7,577.1 303.6,581.4 310.6,584.9 315.8,580.6 320.1,580.6 326.1,572.8 331.3,569.3 335.7,564.1" fill="none" stroke="#ff0000" stroke-width="2.7" stroke-linejoin="round"/>
<polyline points="64.0,584.5 68.1,586.0 71.5,587.7 77.3,592.9 83.1,597.0 88.9,601.0 94.6,603.9 99.3,608.5 103.9,614.8 108.5,618.3 115.4,620.0 121.2,624.7 129.3,627.0 135.1,627.9 140.8,626.7 147.8,624.4 154.7,623.3 158.5,623.5 164.2,626.4 171.2,627.6 176.9,628.1 185.0,626.4 193.1,625.8 200.0,625.2 205.8,626.4 212.7,626.7 218.5,625.8 228.9,627.0 238.1,627.9 245.1,626.7 250.4,626.8 258.7,623.8 267.3,622.1 276.0,619.5 284.6,617.8 291.5,618.6 301.9,614.8 308.8,613.4 314.0,610.8 317.5,611.4 322.7,603.9 327.9,598.7 332.2,591.8 335.7,584.0" fill="none" stroke="#000" stroke-width="2.7" stroke-linejoin="round"/>
<style>.he{width:5.6px;height:5.6px}</style>
<clipPath id="hec"><rect x="413.2" y="389.0" width="213.0" height="255.6"/></clipPath>
<g clip-path="url(#hec)"><g filter="url(#blhe)">
<rect class="he" x="403.2" y="379" fill="#8d4403"/><rect class="he" x="408.2" y="379" fill="#8d4403"/><rect class="he" x="413.2" y="379" fill="#8c4303"/><rect class="he" x="418.2" y="379" fill="#8e4403"/><rect class="he" x="423.2" y="379" fill="#7d3b03"/><rect class="he" x="428.2" y="379" fill="#6d3303"/><rect class="he" x="433.2" y="379" fill="#6e3403"/><rect class="he" x="438.2" y="379" fill="#5e2c02"/><rect class="he" x="443.2" y="379" fill="#522602"/><rect class="he" x="448.2" y="379" fill="#4e2402"/><rect class="he" x="453.2" y="379" fill="#3a1b01"/><rect class="he" x="458.2" y="379" fill="#331701"/><rect class="he" x="463.2" y="379" fill="#2d1401"/><rect class="he" x="468.2" y="379" fill="#251001"/><rect class="he" x="473.2" y="379" fill="#261101"/><rect class="he" x="478.2" y="379" fill="#241001"/><rect class="he" x="483.2" y="379" fill="#210f01"/><rect class="he" x="488.2" y="379" fill="#220f01"/><rect class="he" x="493.2" y="379" fill="#210f01"/><rect class="he" x="498.2" y="379" fill="#200e01"/><rect class="he" x="503.2" y="379" fill="#220f01"/><rect class="he" x="508.2" y="379" fill="#200e01"/><rect class="he" x="513.2" y="379" fill="#200e01"/><rect class="he" x="518.2" y="379" fill="#220f01"/><rect class="he" x="523.2" y="379" fill="#200e01"/><rect class="he" x="528.2" y="379" fill="#210f01"/><rect class="he" x="533.2" y="379" fill="#251001"/><rect class="he" x="538.2" y="379" fill="#241001"/><rect class="he" x="543.2" y="379" fill="#291201"/><rect class="he" x="548.2" y="379" fill="#2b1301"/><rect class="he" x="553.2" y="379" fill="#2c1401"/><rect class="he" x="558.2" y="379" fill="#331701"/><rect class="he" x="563.2" y="379" fill="#351801"/><rect class="he" x="568.2" y="379" fill="#381a01"/><rect class="he" x="573.2" y="379" fill="#3f1d01"/><rect class="he" x="578.2" y="379" fill="#401d01"/><rect class="he" x="583.2" y="379" fill="#431f02"/><rect class="he" x="588.2" y="379" fill="#492202"/><rect class="he" x="593.2" y="379" fill="#492202"/><rect class="he" x="598.2" y="379" fill="#4e2402"/><rect class="he" x="603.2" y="379" fill="#542702"/><rect class="he" x="608.2" y="379" fill="#552802"/><rect class="he" x="613.2" y="379" fill="#5d2c02"/><rect class="he" x="618.2" y="379" fill="#622e02"/><rect class="he" x="623.2" y="379" fill="#642f02"/><rect class="he" x="628.2" y="379" fill="#642f02"/><rect class="he" x="633.2" y="379" fill="#642f02"/><rect class="he" x="403.2" y="384" fill="#8d4403"/><rect class="he" x="408.2" y="384" fill="#8d4403"/><rect class="he" x="413.2" y="384" fill="#8c4303"/><rect class="he" x="418.2" y="384" fill="#8e4403"/><rect class="he" x="423.2" y="384" fill="#7d3b03"/><rect class="he" x="428.2" y="384" fill="#6d3303"/><rect class="he" x="433.2" y="384" fill="#6e3403"/><rect class="he" x="438.2" y="384" fill="#5e2c02"/><rect class="he" x="443.2" y="384" fill="#522602"/><rect class="he" x="448.2" y="384" fill="#4e2402"/><rect class="he" x="453.2" y="384" fill="#3a1b01"/><rect class="he" x="458.2" y="384" fill="#331701"/><rect class="he" x="463.2" y="384" fill="#2d1401"/><rect class="he" x="468.2" y="384" fill="#251001"/><rect class="he" x="473.2" y="384" fill="#261101"/><rect class="he" x="478.2" y="384" fill="#241001"/><rect class="he" x="483.2" y="384" fill="#210f01"/><rect class="he" x="488.2" y="384" fill="#220f01"/><rect class="he" x="493.2" y="384" fill="#210f01"/><rect class="he" x="498.2" y="384" fill="#200e01"/><rect class="he" x="503.2" y="384" fill="#220f01"/><rect class="he" x="508.2" y="384" fill="#200e01"/><rect class="he" x="513.2" y="384" fill="#200e01"/><rect class="he" x="518.2" y="384" fill="#220f01"/><rect class="he" x="523.2" y="384" fill="#200e01"/><rect class="he" x="528.2" y="384" fill="#210f01"/><rect class="he" x="533.2" y="384" fill="#251001"/><rect class="he" x="538.2" y="384" fill="#241001"/><rect class="he" x="543.2" y="384" fill="#291201"/><rect class="he" x="548.2" y="384" fill="#2b1301"/><rect class="he" x="553.2" y="384" fill="#2c1401"/><rect class="he" x="558.2" y="384" fill="#331701"/><rect class="he" x="563.2" y="384" fill="#351801"/><rect class="he" x="568.2" y="384" fill="#381a01"/><rect class="he" x="573.2" y="384" fill="#3f1d01"/><rect class="he" x="578.2" y="384" fill="#401d01"/><rect class="he" x="583.2" y="384" fill="#431f02"/><rect class="he" x="588.2" y="384" fill="#492202"/><rect class="he" x="593.2" y="384" fill="#492202"/><rect class="he" x="598.2" y="384" fill="#4e2402"/><rect class="he" x="603.2" y="384" fill="#542702"/><rect class="he" x="608.2" y="384" fill="#552802"/><rect class="he" x="613.2" y="384" fill="#5d2c02"/><rect class="he" x="618.2" y="384" fill="#622e02"/><rect class="he" x="623.2" y="384" fill="#642f02"/><rect class="he" x="628.2" y="384" fill="#642f02"/><rect class="he" x="633.2" y="384" fill="#642f02"/><rect class="he" x="403.2" y="389" fill="#8d4403"/><rect class="he" x="408.2" y="389" fill="#8d4403"/><rect class="he" x="413.2" y="389" fill="#8c4303"/><rect class="he" x="418.2" y="389" fill="#8e4403"/><rect class="he" x="423.2" y="389" fill="#7d3b03"/><rect class="he" x="428.2" y="389" fill="#6d3303"/><rect class="he" x="433.2" y="389" fill="#6e3403"/><rect class="he" x="438.2" y="389" fill="#5e2c02"/><rect class="he" x="443.2" y="389" fill="#522602"/><rect class="he" x="448.2" y="389" fill="#4e2402"/><rect class="he" x="453.2" y="389" fill="#3a1b01"/><rect class="he" x="458.2" y="389" fill="#331701"/><rect class="he" x="463.2" y="389" fill="#2d1401"/><rect class="he" x="468.2" y="389" fill="#251001"/><rect class="he" x="473.2" y="389" fill="#261101"/><rect class="he" x="478.2" y="389" fill="#241001"/><rect class="he" x="483.2" y="389" fill="#210f01"/><rect class="he" x="488.2" y="389" fill="#220f01"/><rect class="he" x="493.2" y="389" fill="#210f01"/><rect class="he" x="498.2" y="389" fill="#200e01"/><rect class="he" x="503.2" y="389" fill="#220f01"/><rect class="he" x="508.2" y="389" fill="#200e01"/><rect class="he" x="513.2" y="389" fill="#200e01"/><rect class="he" x="518.2" y="389" fill="#220f01"/><rect class="he" x="523.2" y="389" fill="#200e01"/><rect class="he" x="528.2" y="389" fill="#210f01"/><rect class="he" x="533.2" y="389" fill="#251001"/><rect class="he" x="538.2" y="389" fill="#241001"/><rect class="he" x="543.2" y="389" fill="#291201"/><rect class="he" x="548.2" y="389" fill="#2b1301"/><rect class="he" x="553.2" y="389" fill="#2c1401"/><rect class="he" x="558.2" y="389" fill="#331701"/><rect class="he" x="563.2" y="389" fill="#351801"/><rect class="he" x="568.2" y="389" fill="#381a01"/><rect class="he" x="573.2" y="389" fill="#3f1d01"/><rect class="he" x="578.2" y="389" fill="#401d01"/><rect class="he" x="583.2" y="389" fill="#431f02"/><rect class="he" x="588.2" y="389" fill="#492202"/><rect class="he" x="593.2" y="389" fill="#492202"/><rect class="he" x="598.2" y="389" fill="#4e2402"/><rect class="he" x="603.2" y="389" fill="#542702"/><rect class="he" x="608.2" y="389" fill="#552802"/><rect class="he" x="613.2" y="389" fill="#5d2c02"/><rect class="he" x="618.2" y="389" fill="#622e02"/><rect class="he" x="623.2" y="389" fill="#642f02"/><rect class="he" x="628.2" y="389" fill="#642f02"/><rect class="he" x="633.2" y="389" fill="#642f02"/><rect class="he" x="403.2" y="394" fill="#8d4403"/><rect class="he" x="408.2" y="394" fill="#8d4403"/><rect class="he" x="413.2" y="394" fill="#8c4303"/><rect class="he" x="418.2" y="394" fill="#8e4403"/><rect class="he" x="423.2" y="394" fill="#7d3b03"/><rect class="he" x="428.2" y="394" fill="#6d3303"/><rect class="he" x="433.2" y="394" fill="#6e3403"/><rect class="he" x="438.2" y="394" fill="#5e2c02"/><rect class="he" x="443.2" y="394" fill="#522602"/><rect class="he" x="448.2" y="394" fill="#4e2402"/><rect class="he" x="453.2" y="394" fill="#3a1b01"/><rect class="he" x="458.2" y="394" fill="#331701"/><rect class="he" x="463.2" y="394" fill="#2d1401"/><rect class="he" x="468.2" y="394" fill="#251001"/><rect class="he" x="473.2" y="394" fill="#261101"/><rect class="he" x="478.2" y="394" fill="#241001"/><rect class="he" x="483.2" y="394" fill="#210f01"/><rect class="he" x="488.2" y="394" fill="#220f01"/><rect class="he" x="493.2" y="394" fill="#210f01"/><rect class="he" x="498.2" y="394" fill="#200e01"/><rect class="he" x="503.2" y="394" fill="#220f01"/><rect class="he" x="508.2" y="394" fill="#200e01"/><rect class="he" x="513.2" y="394" fill="#200e01"/><rect class="he" x="518.2" y="394" fill="#220f01"/><rect class="he" x="523.2" y="394" fill="#200e01"/><rect class="he" x="528.2" y="394" fill="#210f01"/><rect class="he" x="533.2" y="394" fill="#251001"/><rect class="he" x="538.2" y="394" fill="#241001"/><rect class="he" x="543.2" y="394" fill="#291201"/><rect class="he" x="548.2" y="394" fill="#2b1301"/><rect class="he" x="553.2" y="394" fill="#2c1401"/><rect class="he" x="558.2" y="394" fill="#331701"/><rect class="he" x="563.2" y="394" fill="#351801"/><rect class="he" x="568.2" y="394" fill="#381a01"/><rect class="he" x="573.2" y="394" fill="#3f1d01"/><rect class="he" x="578.2" y="394" fill="#401d01"/><rect class="he" x="583.2" y="394" fill="#431f02"/><rect class="he" x="588.2" y="394" fill="#492202"/><rect class="he" x="593.2" y="394" fill="#492202"/><rect class="he" x="598.2" y="394" fill="#4e2402"/><rect class="he" x="603.2" y="394" fill="#542702"/><rect class="he" x="608.2" y="394" fill="#552802"/><rect class="he" x="613.2" y="394" fill="#5d2c02"/><rect class="he" x="618.2" y="394" fill="#622e02"/><rect class="he" x="623.2" y="394" fill="#642f02"/><rect class="he" x="628.2" y="394" fill="#642f02"/><rect class="he" x="633.2" y="394" fill="#642f02"/><rect class="he" x="403.2" y="399" fill="#8d4403"/><rect class="he" x="408.2" y="399" fill="#8d4403"/><rect class="he" x="413.2" y="399" fill="#8c4303"/><rect class="he" x="418.2" y="399" fill="#8e4403"/><rect class="he" x="423.2" y="399" fill="#7d3b03"/><rect class="he" x="428.2" y="399" fill="#6d3303"/><rect class="he" x="433.2" y="399" fill="#6e3403"/><rect class="he" x="438.2" y="399" fill="#5e2c02"/><rect class="he" x="443.2" y="399" fill="#522602"/><rect class="he" x="448.2" y="399" fill="#4e2402"/><rect class="he" x="453.2" y="399" fill="#3a1b01"/><rect class="he" x="458.2" y="399" fill="#331701"/><rect class="he" x="463.2" y="399" fill="#2d1401"/><rect class="he" x="468.2" y="399" fill="#251001"/><rect class="he" x="473.2" y="399" fill="#261101"/><rect class="he" x="478.2" y="399" fill="#241001"/><rect class="he" x="483.2" y="399" fill="#210f01"/><rect class="he" x="488.2" y="399" fill="#220f01"/><rect class="he" x="493.2" y="399" fill="#210f01"/><rect class="he" x="498.2" y="399" fill="#200e01"/><rect class="he" x="503.2" y="399" fill="#220f01"/><rect class="he" x="508.2" y="399" fill="#200e01"/><rect class="he" x="513.2" y="399" fill="#200e01"/><rect class="he" x="518.2" y="399" fill="#220f01"/><rect class="he" x="523.2" y="399" fill="#200e01"/><rect class="he" x="528.2" y="399" fill="#210f01"/><rect class="he" x="533.2" y="399" fill="#251001"/><rect class="he" x="538.2" y="399" fill="#241001"/><rect class="he" x="543.2" y="399" fill="#291201"/><rect class="he" x="548.2" y="399" fill="#2b1301"/><rect class="he" x="553.2" y="399" fill="#2c1401"/><rect class="he" x="558.2" y="399" fill="#331701"/><rect class="he" x="563.2" y="399" fill="#351801"/><rect class="he" x="568.2" y="399" fill="#381a01"/><rect class="he" x="573.2" y="399" fill="#3f1d01"/><rect class="he" x="578.2" y="399" fill="#401d01"/><rect class="he" x="583.2" y="399" fill="#431f02"/><rect class="he" x="588.2" y="399" fill="#492202"/><rect class="he" x="593.2" y="399" fill="#492202"/><rect class="he" x="598.2" y="399" fill="#4e2402"/><rect class="he" x="603.2" y="399" fill="#542702"/><rect class="he" x="608.2" y="399" fill="#552802"/><rect class="he" x="613.2" y="399" fill="#5d2c02"/><rect class="he" x="618.2" y="399" fill="#622e02"/><rect class="he" x="623.2" y="399" fill="#642f02"/><rect class="he" x="628.2" y="399" fill="#642f02"/><rect class="he" x="633.2" y="399" fill="#642f02"/><rect class="he" x="403.2" y="404" fill="#8d4403"/><rect class="he" x="408.2" y="404" fill="#8d4403"/><rect class="he" x="413.2" y="404" fill="#8c4303"/><rect class="he" x="418.2" y="404" fill="#8e4403"/><rect class="he" x="423.2" y="404" fill="#7d3b03"/><rect class="he" x="428.2" y="404" fill="#6d3303"/><rect class="he" x="433.2" y="404" fill="#6e3403"/><rect class="he" x="438.2" y="404" fill="#5e2c02"/><rect class="he" x="443.2" y="404" fill="#522602"/><rect class="he" x="448.2" y="404" fill="#4e2402"/><rect class="he" x="453.2" y="404" fill="#3a1b01"/><rect class="he" x="458.2" y="404" fill="#331701"/><rect class="he" x="463.2" y="404" fill="#2d1401"/><rect class="he" x="468.2" y="404" fill="#251001"/><rect class="he" x="473.2" y="404" fill="#261101"/><rect class="he" x="478.2" y="404" fill="#241001"/><rect class="he" x="483.2" y="404" fill="#210f01"/><rect class="he" x="488.2" y="404" fill="#220f01"/><rect class="he" x="493.2" y="404" fill="#210f01"/><rect class="he" x="498.2" y="404" fill="#200e01"/><rect class="he" x="503.2" y="404" fill="#220f01"/><rect class="he" x="508.2" y="404" fill="#200e01"/><rect class="he" x="513.2" y="404" fill="#200e01"/><rect class="he" x="518.2" y="404" fill="#220f01"/><rect class="he" x="523.2" y="404" fill="#200e01"/><rect class="he" x="528.2" y="404" fill="#210f01"/><rect class="he" x="533.2" y="404" fill="#251001"/><rect class="he" x="538.2" y="404" fill="#241001"/><rect class="he" x="543.2" y="404" fill="#291201"/><rect class="he" x="548.2" y="404" fill="#2b1301"/><rect class="he" x="553.2" y="404" fill="#2c1401"/><rect class="he" x="558.2" y="404" fill="#331701"/><rect class="he" x="563.2" y="404" fill="#351801"/><rect class="he" x="568.2" y="404" fill="#381a01"/><rect class="he" x="573.2" y="404" fill="#3f1d01"/><rect class="he" x="578.2" y="404" fill="#401d01"/><rect class="he" x="583.2" y="404" fill="#431f02"/><rect class="he" x="588.2" y="404" fill="#492202"/><rect class="he" x="593.2" y="404" fill="#492202"/><rect class="he" x="598.2" y="404" fill="#4e2402"/><rect class="he" x="603.2" y="404" fill="#542702"/><rect class="he" x="608.2" y="404" fill="#552802"/><rect class="he" x="613.2" y="404" fill="#5d2c02"/><rect class="he" x="618.2" y="404" fill="#622e02"/><rect class="he" x="623.2" y="404" fill="#642f02"/><rect class="he" x="628.2" y="404" fill="#642f02"/><rect class="he" x="633.2" y="404" fill="#642f02"/><rect class="he" x="403.2" y="409" fill="#8d4403"/><rect class="he" x="408.2" y="409" fill="#8d4403"/><rect class="he" x="413.2" y="409" fill="#8c4303"/><rect class="he" x="418.2" y="409" fill="#8e4403"/><rect class="he" x="423.2" y="409" fill="#7d3b03"/><rect class="he" x="428.2" y="409" fill="#6d3303"/><rect class="he" x="433.2" y="409" fill="#6e3403"/><rect class="he" x="438.2" y="409" fill="#5e2c02"/><rect class="he" x="443.2" y="409" fill="#522602"/><rect class="he" x="448.2" y="409" fill="#4e2402"/><rect class="he" x="453.2" y="409" fill="#3a1b01"/><rect class="he" x="458.2" y="409" fill="#331701"/><rect class="he" x="463.2" y="409" fill="#2d1401"/><rect class="he" x="468.2" y="409" fill="#251001"/><rect class="he" x="473.2" y="409" fill="#251101"/><rect class="he" x="478.2" y="409" fill="#241001"/><rect class="he" x="483.2" y="409" fill="#210f01"/><rect class="he" x="488.2" y="409" fill="#220f01"/><rect class="he" x="493.2" y="409" fill="#210f01"/><rect class="he" x="498.2" y="409" fill="#200e01"/><rect class="he" x="503.2" y="409" fill="#220f01"/><rect class="he" x="508.2" y="409" fill="#200e01"/><rect class="he" x="513.2" y="409" fill="#200e01"/><rect class="he" x="518.2" y="409" fill="#220f01"/><rect class="he" x="523.2" y="409" fill="#200e01"/><rect class="he" x="528.2" y="409" fill="#210f01"/><rect class="he" x="533.2" y="409" fill="#251001"/><rect class="he" x="538.2" y="409" fill="#241001"/><rect class="he" x="543.2" y="409" fill="#291201"/><rect class="he" x="548.2" y="409" fill="#2b1301"/><rect class="he" x="553.2" y="409" fill="#2c1401"/><rect class="he" x="558.2" y="409" fill="#331701"/><rect class="he" x="563.2" y="409" fill="#351801"/><rect class="he" x="568.2" y="409" fill="#381a01"/><rect class="he" x="573.2" y="409" fill="#3f1d01"/><rect class="he" x="578.2" y="409" fill="#401d01"/><rect class="he" x="583.2" y="409" fill="#431f02"/><rect class="he" x="588.2" y="409" fill="#492202"/><rect class="he" x="593.2" y="409" fill="#492202"/><rect class="he" x="598.2" y="409" fill="#4e2402"/><rect class="he" x="603.2" y="409" fill="#542702"/><rect class="he" x="608.2" y="409" fill="#552802"/><rect class="he" x="613.2" y="409" fill="#5d2c02"/><rect class="he" x="618.2" y="409" fill="#622e02"/><rect class="he" x="623.2" y="409" fill="#642f02"/><rect class="he" x="628.2" y="409" fill="#642f02"/><rect class="he" x="633.2" y="409" fill="#642f02"/><rect class="he" x="403.2" y="414" fill="#8d4403"/><rect class="he" x="408.2" y="414" fill="#8d4403"/><rect class="he" x="413.2" y="414" fill="#8c4303"/><rect class="he" x="418.2" y="414" fill="#8e4403"/><rect class="he" x="423.2" y="414" fill="#7d3b03"/><rect class="he" x="428.2" y="414" fill="#6d3303"/><rect class="he" x="433.2" y="414" fill="#6e3403"/><rect class="he" x="438.2" y="414" fill="#5e2c02"/><rect class="he" x="443.2" y="414" fill="#522602"/><rect class="he" x="448.2" y="414" fill="#4e2402"/><rect class="he" x="453.2" y="414" fill="#3a1b01"/><rect class="he" x="458.2" y="414" fill="#331701"/><rect class="he" x="463.2" y="414" fill="#2d1401"/><rect class="he" x="468.2" y="414" fill="#251001"/><rect class="he" x="473.2" y="414" fill="#251101"/><rect class="he" x="478.2" y="414" fill="#241001"/><rect class="he" x="483.2" y="414" fill="#210e01"/><rect class="he" x="488.2" y="414" fill="#220f01"/><rect class="he" x="493.2" y="414" fill="#210f01"/><rect class="he" x="498.2" y="414" fill="#200e01"/><rect class="he" x="503.2" y="414" fill="#220f01"/><rect class="he" x="508.2" y="414" fill="#200e01"/><rect class="he" x="513.2" y="414" fill="#200e01"/><rect class="he" x="518.2" y="414" fill="#220f01"/><rect class="he" x="523.2" y="414" fill="#200e01"/><rect class="he" x="528.2" y="414" fill="#210f01"/><rect class="he" x="533.2" y="414" fill="#241001"/><rect class="he" x="538.2" y="414" fill="#241001"/><rect class="he" x="543.2" y="414" fill="#291201"/><rect class="he" x="548.2" y="414" fill="#2b1301"/><rect class="he" x="553.2" y="414" fill="#2c1401"/><rect class="he" x="558.2" y="414" fill="#331701"/><rect class="he" x="563.2" y="414" fill="#351801"/><rect class="he" x="568.2" y="414" fill="#381a01"/><rect class="he" x="573.2" y="414" fill="#3f1d01"/><rect class="he" x="578.2" y="414" fill="#401d01"/><rect class="he" x="583.2" y="414" fill="#431f02"/><rect class="he" x="588.2" y="414" fill="#492202"/><rect class="he" x="593.2" y="414" fill="#492202"/><rect class="he" x="598.2" y="414" fill="#4e2402"/><rect class="he" x="603.2" y="414" fill="#542702"/><rect class="he" x="608.2" y="414" fill="#552802"/><rect class="he" x="613.2" y="414" fill="#5d2c02"/><rect class="he" x="618.2" y="414" fill="#622e02"/><rect class="he" x="623.2" y="414" fill="#642f02"/><rect class="he" x="628.2" y="414" fill="#642f02"/><rect class="he" x="633.2" y="414" fill="#642f02"/><rect class="he" x="403.2" y="419" fill="#8d4403"/><rect class="he" x="408.2" y="419" fill="#8d4403"/><rect class="he" x="413.2" y="419" fill="#8c4303"/><rect class="he" x="418.2" y="419" fill="#8e4403"/><rect class="he" x="423.2" y="419" fill="#7d3b03"/><rect class="he" x="428.2" y="419" fill="#6d3303"/><rect class="he" x="433.2" y="419" fill="#6e3403"/><rect class="he" x="438.2" y="419" fill="#5e2c02"/><rect class="he" x="443.2" y="419" fill="#522602"/><rect class="he" x="448.2" y="419" fill="#4e2402"/><rect class="he" x="453.2" y="419" fill="#3a1b01"/><rect class="he" x="458.2" y="419" fill="#331701"/><rect class="he" x="463.2" y="419" fill="#2d1401"/><rect class="he" x="468.2" y="419" fill="#251001"/><rect class="he" x="473.2" y="419" fill="#251001"/><rect class="he" x="478.2" y="419" fill="#241001"/><rect class="he" x="483.2" y="419" fill="#200e01"/><rect class="he" x="488.2" y="419" fill="#210f01"/><rect class="he" x="493.2" y="419" fill="#200e01"/><rect class="he" x="498.2" y="419" fill="#1f0e01"/><rect class="he" x="503.2" y="419" fill="#210f01"/><rect class="he" x="508.2" y="419" fill="#1f0e01"/><rect class="he" x="513.2" y="419" fill="#200e01"/><rect class="he" x="518.2" y="419" fill="#220f01"/><rect class="he" x="523.2" y="419" fill="#1f0e01"/><rect class="he" x="528.2" y="419" fill="#210f01"/><rect class="he" x="533.2" y="419" fill="#241001"/><rect class="he" x="538.2" y="419" fill="#241001"/><rect class="he" x="543.2" y="419" fill="#281201"/><rect class="he" x="548.2" y="419" fill="#2b1301"/><rect class="he" x="553.2" y="419" fill="#2c1401"/><rect class="he" x="558.2" y="419" fill="#331701"/><rect class="he" x="563.2" y="419" fill="#351801"/><rect class="he" x="568.2" y="419" fill="#381a01"/><rect class="he" x="573.2" y="419" fill="#3f1d01"/><rect class="he" x="578.2" y="419" fill="#401d01"/><rect class="he" x="583.2" y="419" fill="#431f02"/><rect class="he" x="588.2" y="419" fill="#492202"/><rect class="he" x="593.2" y="419" fill="#492202"/><rect class="he" x="598.2" y="419" fill="#4e2402"/><rect class="he" x="603.2" y="419" fill="#542702"/><rect class="he" x="608.2" y="419" fill="#552802"/><rect class="he" x="613.2" y="419" fill="#5d2c02"/><rect class="he" x="618.2" y="419" fill="#622e02"/><rect class="he" x="623.2" y="419" fill="#642f02"/><rect class="he" x="628.2" y="419" fill="#642f02"/><rect class="he" x="633.2" y="419" fill="#642f02"/><rect class="he" x="403.2" y="424" fill="#8d4403"/><rect class="he" x="408.2" y="424" fill="#8d4403"/><rect class="he" x="413.2" y="424" fill="#8c4303"/><rect class="he" x="418.2" y="424" fill="#8e4403"/><rect class="he" x="423.2" y="424" fill="#7d3b03"/><rect class="he" x="428.2" y="424" fill="#6d3303"/><rect class="he" x="433.2" y="424" fill="#6e3403"/><rect class="he" x="438.2" y="424" fill="#5e2c02"/><rect class="he" x="443.2" y="424" fill="#522602"/><rect class="he" x="448.2" y="424" fill="#4e2402"/><rect class="he" x="453.2" y="424" fill="#3a1b01"/><rect class="he" x="458.2" y="424" fill="#331701"/><rect class="he" x="463.2" y="424" fill="#2d1401"/><rect class="he" x="468.2" y="424" fill="#241001"/><rect class="he" x="473.2" y="424" fill="#241001"/><rect class="he" x="478.2" y="424" fill="#230f01"/><rect class="he" x="483.2" y="424" fill="#1f0e01"/><rect class="he" x="488.2" y="424" fill="#200e01"/><rect class="he" x="493.2" y="424" fill="#1f0e01"/><rect class="he" x="498.2" y="424" fill="#1d0d01"/><rect class="he" x="503.2" y="424" fill="#200e01"/><rect class="he" x="508.2" y="424" fill="#1e0d01"/><rect class="he" x="513.2" y="424" fill="#1e0d01"/><rect class="he" x="518.2" y="424" fill="#200e01"/><rect class="he" x="523.2" y="424" fill="#1e0d01"/><rect class="he" x="528.2" y="424" fill="#200e01"/><rect class="he" x="533.2" y="424" fill="#231001"/><rect class="he" x="538.2" y="424" fill="#231001"/><rect class="he" x="543.2" y="424" fill="#281201"/><rect class="he" x="548.2" y="424" fill="#2a1301"/><rect class="he" x="553.2" y="424" fill="#2c1301"/><rect class="he" x="558.2" y="424" fill="#331701"/><rect class="he" x="563.2" y="424" fill="#351801"/><rect class="he" x="568.2" y="424" fill="#381a01"/><rect class="he" x="573.2" y="424" fill="#3f1d01"/><rect class="he" x="578.2" y="424" fill="#401d01"/><rect class="he" x="583.2" y="424" fill="#431f02"/><rect class="he" x="588.2" y="424" fill="#492202"/><rect class="he" x="593.2" y="424" fill="#492202"/><rect class="he" x="598.2" y="424" fill="#4e2402"/><rect class="he" x="603.2" y="424" fill="#542702"/><rect class="he" x="608.2" y="424" fill="#552802"/><rect class="he" x="613.2" y="424" fill="#5d2c02"/><rect class="he" x="618.2" y="424" fill="#622e02"/><rect class="he" x="623.2" y="424" fill="#642f02"/><rect class="he" x="628.2" y="424" fill="#642f02"/><rect class="he" x="633.2" y="424" fill="#642f02"/><rect class="he" x="403.2" y="429" fill="#8d4403"/><rect class="he" x="408.2" y="429" fill="#8d4403"/><rect class="he" x="413.2" y="429" fill="#8c4303"/><rect class="he" x="418.2" y="429" fill="#8e4403"/><rect class="he" x="423.2" y="429" fill="#7d3b03"/><rect class="he" x="428.2" y="429" fill="#6d3303"/><rect class="he" x="433.2" y="429" fill="#6e3303"/><rect class="he" x="438.2" y="429" fill="#5e2c02"/><rect class="he" x="443.2" y="429" fill="#522602"/><rect class="he" x="448.2" y="429" fill="#4d2402"/><rect class="he" x="453.2" y="429" fill="#3a1a01"/><rect class="he" x="458.2" y="429" fill="#321701"/><rect class="he" x="463.2" y="429" fill="#2c1401"/><rect class="he" x="468.2" y="429" fill="#231001"/><rect class="he" x="473.2" y="429" fill="#231001"/><rect class="he" x="478.2" y="429" fill="#210f01"/><rect class="he" x="483.2" y="429" fill="#1d0d01"/><rect class="he" x="488.2" y="429" fill="#1e0d01"/><rect class="he" x="493.2" y="429" fill="#1c0d01"/><rect class="he" x="498.2" y="429" fill="#1b0c01"/><rect class="he" x="503.2" y="429" fill="#1d0d01"/><rect class="he" x="508.2" y="429" fill="#1b0c01"/><rect class="he" x="513.2" y="429" fill="#1b0c01"/><rect class="he" x="518.2" y="429" fill="#1d0d01"/><rect class="he" x="523.2" y="429" fill="#1b0c01"/><rect class="he" x="528.2" y="429" fill="#1e0d01"/><rect class="he" x="533.2" y="429" fill="#220f01"/><rect class="he" x="538.2" y="429" fill="#220f01"/><rect class="he" x="543.2" y="429" fill="#271101"/><rect class="he" x="548.2" y="429" fill="#2a1201"/><rect class="he" x="553.2" y="429" fill="#2b1301"/><rect class="he" x="558.2" y="429" fill="#321701"/><rect class="he" x="563.2" y="429" fill="#351801"/><rect class="he" x="568.2" y="429" fill="#381901"/><rect class="he" x="573.2" y="429" fill="#3f1d01"/><rect class="he" x="578.2" y="429" fill="#401d01"/><rect class="he" x="583.2" y="429" fill="#431f02"/><rect class="he" x="588.2" y="429" fill="#492202"/><rect class="he" x="593.2" y="429" fill="#492202"/><rect class="he" x="598.2" y="429" fill="#4e2402"/><rect class="he" x="603.2" y="429" fill="#542702"/><rect class="he" x="608.2" y="429" fill="#552802"/><rect class="he" x="613.2" y="429" fill="#5d2c02"/><rect class="he" x="618.2" y="429" fill="#622e02"/><rect class="he" x="623.2" y="429" fill="#642f02"/><rect class="he" x="628.2" y="429" fill="#642f02"/><rect class="he" x="633.2" y="429" fill="#642f02"/><rect class="he" x="403.2" y="434" fill="#8d4403"/><rect class="he" x="408.2" y="434" fill="#8d4403"/><rect class="he" x="413.2" y="434" fill="#8c4303"/><rect class="he" x="418.2" y="434" fill="#8e4403"/><rect class="he" x="423.2" y="434" fill="#7d3a03"/><rect class="he" x="428.2" y="434" fill="#6d3303"/><rect class="he" x="433.2" y="434" fill="#6e3303"/><rect class="he" x="438.2" y="434" fill="#5e2c02"/><rect class="he" x="443.2" y="434" fill="#512602"/><rect class="he" x="448.2" y="434" fill="#4d2402"/><rect class="he" x="453.2" y="434" fill="#391a01"/><rect class="he" x="458.2" y="434" fill="#321601"/><rect class="he" x="463.2" y="434" fill="#2b1301"/><rect class="he" x="468.2" y="434" fill="#220f01"/><rect class="he" x="473.2" y="434" fill="#220f01"/><rect class="he" x="478.2" y="434" fill="#1f0e01"/><rect class="he" x="483.2" y="434" fill="#1b0c01"/><rect class="he" x="488.2" y="434" fill="#1b0c01"/><rect class="he" x="493.2" y="434" fill="#190b01"/><rect class="he" x="498.2" y="434" fill="#170a01"/><rect class="he" x="503.2" y="434" fill="#190b01"/><rect class="he" x="508.2" y="434" fill="#170a01"/><rect class="he" x="513.2" y="434" fill="#180b01"/><rect class="he" x="518.2" y="434" fill="#1a0c01"/><rect class="he" x="523.2" y="434" fill="#190b01"/><rect class="he" x="528.2" y="434" fill="#1b0c01"/><rect class="he" x="533.2" y="434" fill="#200e01"/><rect class="he" x="538.2" y="434" fill="#200e01"/><rect class="he" x="543.2" y="434" fill="#261101"/><rect class="he" x="548.2" y="434" fill="#291201"/><rect class="he" x="553.2" y="434" fill="#2a1301"/><rect class="he" x="558.2" y="434" fill="#321601"/><rect class="he" x="563.2" y="434" fill="#341801"/><rect class="he" x="568.2" y="434" fill="#381901"/><rect class="he" x="573.2" y="434" fill="#3f1d01"/><rect class="he" x="578.2" y="434" fill="#3f1d01"/><rect class="he" x="583.2" y="434" fill="#431f02"/><rect class="he" x="588.2" y="434" fill="#492202"/><rect class="he" x="593.2" y="434" fill="#492202"/><rect class="he" x="598.2" y="434" fill="#4e2402"/><rect class="he" x="603.2" y="434" fill="#542702"/><rect class="he" x="608.2" y="434" fill="#552802"/><rect class="he" x="613.2" y="434" fill="#5d2c02"/><rect class="he" x="618.2" y="434" fill="#622e02"/><rect class="he" x="623.2" y="434" fill="#642f02"/><rect class="he" x="628.2" y="434" fill="#642f02"/><rect class="he" x="633.2" y="434" fill="#642f02"/><rect class="he" x="403.2" y="439" fill="#8d4403"/><rect class="he" x="408.2" y="439" fill="#8d4403"/><rect class="he" x="413.2" y="439" fill="#8c4303"/><rect class="he" x="418.2" y="439" fill="#8e4403"/><rect class="he" x="423.2" y="439" fill="#7d3a03"/><rect class="he" x="428.2" y="439" fill="#6d3303"/><rect class="he" x="433.2" y="439" fill="#6e3303"/><rect class="he" x="438.2" y="439" fill="#5e2c02"/><rect class="he" x="443.2" y="439" fill="#512602"/><rect class="he" x="448.2" y="439" fill="#4d2402"/><rect class="he" x="453.2" y="439" fill="#391a01"/><rect class="he" x="458.2" y="439" fill="#311601"/><rect class="he" x="463.2" y="439" fill="#2b1301"/><rect class="he" x="468.2" y="439" fill="#210f01"/><rect class="he" x="473.2" y="439" fill="#210f01"/><rect class="he" x="478.2" y="439" fill="#1e0d01"/><rect class="he" x="483.2" y="439" fill="#190b01"/><rect class="he" x="488.2" y="439" fill="#190b01"/><rect class="he" x="493.2" y="439" fill="#170a01"/><rect class="he" x="498.2" y="439" fill="#150900"/><rect class="he" x="503.2" y="439" fill="#170a01"/><rect class="he" x="508.2" y="439" fill="#150900"/><rect class="he" x="513.2" y="439" fill="#150900"/><rect class="he" x="518.2" y="439" fill="#180b01"/><rect class="he" x="523.2" y="439" fill="#170a01"/><rect class="he" x="528.2" y="439" fill="#1a0b01"/><rect class="he" x="533.2" y="439" fill="#1e0d01"/><rect class="he" x="538.2" y="439" fill="#1f0e01"/><rect class="he" x="543.2" y="439" fill="#251001"/><rect class="he" x="548.2" y="439" fill="#281201"/><rect class="he" x="553.2" y="439" fill="#2a1301"/><rect class="he" x="558.2" y="439" fill="#321601"/><rect class="he" x="563.2" y="439" fill="#341801"/><rect class="he" x="568.2" y="439" fill="#381901"/><rect class="he" x="573.2" y="439" fill="#3f1d01"/><rect class="he" x="578.2" y="439" fill="#401d01"/><rect class="he" x="583.2" y="439" fill="#431f02"/><rect class="he" x="588.2" y="439" fill="#492202"/><rect class="he" x="593.2" y="439" fill="#492202"/><rect class="he" x="598.2" y="439" fill="#4e2502"/><rect class="he" x="603.2" y="439" fill="#542802"/><rect class="he" x="608.2" y="439" fill="#552802"/><rect class="he" x="613.2" y="439" fill="#5e2c02"/><rect class="he" x="618.2" y="439" fill="#622e02"/><rect class="he" x="623.2" y="439" fill="#642f02"/><rect class="he" x="628.2" y="439" fill="#642f02"/><rect class="he" x="633.2" y="439" fill="#642f02"/><rect class="he" x="403.2" y="444" fill="#8d4403"/><rect class="he" x="408.2" y="444" fill="#8d4403"/><rect class="he" x="413.2" y="444" fill="#8c4303"/><rect class="he" x="418.2" y="444" fill="#8e4403"/><rect class="he" x="423.2" y="444" fill="#7d3a03"/><rect class="he" x="428.2" y="444" fill="#6d3303"/><rect class="he" x="433.2" y="444" fill="#6e3303"/><rect class="he" x="438.2" y="444" fill="#5e2c02"/><rect class="he" x="443.2" y="444" fill="#512602"/><rect class="he" x="448.2" y="444" fill="#4d2402"/><rect class="he" x="453.2" y="444" fill="#391a01"/><rect class="he" x="458.2" y="444" fill="#311601"/><rect class="he" x="463.2" y="444" fill="#2b1301"/><rect class="he" x="468.2" y="444" fill="#210f01"/><rect class="he" x="473.2" y="444" fill="#210f01"/><rect class="he" x="478.2" y="444" fill="#1e0d01"/><rect class="he" x="483.2" y="444" fill="#190b01"/><rect class="he" x="488.2" y="444" fill="#190b01"/><rect class="he" x="493.2" y="444" fill="#170a01"/><rect class="he" x="498.2" y="444" fill="#150900"/><rect class="he" x="503.2" y="444" fill="#170a01"/><rect class="he" x="508.2" y="444" fill="#150900"/><rect class="he" x="513.2" y="444" fill="#160a00"/><rect class="he" x="518.2" y="444" fill="#190b01"/><rect class="he" x="523.2" y="444" fill="#170a01"/><rect class="he" x="528.2" y="444" fill="#1a0c01"/><rect class="he" x="533.2" y="444" fill="#1f0e01"/><rect class="he" x="538.2" y="444" fill="#200e01"/><rect class="he" x="543.2" y="444" fill="#261101"/><rect class="he" x="548.2" y="444" fill="#291201"/><rect class="he" x="553.2" y="444" fill="#2b1301"/><rect class="he" x="558.2" y="444" fill="#321701"/><rect class="he" x="563.2" y="444" fill="#351801"/><rect class="he" x="568.2" y="444" fill="#391a01"/><rect class="he" x="573.2" y="444" fill="#401e01"/><rect class="he" x="578.2" y="444" fill="#411e01"/><rect class="he" x="583.2" y="444" fill="#452002"/><rect class="he" x="588.2" y="444" fill="#4a2302"/><rect class="he" x="593.2" y="444" fill="#4a2302"/><rect class="he" x="598.2" y="444" fill="#502502"/><rect class="he" x="603.2" y="444" fill="#562802"/><rect class="he" x="608.2" y="444" fill="#572902"/><rect class="he" x="613.2" y="444" fill="#602d02"/><rect class="he" x="618.2" y="444" fill="#642f02"/><rect class="he" x="623.2" y="444" fill="#663002"/><rect class="he" x="628.2" y="444" fill="#663002"/><rect class="he" x="633.2" y="444" fill="#663002"/><rect class="he" x="403.2" y="449" fill="#8d4403"/><rect class="he" x="408.2" y="449" fill="#8d4403"/><rect class="he" x="413.2" y="449" fill="#8c4303"/><rect class="he" x="418.2" y="449" fill="#8e4403"/><rect class="he" x="423.2" y="449" fill="#7d3a03"/><rect class="he" x="428.2" y="449" fill="#6d3303"/><rect class="he" x="433.2" y="449" fill="#6e3303"/><rect class="he" x="438.2" y="449" fill="#5e2c02"/><rect class="he" x="443.2" y="449" fill="#512602"/><rect class="he" x="448.2" y="449" fill="#4d2402"/><rect class="he" x="453.2" y="449" fill="#391a01"/><rect class="he" x="458.2" y="449" fill="#321601"/><rect class="he" x="463.2" y="449" fill="#2b1301"/><rect class="he" x="468.2" y="449" fill="#220f01"/><rect class="he" x="473.2" y="449" fill="#220f01"/><rect class="he" x="478.2" y="449" fill="#200e01"/><rect class="he" x="483.2" y="449" fill="#1c0c01"/><rect class="he" x="488.2" y="449" fill="#1c0c01"/><rect class="he" x="493.2" y="449" fill="#1a0c01"/><rect class="he" x="498.2" y="449" fill="#190b01"/><rect class="he" x="503.2" y="449" fill="#1b0c01"/><rect class="he" x="508.2" y="449" fill="#190b01"/><rect class="he" x="513.2" y="449" fill="#1a0b01"/><rect class="he" x="518.2" y="449" fill="#1c0d01"/><rect class="he" x="523.2" y="449" fill="#1b0c01"/><rect class="he" x="528.2" y="449" fill="#1e0d01"/><rect class="he" x="533.2" y="449" fill="#220f01"/><rect class="he" x="538.2" y="449" fill="#231001"/><rect class="he" x="543.2" y="449" fill="#291201"/><rect class="he" x="548.2" y="449" fill="#2c1301"/><rect class="he" x="553.2" y="449" fill="#2d1401"/><rect class="he" x="558.2" y="449" fill="#361801"/><rect class="he" x="563.2" y="449" fill="#381a01"/><rect class="he" x="568.2" y="449" fill="#3b1b01"/><rect class="he" x="573.2" y="449" fill="#431f02"/><rect class="he" x="578.2" y="449" fill="#442002"/><rect class="he" x="583.2" y="449" fill="#482202"/><rect class="he" x="588.2" y="449" fill="#4e2502"/><rect class="he" x="593.2" y="449" fill="#4f2502"/><rect class="he" x="598.2" y="449" fill="#542802"/><rect class="he" x="603.2" y="449" fill="#5b2b02"/><rect class="he" x="608.2" y="449" fill="#5d2c02"/><rect class="he" x="613.2" y="449" fill="#663002"/><rect class="he" x="618.2" y="449" fill="#6b3203"/><rect class="he" x="623.2" y="449" fill="#6d3303"/><rect class="he" x="628.2" y="449" fill="#6d3303"/><rect class="he" x="633.2" y="449" fill="#6d3303"/><rect class="he" x="403.2" y="454" fill="#8d4403"/><rect class="he" x="408.2" y="454" fill="#8d4403"/><rect class="he" x="413.2" y="454" fill="#8c4303"/><rect class="he" x="418.2" y="454" fill="#8e4403"/><rect class="he" x="423.2" y="454" fill="#7d3b03"/><rect class="he" x="428.2" y="454" fill="#6d3303"/><rect class="he" x="433.2" y="454" fill="#6e3303"/><rect class="he" x="438.2" y="454" fill="#5e2c02"/><rect class="he" x="443.2" y="454" fill="#522602"/><rect class="he" x="448.2" y="454" fill="#4d2402"/><rect class="he" x="453.2" y="454" fill="#3a1a01"/><rect class="he" x="458.2" y="454" fill="#321701"/><rect class="he" x="463.2" y="454" fill="#2c1401"/><rect class="he" x="468.2" y="454" fill="#231001"/><rect class="he" x="473.2" y="454" fill="#241001"/><rect class="he" x="478.2" y="454" fill="#220f01"/><rect class="he" x="483.2" y="454" fill="#1f0e01"/><rect class="he" x="488.2" y="454" fill="#200e01"/><rect class="he" x="493.2" y="454" fill="#1f0e01"/><rect class="he" x="498.2" y="454" fill="#1e0d01"/><rect class="he" x="503.2" y="454" fill="#210f01"/><rect class="he" x="508.2" y="454" fill="#1f0e01"/><rect class="he" x="513.2" y="454" fill="#200e01"/><rect class="he" x="518.2" y="454" fill="#231001"/><rect class="he" x="523.2" y="454" fill="#220f01"/><rect class="he" x="528.2" y="454" fill="#241001"/><rect class="he" x="533.2" y="454" fill="#291201"/><rect class="he" x="538.2" y="454" fill="#2a1301"/><rect class="he" x="543.2" y="454" fill="#2f1501"/><rect class="he" x="548.2" y="454" fill="#331701"/><rect class="he" x="553.2" y="454" fill="#351801"/><rect class="he" x="558.2" y="454" fill="#3d1c01"/><rect class="he" x="563.2" y="454" fill="#3f1d01"/><rect class="he" x="568.2" y="454" fill="#421f02"/><rect class="he" x="573.2" y="454" fill="#4b2302"/><rect class="he" x="578.2" y="454" fill="#4c2402"/><rect class="he" x="583.2" y="454" fill="#512602"/><rect class="he" x="588.2" y="454" fill="#582a02"/><rect class="he" x="593.2" y="454" fill="#5a2a02"/><rect class="he" x="598.2" y="454" fill="#612d02"/><rect class="he" x="603.2" y="454" fill="#683103"/><rect class="he" x="608.2" y="454" fill="#6b3203"/><rect class="he" x="613.2" y="454" fill="#753603"/><rect class="he" x="618.2" y="454" fill="#7b3a03"/><rect class="he" x="623.2" y="454" fill="#7f3c03"/><rect class="he" x="628.2" y="454" fill="#7f3c03"/><rect class="he" x="633.2" y="454" fill="#7f3c03"/><rect class="he" x="403.2" y="459" fill="#8d4403"/><rect class="he" x="408.2" y="459" fill="#8d4403"/><rect class="he" x="413.2" y="459" fill="#8c4303"/><rect class="he" x="418.2" y="459" fill="#8e4403"/><rect class="he" x="423.2" y="459" fill="#7d3b03"/><rect class="he" x="428.2" y="459" fill="#6d3303"/><rect class="he" x="433.2" y="459" fill="#6e3403"/><rect class="he" x="438.2" y="459" fill="#5e2c02"/><rect class="he" x="443.2" y="459" fill="#522602"/><rect class="he" x="448.2" y="459" fill="#4e2402"/><rect class="he" x="453.2" y="459" fill="#3a1b01"/><rect class="he" x="458.2" y="459" fill="#331701"/><rect class="he" x="463.2" y="459" fill="#2d1401"/><rect class="he" x="468.2" y="459" fill="#241001"/><rect class="he" x="473.2" y="459" fill="#261101"/><rect class="he" x="478.2" y="459" fill="#251101"/><rect class="he" x="483.2" y="459" fill="#230f01"/><rect class="he" x="488.2" y="459" fill="#251001"/><rect class="he" x="493.2" y="459" fill="#251001"/><rect class="he" x="498.2" y="459" fill="#251001"/><rect class="he" x="503.2" y="459" fill="#281201"/><rect class="he" x="508.2" y="459" fill="#271101"/><rect class="he" x="513.2" y="459" fill="#291201"/><rect class="he" x="518.2" y="459" fill="#2c1401"/><rect class="he" x="523.2" y="459" fill="#2b1301"/><rect class="he" x="528.2" y="459" fill="#2e1501"/><rect class="he" x="533.2" y="459" fill="#351801"/><rect class="he" x="538.2" y="459" fill="#361801"/><rect class="he" x="543.2" y="459" fill="#3c1c01"/><rect class="he" x="548.2" y="459" fill="#3f1d01"/><rect class="he" x="553.2" y="459" fill="#411e02"/><rect class="he" x="558.2" y="459" fill="#492202"/><rect class="he" x="563.2" y="459" fill="#4b2302"/><rect class="he" x="568.2" y="459" fill="#4e2502"/><rect class="he" x="573.2" y="459" fill="#582a02"/><rect class="he" x="578.2" y="459" fill="#5c2b02"/><rect class="he" x="583.2" y="459" fill="#622e02"/><rect class="he" x="588.2" y="459" fill="#6b3203"/><rect class="he" x="593.2" y="459" fill="#6e3303"/><rect class="he" x="598.2" y="459" fill="#763703"/><rect class="he" x="603.2" y="459" fill="#813d03"/><rect class="he" x="608.2" y="459" fill="#874003"/><rect class="he" x="613.2" y="459" fill="#954804"/><rect class="he" x="618.2" y="459" fill="#9e4c04"/><rect class="he" x="623.2" y="459" fill="#a34f04"/><rect class="he" x="628.2" y="459" fill="#a34f04"/><rect class="he" x="633.2" y="459" fill="#a34f04"/><rect class="he" x="403.2" y="464" fill="#8d4403"/><rect class="he" x="408.2" y="464" fill="#8d4403"/><rect class="he" x="413.2" y="464" fill="#8c4303"/><rect class="he" x="418.2" y="464" fill="#8e4403"/><rect class="he" x="423.2" y="464" fill="#7d3b03"/><rect class="he" x="428.2" y="464" fill="#6d3303"/><rect class="he" x="433.2" y="464" fill="#6e3403"/><rect class="he" x="438.2" y="464" fill="#5e2c02"/><rect class="he" x="443.2" y="464" fill="#522602"/><rect class="he" x="448.2" y="464" fill="#4e2402"/><rect class="he" x="453.2" y="464" fill="#3a1b01"/><rect class="he" x="458.2" y="464" fill="#331701"/><rect class="he" x="463.2" y="464" fill="#2d1401"/><rect class="he" x="468.2" y="464" fill="#251001"/><rect class="he" x="473.2" y="464" fill="#271101"/><rect class="he" x="478.2" y="464" fill="#281201"/><rect class="he" x="483.2" y="464" fill="#261101"/><rect class="he" x="488.2" y="464" fill="#291201"/><rect class="he" x="493.2" y="464" fill="#2a1301"/><rect class="he" x="498.2" y="464" fill="#2b1301"/><rect class="he" x="503.2" y="464" fill="#301601"/><rect class="he" x="508.2" y="464" fill="#301501"/><rect class="he" x="513.2" y="464" fill="#331701"/><rect class="he" x="518.2" y="464" fill="#381901"/><rect class="he" x="523.2" y="464" fill="#371901"/><rect class="he" x="528.2" y="464" fill="#3c1c01"/><rect class="he" x="533.2" y="464" fill="#431f02"/><rect class="he" x="538.2" y="464" fill="#452002"/><rect class="he" x="543.2" y="464" fill="#4b2302"/><rect class="he" x="548.2" y="464" fill="#4e2502"/><rect class="he" x="553.2" y="464" fill="#502502"/><rect class="he" x="558.2" y="464" fill="#582902"/><rect class="he" x="563.2" y="464" fill="#5a2a02"/><rect class="he" x="568.2" y="464" fill="#5e2c02"/><rect class="he" x="573.2" y="464" fill="#6a3203"/><rect class="he" x="578.2" y="464" fill="#6f3403"/><rect class="he" x="583.2" y="464" fill="#783803"/><rect class="he" x="588.2" y="464" fill="#853f03"/><rect class="he" x="593.2" y="464" fill="#8b4203"/><rect class="he" x="598.2" y="464" fill="#984904"/><rect class="he" x="603.2" y="464" fill="#a55104"/><rect class="he" x="608.2" y="464" fill="#ad5504"/><rect class="he" x="613.2" y="464" fill="#be5e04"/><rect class="he" x="618.2" y="464" fill="#c96405"/><rect class="he" x="623.2" y="464" fill="#d16805"/><rect class="he" x="628.2" y="464" fill="#d16805"/><rect class="he" x="633.2" y="464" fill="#d16805"/><rect class="he" x="403.2" y="469" fill="#8d4403"/><rect class="he" x="408.2" y="469" fill="#8d4403"/><rect class="he" x="413.2" y="469" fill="#8c4303"/><rect class="he" x="418.2" y="469" fill="#8e4403"/><rect class="he" x="423.2" y="469" fill="#7d3b03"/><rect class="he" x="428.2" y="469" fill="#6d3303"/><rect class="he" x="433.2" y="469" fill="#6e3403"/><rect class="he" x="438.2" y="469" fill="#5e2c02"/><rect class="he" x="443.2" y="469" fill="#522602"/><rect class="he" x="448.2" y="469" fill="#4e2402"/><rect class="he" x="453.2" y="469" fill="#3a1b01"/><rect class="he" x="458.2" y="469" fill="#331701"/><rect class="he" x="463.2" y="469" fill="#2d1401"/><rect class="he" x="468.2" y="469" fill="#251101"/><rect class="he" x="473.2" y="469" fill="#281201"/><rect class="he" x="478.2" y="469" fill="#291201"/><rect class="he" x="483.2" y="469" fill="#281201"/><rect class="he" x="488.2" y="469" fill="#2c1401"/><rect class="he" x="493.2" y="469" fill="#2e1401"/><rect class="he" x="498.2" y="469" fill="#301501"/><rect class="he" x="503.2" y="469" fill="#361901"/><rect class="he" x="508.2" y="469" fill="#371901"/><rect class="he" x="513.2" y="469" fill="#3a1b01"/><rect class="he" x="518.2" y="469" fill="#401e01"/><rect class="he" x="523.2" y="469" fill="#401e01"/><rect class="he" x="528.2" y="469" fill="#462002"/><rect class="he" x="533.2" y="469" fill="#4d2402"/><rect class="he" x="538.2" y="469" fill="#502502"/><rect class="he" x="543.2" y="469" fill="#562802"/><rect class="he" x="548.2" y="469" fill="#592a02"/><rect class="he" x="553.2" y="469" fill="#5b2b02"/><rect class="he" x="558.2" y="469" fill="#632e02"/><rect class="he" x="563.2" y="469" fill="#653002"/><rect class="he" x="568.2" y="469" fill="#693103"/><rect class="he" x="573.2" y="469" fill="#773803"/><rect class="he" x="578.2" y="469" fill="#7f3c03"/><rect class="he" x="583.2" y="469" fill="#8b4203"/><rect class="he" x="588.2" y="469" fill="#9a4b04"/><rect class="he" x="593.2" y="469" fill="#a24e04"/><rect class="he" x="598.2" y="469" fill="#b15704"/><rect class="he" x="603.2" y="469" fill="#c05f04"/><rect class="he" x="608.2" y="469" fill="#ca6405"/><rect class="he" x="613.2" y="469" fill="#db6d06"/><rect class="he" x="618.2" y="469" fill="#e67409"/><rect class="he" x="623.2" y="469" fill="#ed790b"/><rect class="he" x="628.2" y="469" fill="#ed790b"/><rect class="he" x="633.2" y="469" fill="#ed790b"/><rect class="he" x="403.2" y="474" fill="#8d4403"/><rect class="he" x="408.2" y="474" fill="#8d4403"/><rect class="he" x="413.2" y="474" fill="#8c4303"/><rect class="he" x="418.2" y="474" fill="#8e4403"/><rect class="he" x="423.2" y="474" fill="#7d3b03"/><rect class="he" x="428.2" y="474" fill="#6d3303"/><rect class="he" x="433.2" y="474" fill="#6e3403"/><rect class="he" x="438.2" y="474" fill="#5e2c02"/><rect class="he" x="443.2" y="474" fill="#522602"/><rect class="he" x="448.2" y="474" fill="#4e2402"/><rect class="he" x="453.2" y="474" fill="#3a1b01"/><rect class="he" x="458.2" y="474" fill="#331701"/><rect class="he" x="463.2" y="474" fill="#2d1401"/><rect class="he" x="468.2" y="474" fill="#251101"/><rect class="he" x="473.2" y="474" fill="#281201"/><rect class="he" x="478.2" y="474" fill="#291201"/><rect class="he" x="483.2" y="474" fill="#291201"/><rect class="he" x="488.2" y="474" fill="#2c1401"/><rect class="he" x="493.2" y="474" fill="#2e1401"/><rect class="he" x="498.2" y="474" fill="#301501"/><rect class="he" x="503.2" y="474" fill="#361901"/><rect class="he" x="508.2" y="474" fill="#371901"/><rect class="he" x="513.2" y="474" fill="#3a1b01"/><rect class="he" x="518.2" y="474" fill="#401e01"/><rect class="he" x="523.2" y="474" fill="#401e01"/><rect class="he" x="528.2" y="474" fill="#462002"/><rect class="he" x="533.2" y="474" fill="#4d2402"/><rect class="he" x="538.2" y="474" fill="#502602"/><rect class="he" x="543.2" y="474" fill="#562802"/><rect class="he" x="548.2" y="474" fill="#592a02"/><rect class="he" x="553.2" y="474" fill="#5b2b02"/><rect class="he" x="558.2" y="474" fill="#632e02"/><rect class="he" x="563.2" y="474" fill="#663002"/><rect class="he" x="568.2" y="474" fill="#6a3103"/><rect class="he" x="573.2" y="474" fill="#773803"/><rect class="he" x="578.2" y="474" fill="#7f3c03"/><rect class="he" x="583.2" y="474" fill="#8c4303"/><rect class="he" x="588.2" y="474" fill="#9b4b04"/><rect class="he" x="593.2" y="474" fill="#a24f04"/><rect class="he" x="598.2" y="474" fill="#b15704"/><rect class="he" x="603.2" y="474" fill="#c15f05"/><rect class="he" x="608.2" y="474" fill="#ca6405"/><rect class="he" x="613.2" y="474" fill="#dc6e06"/><rect class="he" x="618.2" y="474" fill="#e77509"/><rect class="he" x="623.2" y="474" fill="#ee790b"/><rect class="he" x="628.2" y="474" fill="#ee790b"/><rect class="he" x="633.2" y="474" fill="#ee790b"/><rect class="he" x="403.2" y="479" fill="#8d4403"/><rect class="he" x="408.2" y="479" fill="#8d4403"/><rect class="he" x="413.2" y="479" fill="#8c4303"/><rect class="he" x="418.2" y="479" fill="#8e4403"/><rect class="he" x="423.2" y="479" fill="#7d3b03"/><rect class="he" x="428.2" y="479" fill="#6d3303"/><rect class="he" x="433.2" y="479" fill="#6e3403"/><rect class="he" x="438.2" y="479" fill="#5e2c02"/><rect class="he" x="443.2" y="479" fill="#522602"/><rect class="he" x="448.2" y="479" fill="#4d2402"/><rect class="he" x="453.2" y="479" fill="#3a1a01"/><rect class="he" x="458.2" y="479" fill="#331701"/><rect class="he" x="463.2" y="479" fill="#2d1401"/><rect class="he" x="468.2" y="479" fill="#251001"/><rect class="he" x="473.2" y="479" fill="#271101"/><rect class="he" x="478.2" y="479" fill="#281201"/><rect class="he" x="483.2" y="479" fill="#261101"/><rect class="he" x="488.2" y="479" fill="#2a1201"/><rect class="he" x="493.2" y="479" fill="#2a1301"/><rect class="he" x="498.2" y="479" fill="#2b1301"/><rect class="he" x="503.2" y="479" fill="#311601"/><rect class="he" x="508.2" y="479" fill="#301601"/><rect class="he" x="513.2" y="479" fill="#331701"/><rect class="he" x="518.2" y="479" fill="#381a01"/><rect class="he" x="523.2" y="479" fill="#371901"/><rect class="he" x="528.2" y="479" fill="#3c1c01"/><rect class="he" x="533.2" y="479" fill="#431f02"/><rect class="he" x="538.2" y="479" fill="#452002"/><rect class="he" x="543.2" y="479" fill="#4b2302"/><rect class="he" x="548.2" y="479" fill="#4e2402"/><rect class="he" x="553.2" y="479" fill="#502502"/><rect class="he" x="558.2" y="479" fill="#572902"/><rect class="he" x="563.2" y="479" fill="#5a2a02"/><rect class="he" x="568.2" y="479" fill="#5e2c02"/><rect class="he" x="573.2" y="479" fill="#6b3203"/><rect class="he" x="578.2" y="479" fill="#703403"/><rect class="he" x="583.2" y="479" fill="#793803"/><rect class="he" x="588.2" y="479" fill="#874003"/><rect class="he" x="593.2" y="479" fill="#8d4303"/><rect class="he" x="598.2" y="479" fill="#9a4a04"/><rect class="he" x="603.2" y="479" fill="#a85204"/><rect class="he" x="608.2" y="479" fill="#b05604"/><rect class="he" x="613.2" y="479" fill="#c15f05"/><rect class="he" x="618.2" y="479" fill="#cc6505"/><rect class="he" x="623.2" y="479" fill="#d46905"/><rect class="he" x="628.2" y="479" fill="#d46905"/><rect class="he" x="633.2" y="479" fill="#d46905"/><rect class="he" x="403.2" y="484" fill="#8d4403"/><rect class="he" x="408.2" y="484" fill="#8d4403"/><rect class="he" x="413.2" y="484" fill="#8c4303"/><rect class="he" x="418.2" y="484" fill="#8e4403"/><rect class="he" x="423.2" y="484" fill="#7d3b03"/><rect class="he" x="428.2" y="484" fill="#6d3303"/><rect class="he" x="433.2" y="484" fill="#6e3403"/><rect class="he" x="438.2" y="484" fill="#5e2c02"/><rect class="he" x="443.2" y="484" fill="#522602"/><rect class="he" x="448.2" y="484" fill="#4c2302"/><rect class="he" x="453.2" y="484" fill="#371901"/><rect class="he" x="458.2" y="484" fill="#2e1501"/><rect class="he" x="463.2" y="484" fill="#291201"/><rect class="he" x="468.2" y="484" fill="#210f01"/><rect class="he" x="473.2" y="484" fill="#230f01"/><rect class="he" x="478.2" y="484" fill="#230f01"/><rect class="he" x="483.2" y="484" fill="#200e01"/><rect class="he" x="488.2" y="484" fill="#230f01"/><rect class="he" x="493.2" y="484" fill="#231001"/><rect class="he" x="498.2" y="484" fill="#231001"/><rect class="he" x="503.2" y="484" fill="#271101"/><rect class="he" x="508.2" y="484" fill="#261101"/><rect class="he" x="513.2" y="484" fill="#271101"/><rect class="he" x="518.2" y="484" fill="#2a1301"/><rect class="he" x="523.2" y="484" fill="#291201"/><rect class="he" x="528.2" y="484" fill="#2c1301"/><rect class="he" x="533.2" y="484" fill="#311601"/><rect class="he" x="538.2" y="484" fill="#321701"/><rect class="he" x="543.2" y="484" fill="#381a01"/><rect class="he" x="548.2" y="484" fill="#3b1b01"/><rect class="he" x="553.2" y="484" fill="#3d1c01"/><rect class="he" x="558.2" y="484" fill="#462002"/><rect class="he" x="563.2" y="484" fill="#482202"/><rect class="he" x="568.2" y="484" fill="#4c2402"/><rect class="he" x="573.2" y="484" fill="#572902"/><rect class="he" x="578.2" y="484" fill="#5b2b02"/><rect class="he" x="583.2" y="484" fill="#632e02"/><rect class="he" x="588.2" y="484" fill="#6d3303"/><rect class="he" x="593.2" y="484" fill="#703403"/><rect class="he" x="598.2" y="484" fill="#793803"/><rect class="he" x="603.2" y="484" fill="#853f03"/><rect class="he" x="608.2" y="484" fill="#8b4203"/><rect class="he" x="613.2" y="484" fill="#994a04"/><rect class="he" x="618.2" y="484" fill="#a24f04"/><rect class="he" x="623.2" y="484" fill="#a85204"/><rect class="he" x="628.2" y="484" fill="#a85204"/><rect class="he" x="633.2" y="484" fill="#a85204"/><rect class="he" x="403.2" y="489" fill="#8d4403"/><rect class="he" x="408.2" y="489" fill="#8d4403"/><rect class="he" x="413.2" y="489" fill="#8c4303"/><rect class="he" x="418.2" y="489" fill="#8e4403"/><rect class="he" x="423.2" y="489" fill="#7d3b03"/><rect class="he" x="428.2" y="489" fill="#6d3303"/><rect class="he" x="433.2" y="489" fill="#6e3403"/><rect class="he" x="438.2" y="489" fill="#5e2c02"/><rect class="he" x="443.2" y="489" fill="#512602"/><rect class="he" x="448.2" y="489" fill="#472102"/><rect class="he" x="453.2" y="489" fill="#2e1401"/><rect class="he" x="458.2" y="489" fill="#241001"/><rect class="he" x="463.2" y="489" fill="#1e0d01"/><rect class="he" x="468.2" y="489" fill="#160a00"/><rect class="he" x="473.2" y="489" fill="#170a01"/><rect class="he" x="478.2" y="489" fill="#160a00"/><rect class="he" x="483.2" y="489" fill="#130900"/><rect class="he" x="488.2" y="489" fill="#150900"/><rect class="he" x="493.2" y="489" fill="#150900"/><rect class="he" x="498.2" y="489" fill="#140900"/><rect class="he" x="503.2" y="489" fill="#170a01"/><rect class="he" x="508.2" y="489" fill="#160a00"/><rect class="he" x="513.2" y="489" fill="#160a00"/><rect class="he" x="518.2" y="489" fill="#190b01"/><rect class="he" x="523.2" y="489" fill="#170a01"/><rect class="he" x="528.2" y="489" fill="#190b01"/><rect class="he" x="533.2" y="489" fill="#1d0d01"/><rect class="he" x="538.2" y="489" fill="#1d0d01"/><rect class="he" x="543.2" y="489" fill="#220f01"/><rect class="he" x="548.2" y="489" fill="#251001"/><rect class="he" x="553.2" y="489" fill="#271101"/><rect class="he" x="558.2" y="489" fill="#2e1401"/><rect class="he" x="563.2" y="489" fill="#311601"/><rect class="he" x="568.2" y="489" fill="#361901"/><rect class="he" x="573.2" y="489" fill="#401e01"/><rect class="he" x="578.2" y="489" fill="#441f02"/><rect class="he" x="583.2" y="489" fill="#4c2302"/><rect class="he" x="588.2" y="489" fill="#562802"/><rect class="he" x="593.2" y="489" fill="#582902"/><rect class="he" x="598.2" y="489" fill="#602d02"/><rect class="he" x="603.2" y="489" fill="#683103"/><rect class="he" x="608.2" y="489" fill="#6b3203"/><rect class="he" x="613.2" y="489" fill="#763703"/><rect class="he" x="618.2" y="489" fill="#7d3b03"/><rect class="he" x="623.2" y="489" fill="#813d03"/><rect class="he" x="628.2" y="489" fill="#813d03"/><rect class="he" x="633.2" y="489" fill="#813d03"/><rect class="he" x="403.2" y="494" fill="#8d4403"/><rect class="he" x="408.2" y="494" fill="#8d4403"/><rect class="he" x="413.2" y="494" fill="#8c4303"/><rect class="he" x="418.2" y="494" fill="#8e4403"/><rect class="he" x="423.2" y="494" fill="#7d3b03"/><rect class="he" x="428.2" y="494" fill="#6d3303"/><rect class="he" x="433.2" y="494" fill="#6e3403"/><rect class="he" x="438.2" y="494" fill="#5e2c02"/><rect class="he" x="443.2" y="494" fill="#502602"/><rect class="he" x="448.2" y="494" fill="#401d01"/><rect class="he" x="453.2" y="494" fill="#231001"/><rect class="he" x="458.2" y="494" fill="#150900"/><rect class="he" x="463.2" y="494" fill="#0e0600"/><rect class="he" x="468.2" y="494" fill="#060300"/><rect class="he" x="473.2" y="494" fill="#070300"/><rect class="he" x="478.2" y="494" fill="#050200"/><rect class="he" x="483.2" y="494" fill="#020100"/><rect class="he" x="488.2" y="494" fill="#040200"/><rect class="he" x="493.2" y="494" fill="#030100"/><rect class="he" x="498.2" y="494" fill="#020100"/><rect class="he" x="503.2" y="494" fill="#050200"/><rect class="he" x="508.2" y="494" fill="#030100"/><rect class="he" x="513.2" y="494" fill="#030100"/><rect class="he" x="518.2" y="494" fill="#060200"/><rect class="he" x="523.2" y="494" fill="#030100"/><rect class="he" x="528.2" y="494" fill="#050200"/><rect class="he" x="533.2" y="494" fill="#090400"/><rect class="he" x="538.2" y="494" fill="#090400"/><rect class="he" x="543.2" y="494" fill="#0e0600"/><rect class="he" x="548.2" y="494" fill="#110700"/><rect class="he" x="553.2" y="494" fill="#140900"/><rect class="he" x="558.2" y="494" fill="#1b0c01"/><rect class="he" x="563.2" y="494" fill="#1f0e01"/><rect class="he" x="568.2" y="494" fill="#231001"/><rect class="he" x="573.2" y="494" fill="#2b1301"/><rect class="he" x="578.2" y="494" fill="#2f1501"/><rect class="he" x="583.2" y="494" fill="#391a01"/><rect class="he" x="588.2" y="494" fill="#452002"/><rect class="he" x="593.2" y="494" fill="#472102"/><rect class="he" x="598.2" y="494" fill="#4e2502"/><rect class="he" x="603.2" y="494" fill="#562802"/><rect class="he" x="608.2" y="494" fill="#592a02"/><rect class="he" x="613.2" y="494" fill="#632e02"/><rect class="he" x="618.2" y="494" fill="#683103"/><rect class="he" x="623.2" y="494" fill="#6b3203"/><rect class="he" x="628.2" y="494" fill="#6b3203"/><rect class="he" x="633.2" y="494" fill="#6b3203"/><rect class="he" x="403.2" y="499" fill="#8d4403"/><rect class="he" x="408.2" y="499" fill="#8d4403"/><rect class="he" x="413.2" y="499" fill="#8c4303"/><rect class="he" x="418.2" y="499" fill="#8e4403"/><rect class="he" x="423.2" y="499" fill="#7d3b03"/><rect class="he" x="428.2" y="499" fill="#6d3303"/><rect class="he" x="433.2" y="499" fill="#6e3403"/><rect class="he" x="438.2" y="499" fill="#5e2c02"/><rect class="he" x="443.2" y="499" fill="#502502"/><rect class="he" x="448.2" y="499" fill="#3e1d01"/><rect class="he" x="453.2" y="499" fill="#210f01"/><rect class="he" x="458.2" y="499" fill="#110800"/><rect class="he" x="463.2" y="499" fill="#0a0500"/><rect class="he" x="468.2" y="499" fill="#020100"/><rect class="he" x="473.2" y="499" fill="#030100"/><rect class="he" x="478.2" y="499" fill="#010100"/><rect class="he" x="483.2" y="499" fill="#000000"/><rect class="he" x="488.2" y="499" fill="#000000"/><rect class="he" x="493.2" y="499" fill="#000000"/><rect class="he" x="498.2" y="499" fill="#000000"/><rect class="he" x="503.2" y="499" fill="#000000"/><rect class="he" x="508.2" y="499" fill="#000000"/><rect class="he" x="513.2" y="499" fill="#000000"/><rect class="he" x="518.2" y="499" fill="#000000"/><rect class="he" x="523.2" y="499" fill="#000000"/><rect class="he" x="528.2" y="499" fill="#000000"/><rect class="he" x="533.2" y="499" fill="#040200"/><rect class="he" x="538.2" y="499" fill="#040200"/><rect class="he" x="543.2" y="499" fill="#090400"/><rect class="he" x="548.2" y="499" fill="#0c0500"/><rect class="he" x="553.2" y="499" fill="#0f0700"/><rect class="he" x="558.2" y="499" fill="#170a01"/><rect class="he" x="563.2" y="499" fill="#1c0c01"/><rect class="he" x="568.2" y="499" fill="#210e01"/><rect class="he" x="573.2" y="499" fill="#291201"/><rect class="he" x="578.2" y="499" fill="#2d1401"/><rect class="he" x="583.2" y="499" fill="#391a01"/><rect class="he" x="588.2" y="499" fill="#462002"/><rect class="he" x="593.2" y="499" fill="#482102"/><rect class="he" x="598.2" y="499" fill="#502502"/><rect class="he" x="603.2" y="499" fill="#582902"/><rect class="he" x="608.2" y="499" fill="#5b2b02"/><rect class="he" x="613.2" y="499" fill="#663002"/><rect class="he" x="618.2" y="499" fill="#6b3203"/><rect class="he" x="623.2" y="499" fill="#6e3403"/><rect class="he" x="628.2" y="499" fill="#6e3403"/><rect class="he" x="633.2" y="499" fill="#6e3403"/><rect class="he" x="403.2" y="504" fill="#8d4403"/><rect class="he" x="408.2" y="504" fill="#8d4403"/><rect class="he" x="413.2" y="504" fill="#8c4303"/><rect class="he" x="418.2" y="504" fill="#8e4403"/><rect class="he" x="423.2" y="504" fill="#7d3b03"/><rect class="he" x="428.2" y="504" fill="#6d3303"/><rect class="he" x="433.2" y="504" fill="#6e3403"/><rect class="he" x="438.2" y="504" fill="#5e2c02"/><rect class="he" x="443.2" y="504" fill="#512602"/><rect class="he" x="448.2" y="504" fill="#442002"/><rect class="he" x="453.2" y="504" fill="#291201"/><rect class="he" x="458.2" y="504" fill="#1e0d01"/><rect class="he" x="463.2" y="504" fill="#170a01"/><rect class="he" x="468.2" y="504" fill="#0f0700"/><rect class="he" x="473.2" y="504" fill="#100700"/><rect class="he" x="478.2" y="504" fill="#0e0600"/><rect class="he" x="483.2" y="504" fill="#0b0500"/><rect class="he" x="488.2" y="504" fill="#0c0600"/><rect class="he" x="493.2" y="504" fill="#0b0500"/><rect class="he" x="498.2" y="504" fill="#0a0500"/><rect class="he" x="503.2" y="504" fill="#0d0600"/><rect class="he" x="508.2" y="504" fill="#0b0500"/><rect class="he" x="513.2" y="504" fill="#0b0500"/><rect class="he" x="518.2" y="504" fill="#0d0600"/><rect class="he" x="523.2" y="504" fill="#0b0500"/><rect class="he" x="528.2" y="504" fill="#0d0600"/><rect class="he" x="533.2" y="504" fill="#110700"/><rect class="he" x="538.2" y="504" fill="#110800"/><rect class="he" x="543.2" y="504" fill="#160a00"/><rect class="he" x="548.2" y="504" fill="#1a0b01"/><rect class="he" x="553.2" y="504" fill="#1d0d01"/><rect class="he" x="558.2" y="504" fill="#261101"/><rect class="he" x="563.2" y="504" fill="#2a1301"/><rect class="he" x="568.2" y="504" fill="#301601"/><rect class="he" x="573.2" y="504" fill="#3c1b01"/><rect class="he" x="578.2" y="504" fill="#411e02"/><rect class="he" x="583.2" y="504" fill="#4c2302"/><rect class="he" x="588.2" y="504" fill="#592a02"/><rect class="he" x="593.2" y="504" fill="#5c2b02"/><rect class="he" x="598.2" y="504" fill="#663002"/><rect class="he" x="603.2" y="504" fill="#703403"/><rect class="he" x="608.2" y="504" fill="#753703"/><rect class="he" x="613.2" y="504" fill="#823d03"/><rect class="he" x="618.2" y="504" fill="#8b4203"/><rect class="he" x="623.2" y="504" fill="#8f4403"/><rect class="he" x="628.2" y="504" fill="#8f4403"/><rect class="he" x="633.2" y="504" fill="#8f4403"/><rect class="he" x="403.2" y="509" fill="#8d4403"/><rect class="he" x="408.2" y="509" fill="#8d4403"/><rect class="he" x="413.2" y="509" fill="#8c4303"/><rect class="he" x="418.2" y="509" fill="#8e4403"/><rect class="he" x="423.2" y="509" fill="#7d3b03"/><rect class="he" x="428.2" y="509" fill="#6d3303"/><rect class="he" x="433.2" y="509" fill="#6e3403"/><rect class="he" x="438.2" y="509" fill="#5e2c02"/><rect class="he" x="443.2" y="509" fill="#512602"/><rect class="he" x="448.2" y="509" fill="#4a2302"/><rect class="he" x="453.2" y="509" fill="#341801"/><rect class="he" x="458.2" y="509" fill="#2b1301"/><rect class="he" x="463.2" y="509" fill="#261101"/><rect class="he" x="468.2" y="509" fill="#1e0d01"/><rect class="he" x="473.2" y="509" fill="#1e0d01"/><rect class="he" x="478.2" y="509" fill="#1d0d01"/><rect class="he" x="483.2" y="509" fill="#1a0b01"/><rect class="he" x="488.2" y="509" fill="#1b0c01"/><rect class="he" x="493.2" y="509" fill="#1a0c01"/><rect class="he" x="498.2" y="509" fill="#190b01"/><rect class="he" x="503.2" y="509" fill="#1b0c01"/><rect class="he" x="508.2" y="509" fill="#1a0b01"/><rect class="he" x="513.2" y="509" fill="#1a0b01"/><rect class="he" x="518.2" y="509" fill="#1c0c01"/><rect class="he" x="523.2" y="509" fill="#1a0c01"/><rect class="he" x="528.2" y="509" fill="#1c0c01"/><rect class="he" x="533.2" y="509" fill="#200e01"/><rect class="he" x="538.2" y="509" fill="#210e01"/><rect class="he" x="543.2" y="509" fill="#261101"/><rect class="he" x="548.2" y="509" fill="#2a1301"/><rect class="he" x="553.2" y="509" fill="#2e1401"/><rect class="he" x="558.2" y="509" fill="#391a01"/><rect class="he" x="563.2" y="509" fill="#3f1d01"/><rect class="he" x="568.2" y="509" fill="#462102"/><rect class="he" x="573.2" y="509" fill="#532702"/><rect class="he" x="578.2" y="509" fill="#592a02"/><rect class="he" x="583.2" y="509" fill="#632f02"/><rect class="he" x="588.2" y="509" fill="#703503"/><rect class="he" x="593.2" y="509" fill="#763703"/><rect class="he" x="598.2" y="509" fill="#853f03"/><rect class="he" x="603.2" y="509" fill="#944704"/><rect class="he" x="608.2" y="509" fill="#9d4c04"/><rect class="he" x="613.2" y="509" fill="#ae5504"/><rect class="he" x="618.2" y="509" fill="#ba5b04"/><rect class="he" x="623.2" y="509" fill="#c05f04"/><rect class="he" x="628.2" y="509" fill="#c05f04"/><rect class="he" x="633.2" y="509" fill="#c05f04"/><rect class="he" x="403.2" y="514" fill="#8d4403"/><rect class="he" x="408.2" y="514" fill="#8d4403"/><rect class="he" x="413.2" y="514" fill="#8c4303"/><rect class="he" x="418.2" y="514" fill="#8e4403"/><rect class="he" x="423.2" y="514" fill="#7d3b03"/><rect class="he" x="428.2" y="514" fill="#6d3303"/><rect class="he" x="433.2" y="514" fill="#6e3403"/><rect class="he" x="438.2" y="514" fill="#5e2c02"/><rect class="he" x="443.2" y="514" fill="#522602"/><rect class="he" x="448.2" y="514" fill="#4d2402"/><rect class="he" x="453.2" y="514" fill="#391a01"/><rect class="he" x="458.2" y="514" fill="#321701"/><rect class="he" x="463.2" y="514" fill="#2d1401"/><rect class="he" x="468.2" y="514" fill="#251101"/><rect class="he" x="473.2" y="514" fill="#271101"/><rect class="he" x="478.2" y="514" fill="#271101"/><rect class="he" x="483.2" y="514" fill="#241001"/><rect class="he" x="488.2" y="514" fill="#251001"/><rect class="he" x="493.2" y="514" fill="#231001"/><rect class="he" x="498.2" y="514" fill="#210f01"/><rect class="he" x="503.2" y="514" fill="#241001"/><rect class="he" x="508.2" y="514" fill="#220f01"/><rect class="he" x="513.2" y="514" fill="#220f01"/><rect class="he" x="518.2" y="514" fill="#241001"/><rect class="he" x="523.2" y="514" fill="#220f01"/><rect class="he" x="528.2" y="514" fill="#251001"/><rect class="he" x="533.2" y="514" fill="#291201"/><rect class="he" x="538.2" y="514" fill="#2a1301"/><rect class="he" x="543.2" y="514" fill="#301601"/><rect class="he" x="548.2" y="514" fill="#361901"/><rect class="he" x="553.2" y="514" fill="#3b1b01"/><rect class="he" x="558.2" y="514" fill="#472102"/><rect class="he" x="563.2" y="514" fill="#4e2502"/><rect class="he" x="568.2" y="514" fill="#562902"/><rect class="he" x="573.2" y="514" fill="#652f02"/><rect class="he" x="578.2" y="514" fill="#6c3303"/><rect class="he" x="583.2" y="514" fill="#783803"/><rect class="he" x="588.2" y="514" fill="#8a4203"/><rect class="he" x="593.2" y="514" fill="#954804"/><rect class="he" x="598.2" y="514" fill="#a95204"/><rect class="he" x="603.2" y="514" fill="#be5e04"/><rect class="he" x="608.2" y="514" fill="#ce6605"/><rect class="he" x="613.2" y="514" fill="#e47308"/><rect class="he" x="618.2" y="514" fill="#f37c0d"/><rect class="he" x="623.2" y="514" fill="#fc820f"/><rect class="he" x="628.2" y="514" fill="#fc820f"/><rect class="he" x="633.2" y="514" fill="#fc820f"/><rect class="he" x="403.2" y="519" fill="#8d4403"/><rect class="he" x="408.2" y="519" fill="#8d4403"/><rect class="he" x="413.2" y="519" fill="#8c4303"/><rect class="he" x="418.2" y="519" fill="#8e4403"/><rect class="he" x="423.2" y="519" fill="#7d3b03"/><rect class="he" x="428.2" y="519" fill="#6d3303"/><rect class="he" x="433.2" y="519" fill="#6e3403"/><rect class="he" x="438.2" y="519" fill="#5e2c02"/><rect class="he" x="443.2" y="519" fill="#522602"/><rect class="he" x="448.2" y="519" fill="#4e2402"/><rect class="he" x="453.2" y="519" fill="#3b1b01"/><rect class="he" x="458.2" y="519" fill="#371901"/><rect class="he" x="463.2" y="519" fill="#351801"/><rect class="he" x="468.2" y="519" fill="#301501"/><rect class="he" x="473.2" y="519" fill="#391a01"/><rect class="he" x="478.2" y="519" fill="#411e01"/><rect class="he" x="483.2" y="519" fill="#3f1d01"/><rect class="he" x="488.2" y="519" fill="#3f1d01"/><rect class="he" x="493.2" y="519" fill="#371901"/><rect class="he" x="498.2" y="519" fill="#301501"/><rect class="he" x="503.2" y="519" fill="#301601"/><rect class="he" x="508.2" y="519" fill="#2c1401"/><rect class="he" x="513.2" y="519" fill="#2d1401"/><rect class="he" x="518.2" y="519" fill="#301501"/><rect class="he" x="523.2" y="519" fill="#2d1401"/><rect class="he" x="528.2" y="519" fill="#301601"/><rect class="he" x="533.2" y="519" fill="#361901"/><rect class="he" x="538.2" y="519" fill="#381901"/><rect class="he" x="543.2" y="519" fill="#401e01"/><rect class="he" x="548.2" y="519" fill="#472102"/><rect class="he" x="553.2" y="519" fill="#4d2402"/><rect class="he" x="558.2" y="519" fill="#592a02"/><rect class="he" x="563.2" y="519" fill="#622e02"/><rect class="he" x="568.2" y="519" fill="#6c3303"/><rect class="he" x="573.2" y="519" fill="#7d3b03"/><rect class="he" x="578.2" y="519" fill="#894103"/><rect class="he" x="583.2" y="519" fill="#9a4a04"/><rect class="he" x="588.2" y="519" fill="#b05604"/><rect class="he" x="593.2" y="519" fill="#c05f04"/><rect class="he" x="598.2" y="519" fill="#db6e06"/><rect class="he" x="603.2" y="519" fill="#f57e0d"/><rect class="he" x="608.2" y="519" fill="#fa9232"/><rect class="he" x="613.2" y="519" fill="#f9af6b"/><rect class="he" x="618.2" y="519" fill="#fac491"/><rect class="he" x="623.2" y="519" fill="#fbcea5"/><rect class="he" x="628.2" y="519" fill="#fbcea5"/><rect class="he" x="633.2" y="519" fill="#fbcea5"/><rect class="he" x="403.2" y="524" fill="#8d4403"/><rect class="he" x="408.2" y="524" fill="#8d4403"/><rect class="he" x="413.2" y="524" fill="#8c4303"/><rect class="he" x="418.2" y="524" fill="#8e4403"/><rect class="he" x="423.2" y="524" fill="#7d3b03"/><rect class="he" x="428.2" y="524" fill="#6d3303"/><rect class="he" x="433.2" y="524" fill="#6e3403"/><rect class="he" x="438.2" y="524" fill="#5e2c02"/><rect class="he" x="443.2" y="524" fill="#522602"/><rect class="he" x="448.2" y="524" fill="#4e2402"/><rect class="he" x="453.2" y="524" fill="#3c1b01"/><rect class="he" x="458.2" y="524" fill="#3e1c01"/><rect class="he" x="463.2" y="524" fill="#431f02"/><rect class="he" x="468.2" y="524" fill="#4a2202"/><rect class="he" x="473.2" y="524" fill="#663002"/><rect class="he" x="478.2" y="524" fill="#843e03"/><rect class="he" x="483.2" y="524" fill="#8b4303"/><rect class="he" x="488.2" y="524" fill="#833e03"/><rect class="he" x="493.2" y="524" fill="#6a3103"/><rect class="he" x="498.2" y="524" fill="#542702"/><rect class="he" x="503.2" y="524" fill="#4d2402"/><rect class="he" x="508.2" y="524" fill="#462002"/><rect class="he" x="513.2" y="524" fill="#452002"/><rect class="he" x="518.2" y="524" fill="#492202"/><rect class="he" x="523.2" y="524" fill="#462102"/><rect class="he" x="528.2" y="524" fill="#492202"/><rect class="he" x="533.2" y="524" fill="#4f2502"/><rect class="he" x="538.2" y="524" fill="#512602"/><rect class="he" x="543.2" y="524" fill="#5a2a02"/><rect class="he" x="548.2" y="524" fill="#622e02"/><rect class="he" x="553.2" y="524" fill="#6a3103"/><rect class="he" x="558.2" y="524" fill="#783803"/><rect class="he" x="563.2" y="524" fill="#853f03"/><rect class="he" x="568.2" y="524" fill="#934704"/><rect class="he" x="573.2" y="524" fill="#a95204"/><rect class="he" x="578.2" y="524" fill="#b65a04"/><rect class="he" x="583.2" y="524" fill="#cb6405"/><rect class="he" x="588.2" y="524" fill="#e27208"/><rect class="he" x="593.2" y="524" fill="#f57d0d"/><rect class="he" x="598.2" y="524" fill="#fa973d"/><rect class="he" x="603.2" y="524" fill="#f9b87b"/><rect class="he" x="608.2" y="524" fill="#fbd0a7"/><rect class="he" x="613.2" y="524" fill="#fde7d1"/><rect class="he" x="618.2" y="524" fill="#fffaf5"/><rect class="he" x="623.2" y="524" fill="#fffcf8"/><rect class="he" x="628.2" y="524" fill="#fffcf8"/><rect class="he" x="633.2" y="524" fill="#fffcf8"/><rect class="he" x="403.2" y="529" fill="#8d4403"/><rect class="he" x="408.2" y="529" fill="#8d4403"/><rect class="he" x="413.2" y="529" fill="#8c4303"/><rect class="he" x="418.2" y="529" fill="#8e4403"/><rect class="he" x="423.2" y="529" fill="#7d3b03"/><rect class="he" x="428.2" y="529" fill="#6d3303"/><rect class="he" x="433.2" y="529" fill="#6e3403"/><rect class="he" x="438.2" y="529" fill="#5e2c02"/><rect class="he" x="443.2" y="529" fill="#522602"/><rect class="he" x="448.2" y="529" fill="#4e2402"/><rect class="he" x="453.2" y="529" fill="#3c1c01"/><rect class="he" x="458.2" y="529" fill="#411e01"/><rect class="he" x="463.2" y="529" fill="#4b2302"/><rect class="he" x="468.2" y="529" fill="#582902"/><rect class="he" x="473.2" y="529" fill="#813d03"/><rect class="he" x="478.2" y="529" fill="#b25704"/><rect class="he" x="483.2" y="529" fill="#bf5e04"/><rect class="he" x="488.2" y="529" fill="#b25804"/><rect class="he" x="493.2" y="529" fill="#8a4203"/><rect class="he" x="498.2" y="529" fill="#693103"/><rect class="he" x="503.2" y="529" fill="#5c2b02"/><rect class="he" x="508.2" y="529" fill="#532702"/><rect class="he" x="513.2" y="529" fill="#522702"/><rect class="he" x="518.2" y="529" fill="#552802"/><rect class="he" x="523.2" y="529" fill="#532702"/><rect class="he" x="528.2" y="529" fill="#562902"/><rect class="he" x="533.2" y="529" fill="#5d2c02"/><rect class="he" x="538.2" y="529" fill="#5f2d02"/><rect class="he" x="543.2" y="529" fill="#693103"/><rect class="he" x="548.2" y="529" fill="#713503"/><rect class="he" x="553.2" y="529" fill="#793903"/><rect class="he" x="558.2" y="529" fill="#8d4303"/><rect class="he" x="563.2" y="529" fill="#9a4a04"/><rect class="he" x="568.2" y="529" fill="#a95304"/><rect class="he" x="573.2" y="529" fill="#c05f04"/><rect class="he" x="578.2" y="529" fill="#cf6705"/><rect class="he" x="583.2" y="529" fill="#e27208"/><rect class="he" x="588.2" y="529" fill="#fa810e"/><rect class="he" x="593.2" y="529" fill="#fa9435"/><rect class="he" x="598.2" y="529" fill="#f9b270"/><rect class="he" x="603.2" y="529" fill="#fbcfa6"/><rect class="he" x="608.2" y="529" fill="#fde5cd"/><rect class="he" x="613.2" y="529" fill="#fffcf8"/><rect class="he" x="618.2" y="529" fill="#fffcf8"/><rect class="he" x="623.2" y="529" fill="#fffcf8"/><rect class="he" x="628.2" y="529" fill="#fffcf8"/><rect class="he" x="633.2" y="529" fill="#fffcf8"/><rect class="he" x="403.2" y="534" fill="#8d4403"/><rect class="he" x="408.2" y="534" fill="#8d4403"/><rect class="he" x="413.2" y="534" fill="#8c4303"/><rect class="he" x="418.2" y="534" fill="#8e4403"/><rect class="he" x="423.2" y="534" fill="#7d3b03"/><rect class="he" x="428.2" y="534" fill="#6d3303"/><rect class="he" x="433.2" y="534" fill="#6e3403"/><rect class="he" x="438.2" y="534" fill="#5e2c02"/><rect class="he" x="443.2" y="534" fill="#522602"/><rect class="he" x="448.2" y="534" fill="#4e2402"/><rect class="he" x="453.2" y="534" fill="#3c1b01"/><rect class="he" x="458.2" y="534" fill="#3c1c01"/><rect class="he" x="463.2" y="534" fill="#401e01"/><rect class="he" x="468.2" y="534" fill="#442002"/><rect class="he" x="473.2" y="534" fill="#5c2b02"/><rect class="he" x="478.2" y="534" fill="#733603"/><rect class="he" x="483.2" y="534" fill="#773803"/><rect class="he" x="488.2" y="534" fill="#723503"/><rect class="he" x="493.2" y="534" fill="#5e2c02"/><rect class="he" x="498.2" y="534" fill="#4c2402"/><rect class="he" x="503.2" y="534" fill="#472102"/><rect class="he" x="508.2" y="534" fill="#411e01"/><rect class="he" x="513.2" y="534" fill="#401e01"/><rect class="he" x="518.2" y="534" fill="#431f02"/><rect class="he" x="523.2" y="534" fill="#411e01"/><rect class="he" x="528.2" y="534" fill="#442002"/><rect class="he" x="533.2" y="534" fill="#4a2302"/><rect class="he" x="538.2" y="534" fill="#4c2402"/><rect class="he" x="543.2" y="534" fill="#552802"/><rect class="he" x="548.2" y="534" fill="#5e2c02"/><rect class="he" x="553.2" y="534" fill="#663002"/><rect class="he" x="558.2" y="534" fill="#753703"/><rect class="he" x="563.2" y="534" fill="#823e03"/><rect class="he" x="568.2" y="534" fill="#924604"/><rect class="he" x="573.2" y="534" fill="#a95204"/><rect class="he" x="578.2" y="534" fill="#b85a04"/><rect class="he" x="583.2" y="534" fill="#cd6605"/><rect class="he" x="588.2" y="534" fill="#e67409"/><rect class="he" x="593.2" y="534" fill="#fa810e"/><rect class="he" x="598.2" y="534" fill="#f99e4b"/><rect class="he" x="603.2" y="534" fill="#f9bf87"/><rect class="he" x="608.2" y="534" fill="#fbd6b3"/><rect class="he" x="613.2" y="534" fill="#feeedd"/><rect class="he" x="618.2" y="534" fill="#fffcf8"/><rect class="he" x="623.2" y="534" fill="#fffcf8"/><rect class="he" x="628.2" y="534" fill="#fffcf8"/><rect class="he" x="633.2" y="534" fill="#fffcf8"/><rect class="he" x="403.2" y="539" fill="#8d4403"/><rect class="he" x="408.2" y="539" fill="#8d4403"/><rect class="he" x="413.2" y="539" fill="#8c4303"/><rect class="he" x="418.2" y="539" fill="#8e4403"/><rect class="he" x="423.2" y="539" fill="#7d3b03"/><rect class="he" x="428.2" y="539" fill="#6d3303"/><rect class="he" x="433.2" y="539" fill="#6e3403"/><rect class="he" x="438.2" y="539" fill="#5e2c02"/><rect class="he" x="443.2" y="539" fill="#522602"/><rect class="he" x="448.2" y="539" fill="#4e2402"/><rect class="he" x="453.2" y="539" fill="#3b1b01"/><rect class="he" x="458.2" y="539" fill="#361901"/><rect class="he" x="463.2" y="539" fill="#331701"/><rect class="he" x="468.2" y="539" fill="#2c1401"/><rect class="he" x="473.2" y="539" fill="#331701"/><rect class="he" x="478.2" y="539" fill="#381901"/><rect class="he" x="483.2" y="539" fill="#351801"/><rect class="he" x="488.2" y="539" fill="#361801"/><rect class="he" x="493.2" y="539" fill="#301501"/><rect class="he" x="498.2" y="539" fill="#2b1301"/><rect class="he" x="503.2" y="539" fill="#2c1401"/><rect class="he" x="508.2" y="539" fill="#291201"/><rect class="he" x="513.2" y="539" fill="#2a1301"/><rect class="he" x="518.2" y="539" fill="#2c1401"/><rect class="he" x="523.2" y="539" fill="#2a1301"/><rect class="he" x="528.2" y="539" fill="#2d1401"/><rect class="he" x="533.2" y="539" fill="#331701"/><rect class="he" x="538.2" y="539" fill="#341801"/><rect class="he" x="543.2" y="539" fill="#3d1c01"/><rect class="he" x="548.2" y="539" fill="#452002"/><rect class="he" x="553.2" y="539" fill="#4d2402"/><rect class="he" x="558.2" y="539" fill="#5b2b02"/><rect class="he" x="563.2" y="539" fill="#663002"/><rect class="he" x="568.2" y="539" fill="#723503"/><rect class="he" x="573.2" y="539" fill="#864003"/><rect class="he" x="578.2" y="539" fill="#944704"/><rect class="he" x="583.2" y="539" fill="#a85204"/><rect class="he" x="588.2" y="539" fill="#c15f05"/><rect class="he" x="593.2" y="539" fill="#d46a05"/><rect class="he" x="598.2" y="539" fill="#ef7a0b"/><rect class="he" x="603.2" y="539" fill="#fa9130"/><rect class="he" x="608.2" y="539" fill="#f9a961"/><rect class="he" x="613.2" y="539" fill="#fac592"/><rect class="he" x="618.2" y="539" fill="#fbd6b3"/><rect class="he" x="623.2" y="539" fill="#fcdfc3"/><rect class="he" x="628.2" y="539" fill="#fcdfc3"/><rect class="he" x="633.2" y="539" fill="#fcdfc3"/><rect class="he" x="403.2" y="544" fill="#8d4403"/><rect class="he" x="408.2" y="544" fill="#8d4403"/><rect class="he" x="413.2" y="544" fill="#8c4303"/><rect class="he" x="418.2" y="544" fill="#8e4403"/><rect class="he" x="423.2" y="544" fill="#7d3b03"/><rect class="he" x="428.2" y="544" fill="#6d3303"/><rect class="he" x="433.2" y="544" fill="#6e3403"/><rect class="he" x="438.2" y="544" fill="#5e2c02"/><rect class="he" x="443.2" y="544" fill="#522602"/><rect class="he" x="448.2" y="544" fill="#4d2402"/><rect class="he" x="453.2" y="544" fill="#3a1a01"/><rect class="he" x="458.2" y="544" fill="#331701"/><rect class="he" x="463.2" y="544" fill="#2d1401"/><rect class="he" x="468.2" y="544" fill="#241001"/><rect class="he" x="473.2" y="544" fill="#251001"/><rect class="he" x="478.2" y="544" fill="#241001"/><rect class="he" x="483.2" y="544" fill="#200e01"/><rect class="he" x="488.2" y="544" fill="#210f01"/><rect class="he" x="493.2" y="544" fill="#200e01"/><rect class="he" x="498.2" y="544" fill="#1f0e01"/><rect class="he" x="503.2" y="544" fill="#220f01"/><rect class="he" x="508.2" y="544" fill="#210f01"/><rect class="he" x="513.2" y="544" fill="#220f01"/><rect class="he" x="518.2" y="544" fill="#241001"/><rect class="he" x="523.2" y="544" fill="#230f01"/><rect class="he" x="528.2" y="544" fill="#251101"/><rect class="he" x="533.2" y="544" fill="#291201"/><rect class="he" x="538.2" y="544" fill="#2b1301"/><rect class="he" x="543.2" y="544" fill="#321701"/><rect class="he" x="548.2" y="544" fill="#3a1b01"/><rect class="he" x="553.2" y="544" fill="#411e02"/><rect class="he" x="558.2" y="544" fill="#4f2502"/><rect class="he" x="563.2" y="544" fill="#592a02"/><rect class="he" x="568.2" y="544" fill="#642f02"/><rect class="he" x="573.2" y="544" fill="#753703"/><rect class="he" x="578.2" y="544" fill="#803d03"/><rect class="he" x="583.2" y="544" fill="#924604"/><rect class="he" x="588.2" y="544" fill="#a85204"/><rect class="he" x="593.2" y="544" fill="#b75a04"/><rect class="he" x="598.2" y="544" fill="#cf6705"/><rect class="he" x="603.2" y="544" fill="#e67409"/><rect class="he" x="608.2" y="544" fill="#f47d0d"/><rect class="he" x="613.2" y="544" fill="#fb8f2c"/><rect class="he" x="618.2" y="544" fill="#f99f4e"/><rect class="he" x="623.2" y="544" fill="#f9a85f"/><rect class="he" x="628.2" y="544" fill="#f9a85f"/><rect class="he" x="633.2" y="544" fill="#f9a85f"/><rect class="he" x="403.2" y="549" fill="#8d4403"/><rect class="he" x="408.2" y="549" fill="#8d4403"/><rect class="he" x="413.2" y="549" fill="#8c4303"/><rect class="he" x="418.2" y="549" fill="#8e4403"/><rect class="he" x="423.2" y="549" fill="#7d3b03"/><rect class="he" x="428.2" y="549" fill="#6d3303"/><rect class="he" x="433.2" y="549" fill="#6e3303"/><rect class="he" x="438.2" y="549" fill="#5e2c02"/><rect class="he" x="443.2" y="549" fill="#512602"/><rect class="he" x="448.2" y="549" fill="#4d2402"/><rect class="he" x="453.2" y="549" fill="#381a01"/><rect class="he" x="458.2" y="549" fill="#301501"/><rect class="he" x="463.2" y="549" fill="#291201"/><rect class="he" x="468.2" y="549" fill="#1f0e01"/><rect class="he" x="473.2" y="549" fill="#1e0d01"/><rect class="he" x="478.2" y="549" fill="#1c0c01"/><rect class="he" x="483.2" y="549" fill="#170a01"/><rect class="he" x="488.2" y="549" fill="#180b01"/><rect class="he" x="493.2" y="549" fill="#180b01"/><rect class="he" x="498.2" y="549" fill="#180b01"/><rect class="he" x="503.2" y="549" fill="#1c0c01"/><rect class="he" x="508.2" y="549" fill="#1c0c01"/><rect class="he" x="513.2" y="549" fill="#1e0d01"/><rect class="he" x="518.2" y="549" fill="#210f01"/><rect class="he" x="523.2" y="549" fill="#200e01"/><rect class="he" x="528.2" y="549" fill="#230f01"/><rect class="he" x="533.2" y="549" fill="#271101"/><rect class="he" x="538.2" y="549" fill="#281201"/><rect class="he" x="543.2" y="549" fill="#2e1501"/><rect class="he" x="548.2" y="549" fill="#361901"/><rect class="he" x="553.2" y="549" fill="#3d1c01"/><rect class="he" x="558.2" y="549" fill="#4b2302"/><rect class="he" x="563.2" y="549" fill="#542702"/><rect class="he" x="568.2" y="549" fill="#5e2c02"/><rect class="he" x="573.2" y="549" fill="#6e3303"/><rect class="he" x="578.2" y="549" fill="#773703"/><rect class="he" x="583.2" y="549" fill="#864003"/><rect class="he" x="588.2" y="549" fill="#9a4a04"/><rect class="he" x="593.2" y="549" fill="#a65104"/><rect class="he" x="598.2" y="549" fill="#b95b04"/><rect class="he" x="603.2" y="549" fill="#cd6605"/><rect class="he" x="608.2" y="549" fill="#d76b05"/><rect class="he" x="613.2" y="549" fill="#e67409"/><rect class="he" x="618.2" y="549" fill="#f07b0c"/><rect class="he" x="623.2" y="549" fill="#f67e0d"/><rect class="he" x="628.2" y="549" fill="#f67e0d"/><rect class="he" x="633.2" y="549" fill="#f67e0d"/><rect class="he" x="403.2" y="554" fill="#8d4403"/><rect class="he" x="408.2" y="554" fill="#8d4403"/><rect class="he" x="413.2" y="554" fill="#8c4303"/><rect class="he" x="418.2" y="554" fill="#8e4403"/><rect class="he" x="423.2" y="554" fill="#7d3a03"/><rect class="he" x="428.2" y="554" fill="#6d3303"/><rect class="he" x="433.2" y="554" fill="#6e3303"/><rect class="he" x="438.2" y="554" fill="#5e2c02"/><rect class="he" x="443.2" y="554" fill="#512602"/><rect class="he" x="448.2" y="554" fill="#4c2302"/><rect class="he" x="453.2" y="554" fill="#361901"/><rect class="he" x="458.2" y="554" fill="#2d1401"/><rect class="he" x="463.2" y="554" fill="#261101"/><rect class="he" x="468.2" y="554" fill="#1a0c01"/><rect class="he" x="473.2" y="554" fill="#180b01"/><rect class="he" x="478.2" y="554" fill="#140900"/><rect class="he" x="483.2" y="554" fill="#0f0700"/><rect class="he" x="488.2" y="554" fill="#100700"/><rect class="he" x="493.2" y="554" fill="#0f0700"/><rect class="he" x="498.2" y="554" fill="#110700"/><rect class="he" x="503.2" y="554" fill="#160a00"/><rect class="he" x="508.2" y="554" fill="#170a01"/><rect class="he" x="513.2" y="554" fill="#1a0c01"/><rect class="he" x="518.2" y="554" fill="#1f0e01"/><rect class="he" x="523.2" y="554" fill="#1e0d01"/><rect class="he" x="528.2" y="554" fill="#210f01"/><rect class="he" x="533.2" y="554" fill="#261101"/><rect class="he" x="538.2" y="554" fill="#271101"/><rect class="he" x="543.2" y="554" fill="#2c1401"/><rect class="he" x="548.2" y="554" fill="#341801"/><rect class="he" x="553.2" y="554" fill="#3b1b01"/><rect class="he" x="558.2" y="554" fill="#482202"/><rect class="he" x="563.2" y="554" fill="#502602"/><rect class="he" x="568.2" y="554" fill="#5a2a02"/><rect class="he" x="573.2" y="554" fill="#693103"/><rect class="he" x="578.2" y="554" fill="#713503"/><rect class="he" x="583.2" y="554" fill="#7e3b03"/><rect class="he" x="588.2" y="554" fill="#8f4503"/><rect class="he" x="593.2" y="554" fill="#994a04"/><rect class="he" x="598.2" y="554" fill="#ab5304"/><rect class="he" x="603.2" y="554" fill="#bc5c04"/><rect class="he" x="608.2" y="554" fill="#c26005"/><rect class="he" x="613.2" y="554" fill="#d16805"/><rect class="he" x="618.2" y="554" fill="#d96c06"/><rect class="he" x="623.2" y="554" fill="#dd6f07"/><rect class="he" x="628.2" y="554" fill="#dd6f07"/><rect class="he" x="633.2" y="554" fill="#dd6f07"/><rect class="he" x="403.2" y="559" fill="#8d4403"/><rect class="he" x="408.2" y="559" fill="#8d4403"/><rect class="he" x="413.2" y="559" fill="#8c4303"/><rect class="he" x="418.2" y="559" fill="#8e4403"/><rect class="he" x="423.2" y="559" fill="#7d3a03"/><rect class="he" x="428.2" y="559" fill="#6d3303"/><rect class="he" x="433.2" y="559" fill="#6e3303"/><rect class="he" x="438.2" y="559" fill="#5e2c02"/><rect class="he" x="443.2" y="559" fill="#512602"/><rect class="he" x="448.2" y="559" fill="#4b2302"/><rect class="he" x="453.2" y="559" fill="#361801"/><rect class="he" x="458.2" y="559" fill="#2c1401"/><rect class="he" x="463.2" y="559" fill="#251001"/><rect class="he" x="468.2" y="559" fill="#190b01"/><rect class="he" x="473.2" y="559" fill="#170a01"/><rect class="he" x="478.2" y="559" fill="#120800"/><rect class="he" x="483.2" y="559" fill="#0d0600"/><rect class="he" x="488.2" y="559" fill="#0e0600"/><rect class="he" x="493.2" y="559" fill="#0e0600"/><rect class="he" x="498.2" y="559" fill="#0f0700"/><rect class="he" x="503.2" y="559" fill="#150900"/><rect class="he" x="508.2" y="559" fill="#160a00"/><rect class="he" x="513.2" y="559" fill="#190b01"/><rect class="he" x="518.2" y="559" fill="#1e0d01"/><rect class="he" x="523.2" y="559" fill="#1e0d01"/><rect class="he" x="528.2" y="559" fill="#210f01"/><rect class="he" x="533.2" y="559" fill="#251001"/><rect class="he" x="538.2" y="559" fill="#261101"/><rect class="he" x="543.2" y="559" fill="#2b1301"/><rect class="he" x="548.2" y="559" fill="#331701"/><rect class="he" x="553.2" y="559" fill="#391a01"/><rect class="he" x="558.2" y="559" fill="#462102"/><rect class="he" x="563.2" y="559" fill="#4e2402"/><rect class="he" x="568.2" y="559" fill="#572902"/><rect class="he" x="573.2" y="559" fill="#652f02"/><rect class="he" x="578.2" y="559" fill="#6c3303"/><rect class="he" x="583.2" y="559" fill="#773703"/><rect class="he" x="588.2" y="559" fill="#874003"/><rect class="he" x="593.2" y="559" fill="#904503"/><rect class="he" x="598.2" y="559" fill="#a04e04"/><rect class="he" x="603.2" y="559" fill="#b05604"/><rect class="he" x="608.2" y="559" fill="#b45904"/><rect class="he" x="613.2" y="559" fill="#c16005"/><rect class="he" x="618.2" y="559" fill="#c96405"/><rect class="he" x="623.2" y="559" fill="#cd6505"/><rect class="he" x="628.2" y="559" fill="#cd6505"/><rect class="he" x="633.2" y="559" fill="#cd6505"/><rect class="he" x="403.2" y="564" fill="#8d4403"/><rect class="he" x="408.2" y="564" fill="#8d4403"/><rect class="he" x="413.2" y="564" fill="#8c4303"/><rect class="he" x="418.2" y="564" fill="#8e4403"/><rect class="he" x="423.2" y="564" fill="#7d3b03"/><rect class="he" x="428.2" y="564" fill="#6d3303"/><rect class="he" x="433.2" y="564" fill="#6e3303"/><rect class="he" x="438.2" y="564" fill="#5e2c02"/><rect class="he" x="443.2" y="564" fill="#512602"/><rect class="he" x="448.2" y="564" fill="#4c2402"/><rect class="he" x="453.2" y="564" fill="#371901"/><rect class="he" x="458.2" y="564" fill="#2f1501"/><rect class="he" x="463.2" y="564" fill="#281201"/><rect class="he" x="468.2" y="564" fill="#1d0d01"/><rect class="he" x="473.2" y="564" fill="#1c0c01"/><rect class="he" x="478.2" y="564" fill="#180b01"/><rect class="he" x="483.2" y="564" fill="#140900"/><rect class="he" x="488.2" y="564" fill="#150900"/><rect class="he" x="493.2" y="564" fill="#140900"/><rect class="he" x="498.2" y="564" fill="#150900"/><rect class="he" x="503.2" y="564" fill="#190b01"/><rect class="he" x="508.2" y="564" fill="#190b01"/><rect class="he" x="513.2" y="564" fill="#1c0c01"/><rect class="he" x="518.2" y="564" fill="#200e01"/><rect class="he" x="523.2" y="564" fill="#1e0d01"/><rect class="he" x="528.2" y="564" fill="#210f01"/><rect class="he" x="533.2" y="564" fill="#251001"/><rect class="he" x="538.2" y="564" fill="#251101"/><rect class="he" x="543.2" y="564" fill="#2b1301"/><rect class="he" x="548.2" y="564" fill="#321601"/><rect class="he" x="553.2" y="564" fill="#381a01"/><rect class="he" x="558.2" y="564" fill="#452002"/><rect class="he" x="563.2" y="564" fill="#4c2402"/><rect class="he" x="568.2" y="564" fill="#542802"/><rect class="he" x="573.2" y="564" fill="#622e02"/><rect class="he" x="578.2" y="564" fill="#693103"/><rect class="he" x="583.2" y="564" fill="#733603"/><rect class="he" x="588.2" y="564" fill="#813d03"/><rect class="he" x="593.2" y="564" fill="#894103"/><rect class="he" x="598.2" y="564" fill="#984904"/><rect class="he" x="603.2" y="564" fill="#a75204"/><rect class="he" x="608.2" y="564" fill="#ab5304"/><rect class="he" x="613.2" y="564" fill="#b75a04"/><rect class="he" x="618.2" y="564" fill="#be5e04"/><rect class="he" x="623.2" y="564" fill="#c15f05"/><rect class="he" x="628.2" y="564" fill="#c15f05"/><rect class="he" x="633.2" y="564" fill="#c15f05"/><rect class="he" x="403.2" y="569" fill="#8d4403"/><rect class="he" x="408.2" y="569" fill="#8d4403"/><rect class="he" x="413.2" y="569" fill="#8c4303"/><rect class="he" x="418.2" y="569" fill="#8e4403"/><rect class="he" x="423.2" y="569" fill="#7d3b03"/><rect class="he" x="428.2" y="569" fill="#6d3303"/><rect class="he" x="433.2" y="569" fill="#6e3303"/><rect class="he" x="438.2" y="569" fill="#5e2c02"/><rect class="he" x="443.2" y="569" fill="#522602"/><rect class="he" x="448.2" y="569" fill="#4d2402"/><rect class="he" x="453.2" y="569" fill="#391a01"/><rect class="he" x="458.2" y="569" fill="#321601"/><rect class="he" x="463.2" y="569" fill="#2b1301"/><rect class="he" x="468.2" y="569" fill="#220f01"/><rect class="he" x="473.2" y="569" fill="#220f01"/><rect class="he" x="478.2" y="569" fill="#1f0e01"/><rect class="he" x="483.2" y="569" fill="#1b0c01"/><rect class="he" x="488.2" y="569" fill="#1d0d01"/><rect class="he" x="493.2" y="569" fill="#1c0c01"/><rect class="he" x="498.2" y="569" fill="#1b0c01"/><rect class="he" x="503.2" y="569" fill="#1f0e01"/><rect class="he" x="508.2" y="569" fill="#1e0d01"/><rect class="he" x="513.2" y="569" fill="#1f0e01"/><rect class="he" x="518.2" y="569" fill="#210f01"/><rect class="he" x="523.2" y="569" fill="#1f0e01"/><rect class="he" x="528.2" y="569" fill="#210f01"/><rect class="he" x="533.2" y="569" fill="#251001"/><rect class="he" x="538.2" y="569" fill="#251001"/><rect class="he" x="543.2" y="569" fill="#2a1301"/><rect class="he" x="548.2" y="569" fill="#311601"/><rect class="he" x="553.2" y="569" fill="#371901"/><rect class="he" x="558.2" y="569" fill="#441f02"/><rect class="he" x="563.2" y="569" fill="#4b2302"/><rect class="he" x="568.2" y="569" fill="#532702"/><rect class="he" x="573.2" y="569" fill="#602d02"/><rect class="he" x="578.2" y="569" fill="#663002"/><rect class="he" x="583.2" y="569" fill="#703403"/><rect class="he" x="588.2" y="569" fill="#7d3b03"/><rect class="he" x="593.2" y="569" fill="#843f03"/><rect class="he" x="598.2" y="569" fill="#934704"/><rect class="he" x="603.2" y="569" fill="#a24e04"/><rect class="he" x="608.2" y="569" fill="#a45004"/><rect class="he" x="613.2" y="569" fill="#b05604"/><rect class="he" x="618.2" y="569" fill="#b65a04"/><rect class="he" x="623.2" y="569" fill="#b95b04"/><rect class="he" x="628.2" y="569" fill="#b95b04"/><rect class="he" x="633.2" y="569" fill="#b95b04"/><rect class="he" x="403.2" y="574" fill="#8d4403"/><rect class="he" x="408.2" y="574" fill="#8d4403"/><rect class="he" x="413.2" y="574" fill="#8c4303"/><rect class="he" x="418.2" y="574" fill="#8e4403"/><rect class="he" x="423.2" y="574" fill="#7d3b03"/><rect class="he" x="428.2" y="574" fill="#6d3303"/><rect class="he" x="433.2" y="574" fill="#6e3403"/><rect class="he" x="438.2" y="574" fill="#5e2c02"/><rect class="he" x="443.2" y="574" fill="#522602"/><rect class="he" x="448.2" y="574" fill="#4e2402"/><rect class="he" x="453.2" y="574" fill="#3a1b01"/><rect class="he" x="458.2" y="574" fill="#331701"/><rect class="he" x="463.2" y="574" fill="#2d1401"/><rect class="he" x="468.2" y="574" fill="#241001"/><rect class="he" x="473.2" y="574" fill="#251001"/><rect class="he" x="478.2" y="574" fill="#231001"/><rect class="he" x="483.2" y="574" fill="#200e01"/><rect class="he" x="488.2" y="574" fill="#210f01"/><rect class="he" x="493.2" y="574" fill="#200e01"/><rect class="he" x="498.2" y="574" fill="#1f0e01"/><rect class="he" x="503.2" y="574" fill="#220f01"/><rect class="he" x="508.2" y="574" fill="#200e01"/><rect class="he" x="513.2" y="574" fill="#200e01"/><rect class="he" x="518.2" y="574" fill="#220f01"/><rect class="he" x="523.2" y="574" fill="#200e01"/><rect class="he" x="528.2" y="574" fill="#210f01"/><rect class="he" x="533.2" y="574" fill="#251001"/><rect class="he" x="538.2" y="574" fill="#251001"/><rect class="he" x="543.2" y="574" fill="#2a1301"/><rect class="he" x="548.2" y="574" fill="#301601"/><rect class="he" x="553.2" y="574" fill="#371901"/><rect class="he" x="558.2" y="574" fill="#431f02"/><rect class="he" x="563.2" y="574" fill="#4a2302"/><rect class="he" x="568.2" y="574" fill="#522602"/><rect class="he" x="573.2" y="574" fill="#5f2d02"/><rect class="he" x="578.2" y="574" fill="#652f02"/><rect class="he" x="583.2" y="574" fill="#6e3403"/><rect class="he" x="588.2" y="574" fill="#7a3903"/><rect class="he" x="593.2" y="574" fill="#813d03"/><rect class="he" x="598.2" y="574" fill="#904503"/><rect class="he" x="603.2" y="574" fill="#9e4c04"/><rect class="he" x="608.2" y="574" fill="#a04e04"/><rect class="he" x="613.2" y="574" fill="#ab5404"/><rect class="he" x="618.2" y="574" fill="#b15704"/><rect class="he" x="623.2" y="574" fill="#b45804"/><rect class="he" x="628.2" y="574" fill="#b45804"/><rect class="he" x="633.2" y="574" fill="#b45804"/><rect class="he" x="403.2" y="579" fill="#8d4403"/><rect class="he" x="408.2" y="579" fill="#8d4403"/><rect class="he" x="413.2" y="579" fill="#8c4303"/><rect class="he" x="418.2" y="579" fill="#8e4403"/><rect class="he" x="423.2" y="579" fill="#7d3b03"/><rect class="he" x="428.2" y="579" fill="#6d3303"/><rect class="he" x="433.2" y="579" fill="#6e3403"/><rect class="he" x="438.2" y="579" fill="#5e2c02"/><rect class="he" x="443.2" y="579" fill="#522602"/><rect class="he" x="448.2" y="579" fill="#4e2402"/><rect class="he" x="453.2" y="579" fill="#3a1b01"/><rect class="he" x="458.2" y="579" fill="#331701"/><rect class="he" x="463.2" y="579" fill="#2d1401"/><rect class="he" x="468.2" y="579" fill="#251001"/><rect class="he" x="473.2" y="579" fill="#251101"/><rect class="he" x="478.2" y="579" fill="#241001"/><rect class="he" x="483.2" y="579" fill="#210e01"/><rect class="he" x="488.2" y="579" fill="#220f01"/><rect class="he" x="493.2" y="579" fill="#210f01"/><rect class="he" x="498.2" y="579" fill="#200e01"/><rect class="he" x="503.2" y="579" fill="#220f01"/><rect class="he" x="508.2" y="579" fill="#200e01"/><rect class="he" x="513.2" y="579" fill="#200e01"/><rect class="he" x="518.2" y="579" fill="#220f01"/><rect class="he" x="523.2" y="579" fill="#200e01"/><rect class="he" x="528.2" y="579" fill="#210f01"/><rect class="he" x="533.2" y="579" fill="#251001"/><rect class="he" x="538.2" y="579" fill="#251001"/><rect class="he" x="543.2" y="579" fill="#291201"/><rect class="he" x="548.2" y="579" fill="#301501"/><rect class="he" x="553.2" y="579" fill="#361901"/><rect class="he" x="558.2" y="579" fill="#421f02"/><rect class="he" x="563.2" y="579" fill="#492202"/><rect class="he" x="568.2" y="579" fill="#512602"/><rect class="he" x="573.2" y="579" fill="#5e2c02"/><rect class="he" x="578.2" y="579" fill="#632e02"/><rect class="he" x="583.2" y="579" fill="#6c3303"/><rect class="he" x="588.2" y="579" fill="#783803"/><rect class="he" x="593.2" y="579" fill="#7e3b03"/><rect class="he" x="598.2" y="579" fill="#8c4303"/><rect class="he" x="603.2" y="579" fill="#9a4a04"/><rect class="he" x="608.2" y="579" fill="#9c4b04"/><rect class="he" x="613.2" y="579" fill="#a75104"/><rect class="he" x="618.2" y="579" fill="#ad5404"/><rect class="he" x="623.2" y="579" fill="#af5604"/><rect class="he" x="628.2" y="579" fill="#af5604"/><rect class="he" x="633.2" y="579" fill="#af5604"/><rect class="he" x="403.2" y="584" fill="#8d4403"/><rect class="he" x="408.2" y="584" fill="#8d4403"/><rect class="he" x="413.2" y="584" fill="#8c4303"/><rect class="he" x="418.2" y="584" fill="#8e4403"/><rect class="he" x="423.2" y="584" fill="#7d3b03"/><rect class="he" x="428.2" y="584" fill="#6d3303"/><rect class="he" x="433.2" y="584" fill="#6e3403"/><rect class="he" x="438.2" y="584" fill="#5e2c02"/><rect class="he" x="443.2" y="584" fill="#522602"/><rect class="he" x="448.2" y="584" fill="#4e2402"/><rect class="he" x="453.2" y="584" fill="#3a1b01"/><rect class="he" x="458.2" y="584" fill="#331701"/><rect class="he" x="463.2" y="584" fill="#2d1401"/><rect class="he" x="468.2" y="584" fill="#251001"/><rect class="he" x="473.2" y="584" fill="#251101"/><rect class="he" x="478.2" y="584" fill="#241001"/><rect class="he" x="483.2" y="584" fill="#210f01"/><rect class="he" x="488.2" y="584" fill="#220f01"/><rect class="he" x="493.2" y="584" fill="#210f01"/><rect class="he" x="498.2" y="584" fill="#200e01"/><rect class="he" x="503.2" y="584" fill="#220f01"/><rect class="he" x="508.2" y="584" fill="#200e01"/><rect class="he" x="513.2" y="584" fill="#200e01"/><rect class="he" x="518.2" y="584" fill="#220f01"/><rect class="he" x="523.2" y="584" fill="#200e01"/><rect class="he" x="528.2" y="584" fill="#210f01"/><rect class="he" x="533.2" y="584" fill="#251001"/><rect class="he" x="538.2" y="584" fill="#241001"/><rect class="he" x="543.2" y="584" fill="#291201"/><rect class="he" x="548.2" y="584" fill="#2f1501"/><rect class="he" x="553.2" y="584" fill="#351801"/><rect class="he" x="558.2" y="584" fill="#411e02"/><rect class="he" x="563.2" y="584" fill="#482202"/><rect class="he" x="568.2" y="584" fill="#502502"/><rect class="he" x="573.2" y="584" fill="#5c2b02"/><rect class="he" x="578.2" y="584" fill="#612e02"/><rect class="he" x="583.2" y="584" fill="#6a3203"/><rect class="he" x="588.2" y="584" fill="#753703"/><rect class="he" x="593.2" y="584" fill="#7b3903"/><rect class="he" x="598.2" y="584" fill="#884103"/><rect class="he" x="603.2" y="584" fill="#964804"/><rect class="he" x="608.2" y="584" fill="#984904"/><rect class="he" x="613.2" y="584" fill="#a24f04"/><rect class="he" x="618.2" y="584" fill="#a85204"/><rect class="he" x="623.2" y="584" fill="#ab5304"/><rect class="he" x="628.2" y="584" fill="#ab5304"/><rect class="he" x="633.2" y="584" fill="#ab5304"/><rect class="he" x="403.2" y="589" fill="#8d4403"/><rect class="he" x="408.2" y="589" fill="#8d4403"/><rect class="he" x="413.2" y="589" fill="#8c4303"/><rect class="he" x="418.2" y="589" fill="#8e4403"/><rect class="he" x="423.2" y="589" fill="#7d3b03"/><rect class="he" x="428.2" y="589" fill="#6d3303"/><rect class="he" x="433.2" y="589" fill="#6e3403"/><rect class="he" x="438.2" y="589" fill="#5e2c02"/><rect class="he" x="443.2" y="589" fill="#522602"/><rect class="he" x="448.2" y="589" fill="#4e2402"/><rect class="he" x="453.2" y="589" fill="#3a1b01"/><rect class="he" x="458.2" y="589" fill="#331701"/><rect class="he" x="463.2" y="589" fill="#2d1401"/><rect class="he" x="468.2" y="589" fill="#251001"/><rect class="he" x="473.2" y="589" fill="#251101"/><rect class="he" x="478.2" y="589" fill="#241001"/><rect class="he" x="483.2" y="589" fill="#210e01"/><rect class="he" x="488.2" y="589" fill="#220f01"/><rect class="he" x="493.2" y="589" fill="#210f01"/><rect class="he" x="498.2" y="589" fill="#200e01"/><rect class="he" x="503.2" y="589" fill="#220f01"/><rect class="he" x="508.2" y="589" fill="#200e01"/><rect class="he" x="513.2" y="589" fill="#200e01"/><rect class="he" x="518.2" y="589" fill="#220f01"/><rect class="he" x="523.2" y="589" fill="#1f0e01"/><rect class="he" x="528.2" y="589" fill="#210f01"/><rect class="he" x="533.2" y="589" fill="#241001"/><rect class="he" x="538.2" y="589" fill="#241001"/><rect class="he" x="543.2" y="589" fill="#291201"/><rect class="he" x="548.2" y="589" fill="#2f1501"/><rect class="he" x="553.2" y="589" fill="#341801"/><rect class="he" x="558.2" y="589" fill="#401e01"/><rect class="he" x="563.2" y="589" fill="#472102"/><rect class="he" x="568.2" y="589" fill="#4e2402"/><rect class="he" x="573.2" y="589" fill="#5a2a02"/><rect class="he" x="578.2" y="589" fill="#5f2c02"/><rect class="he" x="583.2" y="589" fill="#673003"/><rect class="he" x="588.2" y="589" fill="#723503"/><rect class="he" x="593.2" y="589" fill="#763703"/><rect class="he" x="598.2" y="589" fill="#833e03"/><rect class="he" x="603.2" y="589" fill="#904503"/><rect class="he" x="608.2" y="589" fill="#924604"/><rect class="he" x="613.2" y="589" fill="#9d4c04"/><rect class="he" x="618.2" y="589" fill="#a34f04"/><rect class="he" x="623.2" y="589" fill="#a55004"/><rect class="he" x="628.2" y="589" fill="#a55004"/><rect class="he" x="633.2" y="589" fill="#a55004"/><rect class="he" x="403.2" y="594" fill="#8d4403"/><rect class="he" x="408.2" y="594" fill="#8d4403"/><rect class="he" x="413.2" y="594" fill="#8c4303"/><rect class="he" x="418.2" y="594" fill="#8e4403"/><rect class="he" x="423.2" y="594" fill="#7d3b03"/><rect class="he" x="428.2" y="594" fill="#6d3303"/><rect class="he" x="433.2" y="594" fill="#6e3303"/><rect class="he" x="438.2" y="594" fill="#5e2c02"/><rect class="he" x="443.2" y="594" fill="#522602"/><rect class="he" x="448.2" y="594" fill="#4e2402"/><rect class="he" x="453.2" y="594" fill="#3a1b01"/><rect class="he" x="458.2" y="594" fill="#331701"/><rect class="he" x="463.2" y="594" fill="#2d1401"/><rect class="he" x="468.2" y="594" fill="#241001"/><rect class="he" x="473.2" y="594" fill="#251001"/><rect class="he" x="478.2" y="594" fill="#231001"/><rect class="he" x="483.2" y="594" fill="#200e01"/><rect class="he" x="488.2" y="594" fill="#210f01"/><rect class="he" x="493.2" y="594" fill="#200e01"/><rect class="he" x="498.2" y="594" fill="#1e0e01"/><rect class="he" x="503.2" y="594" fill="#210f01"/><rect class="he" x="508.2" y="594" fill="#1f0e01"/><rect class="he" x="513.2" y="594" fill="#1e0e01"/><rect class="he" x="518.2" y="594" fill="#200e01"/><rect class="he" x="523.2" y="594" fill="#1e0d01"/><rect class="he" x="528.2" y="594" fill="#1f0e01"/><rect class="he" x="533.2" y="594" fill="#220f01"/><rect class="he" x="538.2" y="594" fill="#220f01"/><rect class="he" x="543.2" y="594" fill="#271101"/><rect class="he" x="548.2" y="594" fill="#2c1401"/><rect class="he" x="553.2" y="594" fill="#321601"/><rect class="he" x="558.2" y="594" fill="#3d1c01"/><rect class="he" x="563.2" y="594" fill="#441f02"/><rect class="he" x="568.2" y="594" fill="#4b2302"/><rect class="he" x="573.2" y="594" fill="#562802"/><rect class="he" x="578.2" y="594" fill="#5b2b02"/><rect class="he" x="583.2" y="594" fill="#632e02"/><rect class="he" x="588.2" y="594" fill="#6e3303"/><rect class="he" x="593.2" y="594" fill="#723503"/><rect class="he" x="598.2" y="594" fill="#7d3b03"/><rect class="he" x="603.2" y="594" fill="#8a4203"/><rect class="he" x="608.2" y="594" fill="#8c4303"/><rect class="he" x="613.2" y="594" fill="#964804"/><rect class="he" x="618.2" y="594" fill="#9c4c04"/><rect class="he" x="623.2" y="594" fill="#9f4d04"/><rect class="he" x="628.2" y="594" fill="#9f4d04"/><rect class="he" x="633.2" y="594" fill="#9f4d04"/><rect class="he" x="403.2" y="599" fill="#8d4403"/><rect class="he" x="408.2" y="599" fill="#8d4403"/><rect class="he" x="413.2" y="599" fill="#8c4303"/><rect class="he" x="418.2" y="599" fill="#8e4403"/><rect class="he" x="423.2" y="599" fill="#7d3a03"/><rect class="he" x="428.2" y="599" fill="#6d3303"/><rect class="he" x="433.2" y="599" fill="#6e3303"/><rect class="he" x="438.2" y="599" fill="#5e2c02"/><rect class="he" x="443.2" y="599" fill="#512602"/><rect class="he" x="448.2" y="599" fill="#4d2402"/><rect class="he" x="453.2" y="599" fill="#3a1a01"/><rect class="he" x="458.2" y="599" fill="#321701"/><rect class="he" x="463.2" y="599" fill="#2c1401"/><rect class="he" x="468.2" y="599" fill="#231001"/><rect class="he" x="473.2" y="599" fill="#241001"/><rect class="he" x="478.2" y="599" fill="#220f01"/><rect class="he" x="483.2" y="599" fill="#1e0d01"/><rect class="he" x="488.2" y="599" fill="#1f0e01"/><rect class="he" x="493.2" y="599" fill="#1d0d01"/><rect class="he" x="498.2" y="599" fill="#1b0c01"/><rect class="he" x="503.2" y="599" fill="#1d0d01"/><rect class="he" x="508.2" y="599" fill="#1b0c01"/><rect class="he" x="513.2" y="599" fill="#1a0c01"/><rect class="he" x="518.2" y="599" fill="#1c0c01"/><rect class="he" x="523.2" y="599" fill="#190b01"/><rect class="he" x="528.2" y="599" fill="#1a0c01"/><rect class="he" x="533.2" y="599" fill="#1e0d01"/><rect class="he" x="538.2" y="599" fill="#1e0d01"/><rect class="he" x="543.2" y="599" fill="#230f01"/><rect class="he" x="548.2" y="599" fill="#281201"/><rect class="he" x="553.2" y="599" fill="#2c1401"/><rect class="he" x="558.2" y="599" fill="#371901"/><rect class="he" x="563.2" y="599" fill="#3e1c01"/><rect class="he" x="568.2" y="599" fill="#452002"/><rect class="he" x="573.2" y="599" fill="#502602"/><rect class="he" x="578.2" y="599" fill="#552802"/><rect class="he" x="583.2" y="599" fill="#5d2c02"/><rect class="he" x="588.2" y="599" fill="#683003"/><rect class="he" x="593.2" y="599" fill="#6c3203"/><rect class="he" x="598.2" y="599" fill="#763703"/><rect class="he" x="603.2" y="599" fill="#813d03"/><rect class="he" x="608.2" y="599" fill="#843e03"/><rect class="he" x="613.2" y="599" fill="#8f4403"/><rect class="he" x="618.2" y="599" fill="#954704"/><rect class="he" x="623.2" y="599" fill="#974904"/><rect class="he" x="628.2" y="599" fill="#974904"/><rect class="he" x="633.2" y="599" fill="#974904"/><rect class="he" x="403.2" y="604" fill="#8d4303"/><rect class="he" x="408.2" y="604" fill="#8d4303"/><rect class="he" x="413.2" y="604" fill="#8c4303"/><rect class="he" x="418.2" y="604" fill="#8e4403"/><rect class="he" x="423.2" y="604" fill="#7c3a03"/><rect class="he" x="428.2" y="604" fill="#6d3303"/><rect class="he" x="433.2" y="604" fill="#6e3303"/><rect class="he" x="438.2" y="604" fill="#5e2c02"/><rect class="he" x="443.2" y="604" fill="#512602"/><rect class="he" x="448.2" y="604" fill="#4c2402"/><rect class="he" x="453.2" y="604" fill="#381a01"/><rect class="he" x="458.2" y="604" fill="#311601"/><rect class="he" x="463.2" y="604" fill="#2b1301"/><rect class="he" x="468.2" y="604" fill="#210f01"/><rect class="he" x="473.2" y="604" fill="#210f01"/><rect class="he" x="478.2" y="604" fill="#1f0e01"/><rect class="he" x="483.2" y="604" fill="#1a0c01"/><rect class="he" x="488.2" y="604" fill="#1a0c01"/><rect class="he" x="493.2" y="604" fill="#180a01"/><rect class="he" x="498.2" y="604" fill="#150900"/><rect class="he" x="503.2" y="604" fill="#160a00"/><rect class="he" x="508.2" y="604" fill="#130800"/><rect class="he" x="513.2" y="604" fill="#120800"/><rect class="he" x="518.2" y="604" fill="#130900"/><rect class="he" x="523.2" y="604" fill="#100700"/><rect class="he" x="528.2" y="604" fill="#110800"/><rect class="he" x="533.2" y="604" fill="#150900"/><rect class="he" x="538.2" y="604" fill="#150900"/><rect class="he" x="543.2" y="604" fill="#1a0c01"/><rect class="he" x="548.2" y="604" fill="#200e01"/><rect class="he" x="553.2" y="604" fill="#241001"/><rect class="he" x="558.2" y="604" fill="#2d1401"/><rect class="he" x="563.2" y="604" fill="#341801"/><rect class="he" x="568.2" y="604" fill="#3c1b01"/><rect class="he" x="573.2" y="604" fill="#482102"/><rect class="he" x="578.2" y="604" fill="#4d2402"/><rect class="he" x="583.2" y="604" fill="#552802"/><rect class="he" x="588.2" y="604" fill="#602d02"/><rect class="he" x="593.2" y="604" fill="#642f02"/><rect class="he" x="598.2" y="604" fill="#6e3303"/><rect class="he" x="603.2" y="604" fill="#783803"/><rect class="he" x="608.2" y="604" fill="#7b3903"/><rect class="he" x="613.2" y="604" fill="#864003"/><rect class="he" x="618.2" y="604" fill="#8c4303"/><rect class="he" x="623.2" y="604" fill="#8f4403"/><rect class="he" x="628.2" y="604" fill="#8f4403"/><rect class="he" x="633.2" y="604" fill="#8f4403"/><rect class="he" x="403.2" y="609" fill="#8d4303"/><rect class="he" x="408.2" y="609" fill="#8d4303"/><rect class="he" x="413.2" y="609" fill="#8b4303"/><rect class="he" x="418.2" y="609" fill="#8e4403"/><rect class="he" x="423.2" y="609" fill="#7c3a03"/><rect class="he" x="428.2" y="609" fill="#6d3303"/><rect class="he" x="433.2" y="609" fill="#6d3303"/><rect class="he" x="438.2" y="609" fill="#5d2c02"/><rect class="he" x="443.2" y="609" fill="#502602"/><rect class="he" x="448.2" y="609" fill="#4b2302"/><rect class="he" x="453.2" y="609" fill="#371901"/><rect class="he" x="458.2" y="609" fill="#2f1501"/><rect class="he" x="463.2" y="609" fill="#291201"/><rect class="he" x="468.2" y="609" fill="#1f0e01"/><rect class="he" x="473.2" y="609" fill="#1e0d01"/><rect class="he" x="478.2" y="609" fill="#1b0c01"/><rect class="he" x="483.2" y="609" fill="#160a00"/><rect class="he" x="488.2" y="609" fill="#150900"/><rect class="he" x="493.2" y="609" fill="#120800"/><rect class="he" x="498.2" y="609" fill="#0e0600"/><rect class="he" x="503.2" y="609" fill="#0f0700"/><rect class="he" x="508.2" y="609" fill="#0b0500"/><rect class="he" x="513.2" y="609" fill="#090400"/><rect class="he" x="518.2" y="609" fill="#0a0400"/><rect class="he" x="523.2" y="609" fill="#060300"/><rect class="he" x="528.2" y="609" fill="#070300"/><rect class="he" x="533.2" y="609" fill="#0b0500"/><rect class="he" x="538.2" y="609" fill="#0b0500"/><rect class="he" x="543.2" y="609" fill="#110800"/><rect class="he" x="548.2" y="609" fill="#160a00"/><rect class="he" x="553.2" y="609" fill="#1b0c01"/><rect class="he" x="558.2" y="609" fill="#251001"/><rect class="he" x="563.2" y="609" fill="#2b1301"/><rect class="he" x="568.2" y="609" fill="#321701"/><rect class="he" x="573.2" y="609" fill="#3f1d01"/><rect class="he" x="578.2" y="609" fill="#442002"/><rect class="he" x="583.2" y="609" fill="#4d2402"/><rect class="he" x="588.2" y="609" fill="#572902"/><rect class="he" x="593.2" y="609" fill="#5c2b02"/><rect class="he" x="598.2" y="609" fill="#663002"/><rect class="he" x="603.2" y="609" fill="#703403"/><rect class="he" x="608.2" y="609" fill="#733603"/><rect class="he" x="613.2" y="609" fill="#7d3b03"/><rect class="he" x="618.2" y="609" fill="#833e03"/><rect class="he" x="623.2" y="609" fill="#864003"/><rect class="he" x="628.2" y="609" fill="#864003"/><rect class="he" x="633.2" y="609" fill="#864003"/><rect class="he" x="403.2" y="614" fill="#8d4303"/><rect class="he" x="408.2" y="614" fill="#8d4303"/><rect class="he" x="413.2" y="614" fill="#8b4303"/><rect class="he" x="418.2" y="614" fill="#8e4403"/><rect class="he" x="423.2" y="614" fill="#7c3a03"/><rect class="he" x="428.2" y="614" fill="#6d3303"/><rect class="he" x="433.2" y="614" fill="#6d3303"/><rect class="he" x="438.2" y="614" fill="#5d2c02"/><rect class="he" x="443.2" y="614" fill="#502502"/><rect class="he" x="448.2" y="614" fill="#4b2302"/><rect class="he" x="453.2" y="614" fill="#371901"/><rect class="he" x="458.2" y="614" fill="#2e1501"/><rect class="he" x="463.2" y="614" fill="#281201"/><rect class="he" x="468.2" y="614" fill="#1e0e01"/><rect class="he" x="473.2" y="614" fill="#1d0d01"/><rect class="he" x="478.2" y="614" fill="#1a0c01"/><rect class="he" x="483.2" y="614" fill="#140900"/><rect class="he" x="488.2" y="614" fill="#130900"/><rect class="he" x="493.2" y="614" fill="#0f0700"/><rect class="he" x="498.2" y="614" fill="#0c0500"/><rect class="he" x="503.2" y="614" fill="#0c0500"/><rect class="he" x="508.2" y="614" fill="#070300"/><rect class="he" x="513.2" y="614" fill="#060200"/><rect class="he" x="518.2" y="614" fill="#060300"/><rect class="he" x="523.2" y="614" fill="#020100"/><rect class="he" x="528.2" y="614" fill="#030200"/><rect class="he" x="533.2" y="614" fill="#070300"/><rect class="he" x="538.2" y="614" fill="#070300"/><rect class="he" x="543.2" y="614" fill="#0d0600"/><rect class="he" x="548.2" y="614" fill="#130800"/><rect class="he" x="553.2" y="614" fill="#180a01"/><rect class="he" x="558.2" y="614" fill="#210f01"/><rect class="he" x="563.2" y="614" fill="#271101"/><rect class="he" x="568.2" y="614" fill="#2d1401"/><rect class="he" x="573.2" y="614" fill="#3a1a01"/><rect class="he" x="578.2" y="614" fill="#3f1d01"/><rect class="he" x="583.2" y="614" fill="#482102"/><rect class="he" x="588.2" y="614" fill="#522602"/><rect class="he" x="593.2" y="614" fill="#562802"/><rect class="he" x="598.2" y="614" fill="#602d02"/><rect class="he" x="603.2" y="614" fill="#6a3103"/><rect class="he" x="608.2" y="614" fill="#6c3303"/><rect class="he" x="613.2" y="614" fill="#763703"/><rect class="he" x="618.2" y="614" fill="#7c3a03"/><rect class="he" x="623.2" y="614" fill="#7f3c03"/><rect class="he" x="628.2" y="614" fill="#7f3c03"/><rect class="he" x="633.2" y="614" fill="#7f3c03"/><rect class="he" x="403.2" y="619" fill="#8d4303"/><rect class="he" x="408.2" y="619" fill="#8d4303"/><rect class="he" x="413.2" y="619" fill="#8b4303"/><rect class="he" x="418.2" y="619" fill="#8e4403"/><rect class="he" x="423.2" y="619" fill="#7c3a03"/><rect class="he" x="428.2" y="619" fill="#6d3303"/><rect class="he" x="433.2" y="619" fill="#6d3303"/><rect class="he" x="438.2" y="619" fill="#5d2c02"/><rect class="he" x="443.2" y="619" fill="#502602"/><rect class="he" x="448.2" y="619" fill="#4c2302"/><rect class="he" x="453.2" y="619" fill="#371901"/><rect class="he" x="458.2" y="619" fill="#2f1501"/><rect class="he" x="463.2" y="619" fill="#291201"/><rect class="he" x="468.2" y="619" fill="#200e01"/><rect class="he" x="473.2" y="619" fill="#1f0e01"/><rect class="he" x="478.2" y="619" fill="#1c0c01"/><rect class="he" x="483.2" y="619" fill="#170a01"/><rect class="he" x="488.2" y="619" fill="#160a00"/><rect class="he" x="493.2" y="619" fill="#130800"/><rect class="he" x="498.2" y="619" fill="#100700"/><rect class="he" x="503.2" y="619" fill="#100700"/><rect class="he" x="508.2" y="619" fill="#0c0500"/><rect class="he" x="513.2" y="619" fill="#0b0500"/><rect class="he" x="518.2" y="619" fill="#0b0500"/><rect class="he" x="523.2" y="619" fill="#080400"/><rect class="he" x="528.2" y="619" fill="#090400"/><rect class="he" x="533.2" y="619" fill="#0c0600"/><rect class="he" x="538.2" y="619" fill="#0d0600"/><rect class="he" x="543.2" y="619" fill="#120800"/><rect class="he" x="548.2" y="619" fill="#170a01"/><rect class="he" x="553.2" y="619" fill="#1b0c01"/><rect class="he" x="558.2" y="619" fill="#241001"/><rect class="he" x="563.2" y="619" fill="#291201"/><rect class="he" x="568.2" y="619" fill="#2f1501"/><rect class="he" x="573.2" y="619" fill="#3a1b01"/><rect class="he" x="578.2" y="619" fill="#3f1d01"/><rect class="he" x="583.2" y="619" fill="#472102"/><rect class="he" x="588.2" y="619" fill="#502502"/><rect class="he" x="593.2" y="619" fill="#532702"/><rect class="he" x="598.2" y="619" fill="#5c2b02"/><rect class="he" x="603.2" y="619" fill="#652f02"/><rect class="he" x="608.2" y="619" fill="#683003"/><rect class="he" x="613.2" y="619" fill="#713503"/><rect class="he" x="618.2" y="619" fill="#763703"/><rect class="he" x="623.2" y="619" fill="#783803"/><rect class="he" x="628.2" y="619" fill="#783803"/><rect class="he" x="633.2" y="619" fill="#783803"/><rect class="he" x="403.2" y="624" fill="#8d4303"/><rect class="he" x="408.2" y="624" fill="#8d4303"/><rect class="he" x="413.2" y="624" fill="#8c4303"/><rect class="he" x="418.2" y="624" fill="#8e4403"/><rect class="he" x="423.2" y="624" fill="#7c3a03"/><rect class="he" x="428.2" y="624" fill="#6d3303"/><rect class="he" x="433.2" y="624" fill="#6e3303"/><rect class="he" x="438.2" y="624" fill="#5e2c02"/><rect class="he" x="443.2" y="624" fill="#512602"/><rect class="he" x="448.2" y="624" fill="#4d2402"/><rect class="he" x="453.2" y="624" fill="#391a01"/><rect class="he" x="458.2" y="624" fill="#311601"/><rect class="he" x="463.2" y="624" fill="#2b1301"/><rect class="he" x="468.2" y="624" fill="#220f01"/><rect class="he" x="473.2" y="624" fill="#220f01"/><rect class="he" x="478.2" y="624" fill="#1f0e01"/><rect class="he" x="483.2" y="624" fill="#1b0c01"/><rect class="he" x="488.2" y="624" fill="#1b0c01"/><rect class="he" x="493.2" y="624" fill="#190b01"/><rect class="he" x="498.2" y="624" fill="#170a01"/><rect class="he" x="503.2" y="624" fill="#180b01"/><rect class="he" x="508.2" y="624" fill="#150900"/><rect class="he" x="513.2" y="624" fill="#140900"/><rect class="he" x="518.2" y="624" fill="#150900"/><rect class="he" x="523.2" y="624" fill="#120800"/><rect class="he" x="528.2" y="624" fill="#130900"/><rect class="he" x="533.2" y="624" fill="#170a01"/><rect class="he" x="538.2" y="624" fill="#170a01"/><rect class="he" x="543.2" y="624" fill="#1c0c01"/><rect class="he" x="548.2" y="624" fill="#200e01"/><rect class="he" x="553.2" y="624" fill="#231001"/><rect class="he" x="558.2" y="624" fill="#2b1301"/><rect class="he" x="563.2" y="624" fill="#2f1501"/><rect class="he" x="568.2" y="624" fill="#351801"/><rect class="he" x="573.2" y="624" fill="#3f1d01"/><rect class="he" x="578.2" y="624" fill="#421e02"/><rect class="he" x="583.2" y="624" fill="#482102"/><rect class="he" x="588.2" y="624" fill="#502502"/><rect class="he" x="593.2" y="624" fill="#522602"/><rect class="he" x="598.2" y="624" fill="#5a2a02"/><rect class="he" x="603.2" y="624" fill="#622e02"/><rect class="he" x="608.2" y="624" fill="#642f02"/><rect class="he" x="613.2" y="624" fill="#6d3303"/><rect class="he" x="618.2" y="624" fill="#723503"/><rect class="he" x="623.2" y="624" fill="#743603"/><rect class="he" x="628.2" y="624" fill="#743603"/><rect class="he" x="633.2" y="624" fill="#743603"/><rect class="he" x="403.2" y="629" fill="#8d4403"/><rect class="he" x="408.2" y="629" fill="#8d4403"/><rect class="he" x="413.2" y="629" fill="#8c4303"/><rect class="he" x="418.2" y="629" fill="#8e4403"/><rect class="he" x="423.2" y="629" fill="#7d3a03"/><rect class="he" x="428.2" y="629" fill="#6d3303"/><rect class="he" x="433.2" y="629" fill="#6e3303"/><rect class="he" x="438.2" y="629" fill="#5e2c02"/><rect class="he" x="443.2" y="629" fill="#522602"/><rect class="he" x="448.2" y="629" fill="#4d2402"/><rect class="he" x="453.2" y="629" fill="#3a1a01"/><rect class="he" x="458.2" y="629" fill="#331701"/><rect class="he" x="463.2" y="629" fill="#2c1401"/><rect class="he" x="468.2" y="629" fill="#241001"/><rect class="he" x="473.2" y="629" fill="#241001"/><rect class="he" x="478.2" y="629" fill="#220f01"/><rect class="he" x="483.2" y="629" fill="#1e0e01"/><rect class="he" x="488.2" y="629" fill="#1f0e01"/><rect class="he" x="493.2" y="629" fill="#1e0d01"/><rect class="he" x="498.2" y="629" fill="#1c0c01"/><rect class="he" x="503.2" y="629" fill="#1e0d01"/><rect class="he" x="508.2" y="629" fill="#1c0c01"/><rect class="he" x="513.2" y="629" fill="#1b0c01"/><rect class="he" x="518.2" y="629" fill="#1d0d01"/><rect class="he" x="523.2" y="629" fill="#1a0c01"/><rect class="he" x="528.2" y="629" fill="#1c0c01"/><rect class="he" x="533.2" y="629" fill="#1f0e01"/><rect class="he" x="538.2" y="629" fill="#1f0e01"/><rect class="he" x="543.2" y="629" fill="#241001"/><rect class="he" x="548.2" y="629" fill="#271101"/><rect class="he" x="553.2" y="629" fill="#291201"/><rect class="he" x="558.2" y="629" fill="#311601"/><rect class="he" x="563.2" y="629" fill="#351801"/><rect class="he" x="568.2" y="629" fill="#391a01"/><rect class="he" x="573.2" y="629" fill="#421e02"/><rect class="he" x="578.2" y="629" fill="#441f02"/><rect class="he" x="583.2" y="629" fill="#492202"/><rect class="he" x="588.2" y="629" fill="#502502"/><rect class="he" x="593.2" y="629" fill="#512602"/><rect class="he" x="598.2" y="629" fill="#582902"/><rect class="he" x="603.2" y="629" fill="#5f2d02"/><rect class="he" x="608.2" y="629" fill="#612d02"/><rect class="he" x="613.2" y="629" fill="#693103"/><rect class="he" x="618.2" y="629" fill="#6e3303"/><rect class="he" x="623.2" y="629" fill="#703403"/><rect class="he" x="628.2" y="629" fill="#703403"/><rect class="he" x="633.2" y="629" fill="#703403"/><rect class="he" x="403.2" y="634" fill="#8d4403"/><rect class="he" x="408.2" y="634" fill="#8d4403"/><rect class="he" x="413.2" y="634" fill="#8c4303"/><rect class="he" x="418.2" y="634" fill="#8e4403"/><rect class="he" x="423.2" y="634" fill="#7d3b03"/><rect class="he" x="428.2" y="634" fill="#6d3303"/><rect class="he" x="433.2" y="634" fill="#6e3403"/><rect class="he" x="438.2" y="634" fill="#5e2c02"/><rect class="he" x="443.2" y="634" fill="#522602"/><rect class="he" x="448.2" y="634" fill="#4e2402"/><rect class="he" x="453.2" y="634" fill="#3a1b01"/><rect class="he" x="458.2" y="634" fill="#331701"/><rect class="he" x="463.2" y="634" fill="#2d1401"/><rect class="he" x="468.2" y="634" fill="#251001"/><rect class="he" x="473.2" y="634" fill="#251001"/><rect class="he" x="478.2" y="634" fill="#241001"/><rect class="he" x="483.2" y="634" fill="#200e01"/><rect class="he" x="488.2" y="634" fill="#210f01"/><rect class="he" x="493.2" y="634" fill="#200e01"/><rect class="he" x="498.2" y="634" fill="#1f0e01"/><rect class="he" x="503.2" y="634" fill="#210f01"/><rect class="he" x="508.2" y="634" fill="#1f0e01"/><rect class="he" x="513.2" y="634" fill="#1f0e01"/><rect class="he" x="518.2" y="634" fill="#210f01"/><rect class="he" x="523.2" y="634" fill="#1e0d01"/><rect class="he" x="528.2" y="634" fill="#200e01"/><rect class="he" x="533.2" y="634" fill="#231001"/><rect class="he" x="538.2" y="634" fill="#230f01"/><rect class="he" x="543.2" y="634" fill="#271101"/><rect class="he" x="548.2" y="634" fill="#2a1301"/><rect class="he" x="553.2" y="634" fill="#2c1301"/><rect class="he" x="558.2" y="634" fill="#341701"/><rect class="he" x="563.2" y="634" fill="#371901"/><rect class="he" x="568.2" y="634" fill="#3b1b01"/><rect class="he" x="573.2" y="634" fill="#431f02"/><rect class="he" x="578.2" y="634" fill="#441f02"/><rect class="he" x="583.2" y="634" fill="#482202"/><rect class="he" x="588.2" y="634" fill="#4f2502"/><rect class="he" x="593.2" y="634" fill="#4f2502"/><rect class="he" x="598.2" y="634" fill="#552802"/><rect class="he" x="603.2" y="634" fill="#5c2b02"/><rect class="he" x="608.2" y="634" fill="#5e2c02"/><rect class="he" x="613.2" y="634" fill="#663002"/><rect class="he" x="618.2" y="634" fill="#6b3203"/><rect class="he" x="623.2" y="634" fill="#6d3303"/><rect class="he" x="628.2" y="634" fill="#6d3303"/><rect class="he" x="633.2" y="634" fill="#6d3303"/><rect class="he" x="403.2" y="639" fill="#8d4403"/><rect class="he" x="408.2" y="639" fill="#8d4403"/><rect class="he" x="413.2" y="639" fill="#8c4303"/><rect class="he" x="418.2" y="639" fill="#8e4403"/><rect class="he" x="423.2" y="639" fill="#7d3b03"/><rect class="he" x="428.2" y="639" fill="#6d3303"/><rect class="he" x="433.2" y="639" fill="#6e3403"/><rect class="he" x="438.2" y="639" fill="#5e2c02"/><rect class="he" x="443.2" y="639" fill="#522602"/><rect class="he" x="448.2" y="639" fill="#4e2402"/><rect class="he" x="453.2" y="639" fill="#3a1b01"/><rect class="he" x="458.2" y="639" fill="#331701"/><rect class="he" x="463.2" y="639" fill="#2d1401"/><rect class="he" x="468.2" y="639" fill="#251001"/><rect class="he" x="473.2" y="639" fill="#251101"/><rect class="he" x="478.2" y="639" fill="#241001"/><rect class="he" x="483.2" y="639" fill="#210f01"/><rect class="he" x="488.2" y="639" fill="#220f01"/><rect class="he" x="493.2" y="639" fill="#210f01"/><rect class="he" x="498.2" y="639" fill="#200e01"/><rect class="he" x="503.2" y="639" fill="#220f01"/><rect class="he" x="508.2" y="639" fill="#200e01"/><rect class="he" x="513.2" y="639" fill="#200e01"/><rect class="he" x="518.2" y="639" fill="#220f01"/><rect class="he" x="523.2" y="639" fill="#200e01"/><rect class="he" x="528.2" y="639" fill="#210f01"/><rect class="he" x="533.2" y="639" fill="#241001"/><rect class="he" x="538.2" y="639" fill="#241001"/><rect class="he" x="543.2" y="639" fill="#291201"/><rect class="he" x="548.2" y="639" fill="#2b1301"/><rect class="he" x="553.2" y="639" fill="#2d1401"/><rect class="he" x="558.2" y="639" fill="#341801"/><rect class="he" x="563.2" y="639" fill="#371901"/><rect class="he" x="568.2" y="639" fill="#3b1b01"/><rect class="he" x="573.2" y="639" fill="#421f02"/><rect class="he" x="578.2" y="639" fill="#431f02"/><rect class="he" x="583.2" y="639" fill="#472102"/><rect class="he" x="588.2" y="639" fill="#4d2402"/><rect class="he" x="593.2" y="639" fill="#4e2402"/><rect class="he" x="598.2" y="639" fill="#532702"/><rect class="he" x="603.2" y="639" fill="#5a2a02"/><rect class="he" x="608.2" y="639" fill="#5b2b02"/><rect class="he" x="613.2" y="639" fill="#642f02"/><rect class="he" x="618.2" y="639" fill="#683103"/><rect class="he" x="623.2" y="639" fill="#6a3203"/><rect class="he" x="628.2" y="639" fill="#6a3203"/><rect class="he" x="633.2" y="639" fill="#6a3203"/><rect class="he" x="403.2" y="644" fill="#8d4403"/><rect class="he" x="408.2" y="644" fill="#8d4403"/><rect class="he" x="413.2" y="644" fill="#8c4303"/><rect class="he" x="418.2" y="644" fill="#8e4403"/><rect class="he" x="423.2" y="644" fill="#7d3b03"/><rect class="he" x="428.2" y="644" fill="#6d3303"/><rect class="he" x="433.2" y="644" fill="#6e3403"/><rect class="he" x="438.2" y="644" fill="#5e2c02"/><rect class="he" x="443.2" y="644" fill="#522602"/><rect class="he" x="448.2" y="644" fill="#4e2402"/><rect class="he" x="453.2" y="644" fill="#3a1b01"/><rect class="he" x="458.2" y="644" fill="#331701"/><rect class="he" x="463.2" y="644" fill="#2d1401"/><rect class="he" x="468.2" y="644" fill="#251001"/><rect class="he" x="473.2" y="644" fill="#251101"/><rect class="he" x="478.2" y="644" fill="#241001"/><rect class="he" x="483.2" y="644" fill="#210f01"/><rect class="he" x="488.2" y="644" fill="#220f01"/><rect class="he" x="493.2" y="644" fill="#210f01"/><rect class="he" x="498.2" y="644" fill="#200e01"/><rect class="he" x="503.2" y="644" fill="#220f01"/><rect class="he" x="508.2" y="644" fill="#200e01"/><rect class="he" x="513.2" y="644" fill="#200e01"/><rect class="he" x="518.2" y="644" fill="#220f01"/><rect class="he" x="523.2" y="644" fill="#200e01"/><rect class="he" x="528.2" y="644" fill="#210f01"/><rect class="he" x="533.2" y="644" fill="#241001"/><rect class="he" x="538.2" y="644" fill="#241001"/><rect class="he" x="543.2" y="644" fill="#291201"/><rect class="he" x="548.2" y="644" fill="#2b1301"/><rect class="he" x="553.2" y="644" fill="#2d1401"/><rect class="he" x="558.2" y="644" fill="#341801"/><rect class="he" x="563.2" y="644" fill="#371901"/><rect class="he" x="568.2" y="644" fill="#3a1b01"/><rect class="he" x="573.2" y="644" fill="#421e02"/><rect class="he" x="578.2" y="644" fill="#431f02"/><rect class="he" x="583.2" y="644" fill="#472102"/><rect class="he" x="588.2" y="644" fill="#4d2402"/><rect class="he" x="593.2" y="644" fill="#4d2402"/><rect class="he" x="598.2" y="644" fill="#532702"/><rect class="he" x="603.2" y="644" fill="#592a02"/><rect class="he" x="608.2" y="644" fill="#5b2b02"/><rect class="he" x="613.2" y="644" fill="#632e02"/><rect class="he" x="618.2" y="644" fill="#673003"/><rect class="he" x="623.2" y="644" fill="#693103"/><rect class="he" x="628.2" y="644" fill="#693103"/><rect class="he" x="633.2" y="644" fill="#693103"/><rect class="he" x="403.2" y="649" fill="#8d4403"/><rect class="he" x="408.2" y="649" fill="#8d4403"/><rect class="he" x="413.2" y="649" fill="#8c4303"/><rect class="he" x="418.2" y="649" fill="#8e4403"/><rect class="he" x="423.2" y="649" fill="#7d3b03"/><rect class="he" x="428.2" y="649" fill="#6d3303"/><rect class="he" x="433.2" y="649" fill="#6e3403"/><rect class="he" x="438.2" y="649" fill="#5e2c02"/><rect class="he" x="443.2" y="649" fill="#522602"/><rect class="he" x="448.2" y="649" fill="#4e2402"/><rect class="he" x="453.2" y="649" fill="#3a1b01"/><rect class="he" x="458.2" y="649" fill="#331701"/><rect class="he" x="463.2" y="649" fill="#2d1401"/><rect class="he" x="468.2" y="649" fill="#251001"/><rect class="he" x="473.2" y="649" fill="#251101"/><rect class="he" x="478.2" y="649" fill="#241001"/><rect class="he" x="483.2" y="649" fill="#210f01"/><rect class="he" x="488.2" y="649" fill="#220f01"/><rect class="he" x="493.2" y="649" fill="#210f01"/><rect class="he" x="498.2" y="649" fill="#200e01"/><rect class="he" x="503.2" y="649" fill="#220f01"/><rect class="he" x="508.2" y="649" fill="#200e01"/><rect class="he" x="513.2" y="649" fill="#200e01"/><rect class="he" x="518.2" y="649" fill="#220f01"/><rect class="he" x="523.2" y="649" fill="#200e01"/><rect class="he" x="528.2" y="649" fill="#210f01"/><rect class="he" x="533.2" y="649" fill="#241001"/><rect class="he" x="538.2" y="649" fill="#241001"/><rect class="he" x="543.2" y="649" fill="#291201"/><rect class="he" x="548.2" y="649" fill="#2b1301"/><rect class="he" x="553.2" y="649" fill="#2d1401"/><rect class="he" x="558.2" y="649" fill="#341801"/><rect class="he" x="563.2" y="649" fill="#371901"/><rect class="he" x="568.2" y="649" fill="#3a1b01"/><rect class="he" x="573.2" y="649" fill="#421e02"/><rect class="he" x="578.2" y="649" fill="#431f02"/><rect class="he" x="583.2" y="649" fill="#472102"/><rect class="he" x="588.2" y="649" fill="#4d2402"/><rect class="he" x="593.2" y="649" fill="#4d2402"/><rect class="he" x="598.2" y="649" fill="#532702"/><rect class="he" x="603.2" y="649" fill="#592a02"/><rect class="he" x="608.2" y="649" fill="#5b2b02"/><rect class="he" x="613.2" y="649" fill="#632e02"/><rect class="he" x="618.2" y="649" fill="#673003"/><rect class="he" x="623.2" y="649" fill="#693103"/><rect class="he" x="628.2" y="649" fill="#693103"/><rect class="he" x="633.2" y="649" fill="#693103"/><rect class="he" x="403.2" y="654" fill="#8d4403"/><rect class="he" x="408.2" y="654" fill="#8d4403"/><rect class="he" x="413.2" y="654" fill="#8c4303"/><rect class="he" x="418.2" y="654" fill="#8e4403"/><rect class="he" x="423.2" y="654" fill="#7d3b03"/><rect class="he" x="428.2" y="654" fill="#6d3303"/><rect class="he" x="433.2" y="654" fill="#6e3403"/><rect class="he" x="438.2" y="654" fill="#5e2c02"/><rect class="he" x="443.2" y="654" fill="#522602"/><rect class="he" x="448.2" y="654" fill="#4e2402"/><rect class="he" x="453.2" y="654" fill="#3a1b01"/><rect class="he" x="458.2" y="654" fill="#331701"/><rect class="he" x="463.2" y="654" fill="#2d1401"/><rect class="he" x="468.2" y="654" fill="#251001"/><rect class="he" x="473.2" y="654" fill="#251101"/><rect class="he" x="478.2" y="654" fill="#241001"/><rect class="he" x="483.2" y="654" fill="#210f01"/><rect class="he" x="488.2" y="654" fill="#220f01"/><rect class="he" x="493.2" y="654" fill="#210f01"/><rect class="he" x="498.2" y="654" fill="#200e01"/><rect class="he" x="503.2" y="654" fill="#220f01"/><rect class="he" x="508.2" y="654" fill="#200e01"/><rect class="he" x="513.2" y="654" fill="#200e01"/><rect class="he" x="518.2" y="654" fill="#220f01"/><rect class="he" x="523.2" y="654" fill="#200e01"/><rect class="he" x="528.2" y="654" fill="#210f01"/><rect class="he" x="533.2" y="654" fill="#241001"/><rect class="he" x="538.2" y="654" fill="#241001"/><rect class="he" x="543.2" y="654" fill="#291201"/><rect class="he" x="548.2" y="654" fill="#2b1301"/><rect class="he" x="553.2" y="654" fill="#2d1401"/><rect class="he" x="558.2" y="654" fill="#341801"/><rect class="he" x="563.2" y="654" fill="#371901"/><rect class="he" x="568.2" y="654" fill="#3a1b01"/><rect class="he" x="573.2" y="654" fill="#421e02"/><rect class="he" x="578.2" y="654" fill="#431f02"/><rect class="he" x="583.2" y="654" fill="#472102"/><rect class="he" x="588.2" y="654" fill="#4d2402"/><rect class="he" x="593.2" y="654" fill="#4d2402"/><rect class="he" x="598.2" y="654" fill="#532702"/><rect class="he" x="603.2" y="654" fill="#592a02"/><rect class="he" x="608.2" y="654" fill="#5b2b02"/><rect class="he" x="613.2" y="654" fill="#632e02"/><rect class="he" x="618.2" y="654" fill="#673003"/><rect class="he" x="623.2" y="654" fill="#693103"/><rect class="he" x="628.2" y="654" fill="#693103"/><rect class="he" x="633.2" y="654" fill="#693103"/>
</g>
<rect x="413.2" y="389.0" width="213.0" height="255.6" filter="url(#streak)" opacity="0.28"/>
</g>
<filter id="blhe" x="-10%" y="-10%" width="120%" height="120%" color-interpolation-filters="sRGB"><feGaussianBlur stdDeviation="3.4"/></filter>
<rect x="413.7" y="389.5" width="212" height="254.6" fill="none" stroke="#5c0c00" stroke-width="1" opacity="0.8"/>
<rect x="410.8" y="387.0" width="217" height="259.4" fill="none" stroke="#000" stroke-width="1.4"/>
<line x1="412.8" y1="645.6" x2="412.8" y2="638.5" stroke="#000" stroke-width="1.3"/>
<line x1="455.5" y1="645.6" x2="455.5" y2="638.5" stroke="#000" stroke-width="1.3"/>
<line x1="498.2" y1="645.6" x2="498.2" y2="638.5" stroke="#000" stroke-width="1.3"/>
<line x1="540.9" y1="645.6" x2="540.9" y2="638.5" stroke="#000" stroke-width="1.3"/>
<line x1="583.6" y1="645.6" x2="583.6" y2="638.5" stroke="#000" stroke-width="1.3"/>
<line x1="626.3" y1="645.6" x2="626.3" y2="638.5" stroke="#000" stroke-width="1.3"/>
<line x1="410.8" y1="642.6" x2="420" y2="642.6" stroke="#000" stroke-width="1.3"/>
<line x1="410.8" y1="589.1" x2="420" y2="589.1" stroke="#000" stroke-width="1.3"/>
<line x1="410.8" y1="535.7" x2="420" y2="535.7" stroke="#000" stroke-width="1.3"/>
<line x1="410.8" y1="482.2" x2="420" y2="482.2" stroke="#000" stroke-width="1.3"/>
<line x1="410.8" y1="428.8" x2="420" y2="428.8" stroke="#000" stroke-width="1.3"/>
<text x="405.1" y="666.3" font-size="21.5" text-anchor="middle">-0.5</text>
<text x="451.6" y="666.3" font-size="21.5" text-anchor="middle">0.0</text>
<text x="496.1" y="666.3" font-size="21.5" text-anchor="middle">0.5</text>
<text x="537.3" y="666.3" font-size="21.5" text-anchor="middle">1.0</text>
<text x="580.7" y="666.3" font-size="21.5" text-anchor="middle">1.5</text>
<text x="622.7" y="666.3" font-size="21.5" text-anchor="middle">2.0</text>
<text x="405.8" y="649.6" font-size="21.5" text-anchor="end">0</text>
<text x="405.8" y="596.1" font-size="21.5" text-anchor="end">1</text>
<text x="405.8" y="542.7" font-size="21.5" text-anchor="end">2</text>
<text x="405.8" y="489.2" font-size="21.5" text-anchor="end">3</text>
<text x="405.8" y="435.8" font-size="21.5" text-anchor="end">4</text>
<text x="523.2" y="687.0" font-size="21.5" text-anchor="middle">Sample bias (V)</text>
<text transform="translate(383.2,524.8) rotate(-90)" font-size="21.8" text-anchor="middle">Distance (nm)</text>
<path d="M632.5 532.8H648.2" stroke="#f57a1c" stroke-width="1.8"/><path d="M631.0 532.8L640.2 528.0L637.6 532.8L640.2 537.7Z" fill="#f57a1c"/>
<text x="647.8" y="540.6" font-size="21.0" fill="#f57a1c">AE1</text>
<linearGradient id="cb578" x1="0" y1="0" x2="0" y2="1"><stop offset="0.00" stop-color="#fffaf0"/><stop offset="0.15" stop-color="#ffe1b4"/><stop offset="0.27" stop-color="#ffc882"/><stop offset="0.42" stop-color="#faa864"/><stop offset="0.52" stop-color="#f0965a"/><stop offset="0.62" stop-color="#c8784b"/><stop offset="0.72" stop-color="#965a37"/><stop offset="0.82" stop-color="#643c28"/><stop offset="0.92" stop-color="#321e14"/><stop offset="1.00" stop-color="#0f0805"/></linearGradient>
<rect x="649.7" y="579.5" width="15.5" height="50.8" fill="url(#cb578)" stroke="#111" stroke-width="2"/>
<text x="659.1" y="567.2" font-size="21.5" text-anchor="middle">High</text>
<text x="659.8" y="655.8" font-size="21.5" text-anchor="middle">Low</text>
<clipPath id="cpf"><rect x="713.6" y="371.5" width="286.4" height="286.9"/></clipPath>
<g clip-path="url(#cpf)">
<rect x="713.6" y="371.5" width="286.4" height="286.9" fill="#4a86c8"/>
<g transform="rotate(35 857 515)"><rect x="640" y="300" width="434" height="430" filter="url(#turbf)"/></g>
<g fill="#eef4fb" filter="url(#bldot)"><circle cx="852.1" cy="632.0" r="2.0" opacity="0.48"/><circle cx="854.9" cy="629.0" r="2.2" opacity="0.55"/><circle cx="858.9" cy="626.0" r="2.4" opacity="0.53"/><circle cx="864.2" cy="626.1" r="2.2" opacity="0.51"/><circle cx="865.7" cy="622.4" r="1.5" opacity="0.41"/><circle cx="869.7" cy="619.6" r="1.9" opacity="0.56"/><circle cx="875.0" cy="617.0" r="2.2" opacity="0.47"/><circle cx="879.8" cy="615.5" r="2.4" opacity="0.53"/><circle cx="881.9" cy="611.2" r="1.5" opacity="0.54"/><circle cx="886.0" cy="607.7" r="2.5" opacity="0.56"/><circle cx="887.2" cy="605.1" r="2.0" opacity="0.60"/><circle cx="889.6" cy="600.7" r="2.3" opacity="0.42"/><circle cx="892.9" cy="597.7" r="2.3" opacity="0.39"/><circle cx="894.9" cy="591.6" r="2.4" opacity="0.40"/><circle cx="898.4" cy="588.1" r="2.3" opacity="0.39"/><circle cx="900.2" cy="584.7" r="1.7" opacity="0.42"/><circle cx="909.7" cy="573.2" r="1.9" opacity="0.57"/><circle cx="910.4" cy="571.8" r="1.7" opacity="0.42"/><circle cx="915.9" cy="563.1" r="1.5" opacity="0.50"/><circle cx="919.1" cy="560.5" r="1.9" opacity="0.59"/><circle cx="921.6" cy="558.5" r="1.6" opacity="0.63"/><circle cx="925.8" cy="545.2" r="2.5" opacity="0.64"/><circle cx="932.7" cy="531.4" r="1.4" opacity="0.94"/><circle cx="936.3" cy="528.2" r="2.4" opacity="0.80"/><circle cx="937.9" cy="525.7" r="1.5" opacity="0.66"/><circle cx="942.3" cy="522.2" r="1.7" opacity="0.92"/><circle cx="943.0" cy="518.1" r="1.9" opacity="0.59"/><circle cx="946.6" cy="515.6" r="1.6" opacity="0.71"/><circle cx="954.4" cy="504.2" r="1.6" opacity="0.37"/><circle cx="957.1" cy="500.3" r="2.6" opacity="0.37"/><circle cx="958.2" cy="496.3" r="1.8" opacity="0.60"/><circle cx="960.5" cy="492.2" r="2.5" opacity="0.85"/><circle cx="963.0" cy="489.1" r="1.8" opacity="0.83"/><circle cx="968.8" cy="478.4" r="2.1" opacity="0.81"/><circle cx="970.2" cy="474.3" r="1.5" opacity="0.81"/><circle cx="969.7" cy="462.6" r="2.1" opacity="0.74"/><circle cx="970.6" cy="452.9" r="2.1" opacity="0.75"/><circle cx="971.1" cy="449.6" r="2.1" opacity="0.58"/><circle cx="970.0" cy="444.8" r="2.2" opacity="0.41"/><circle cx="972.8" cy="441.3" r="1.9" opacity="0.57"/><circle cx="972.8" cy="435.9" r="1.9" opacity="0.55"/><circle cx="974.5" cy="423.1" r="1.6" opacity="0.48"/><circle cx="976.9" cy="410.2" r="1.6" opacity="0.47"/><circle cx="975.4" cy="406.5" r="2.2" opacity="0.48"/><circle cx="977.3" cy="403.9" r="1.9" opacity="0.38"/><circle cx="977.7" cy="397.6" r="2.3" opacity="0.50"/><circle cx="977.8" cy="393.5" r="1.6" opacity="0.47"/><circle cx="978.2" cy="390.0" r="1.6" opacity="0.37"/></g>
<g fill="#f2f6fb" opacity="0.9" filter="url(#bldot)"><circle cx="773.9" cy="374.1" r="2.6"/><circle cx="723.0" cy="397.5" r="1.8"/><circle cx="812.8" cy="397.5" r="1.8"/><circle cx="847.4" cy="386.6" r="1.8"/><circle cx="741.4" cy="428.9" r="1.8"/><circle cx="754.4" cy="430.0" r="1.8"/><circle cx="771.7" cy="427.8" r="1.6"/><circle cx="804.2" cy="427.8" r="2.4"/><circle cx="845.3" cy="417.0" r="1.8"/><circle cx="846.4" cy="434.3" r="1.8"/><circle cx="715.4" cy="468.9" r="1.6"/><circle cx="731.6" cy="475.4" r="1.6"/><circle cx="828.0" cy="502.4" r="1.6"/><circle cx="798.7" cy="512.2" r="2.2"/><circle cx="797.7" cy="514.3" r="2.0"/><circle cx="776.0" cy="559.8" r="2.0"/><circle cx="768.4" cy="555.5" r="1.6"/><circle cx="766.3" cy="603.0" r="2.0"/><circle cx="820.4" cy="599.8" r="1.8"/><circle cx="794.4" cy="616.0" r="2.0"/><circle cx="740.3" cy="639.9" r="3.0"/><circle cx="770.6" cy="641.0" r="2.2"/><circle cx="718.7" cy="648.5" r="1.8"/><circle cx="796.6" cy="648.5" r="2.0"/><circle cx="848.5" cy="632.3" r="1.8"/><circle cx="734.9" cy="550.0" r="1.6"/><circle cx="725.2" cy="536.0" r="1.6"/><circle cx="953.9" cy="608.5" r="1.8"/><circle cx="931.2" cy="598.7" r="1.6"/><circle cx="908.4" cy="652.9" r="2.0"/><circle cx="982.0" cy="568.4" r="1.6"/><circle cx="940.9" cy="592.2" r="1.6"/><circle cx="956.0" cy="618.2" r="1.6"/><circle cx="894.4" cy="375.8" r="2.6"/><circle cx="930.0" cy="380.2" r="2.2"/><circle cx="859.7" cy="394.2" r="2.0"/><circle cx="908.4" cy="426.7" r="2.0"/><circle cx="909.5" cy="435.3" r="1.8"/><circle cx="899.8" cy="446.8" r="2.2"/><circle cx="854.3" cy="473.2" r="1.6"/><circle cx="970.1" cy="453.7" r="3.0"/><circle cx="970.1" cy="474.3" r="2.4"/><circle cx="960.4" cy="491.6" r="2.6"/><circle cx="924.7" cy="501.4" r="1.6"/><circle cx="997.2" cy="374.7" r="2.0"/><circle cx="752.0" cy="645.0" r="2.4"/></g>
</g>
<filter id="turbf" x="0" y="0" width="100%" height="100%" color-interpolation-filters="sRGB"><feTurbulence type="fractalNoise" baseFrequency="0.14 0.32" numOctaves="2" seed="9"/><feColorMatrix type="matrix" values="0.55 0 0 0 0.007  0.55 0 0 0 0.243  0.4 0 0 0 0.584  0 0 0 0 1"/></filter>
</svg></body></html>
